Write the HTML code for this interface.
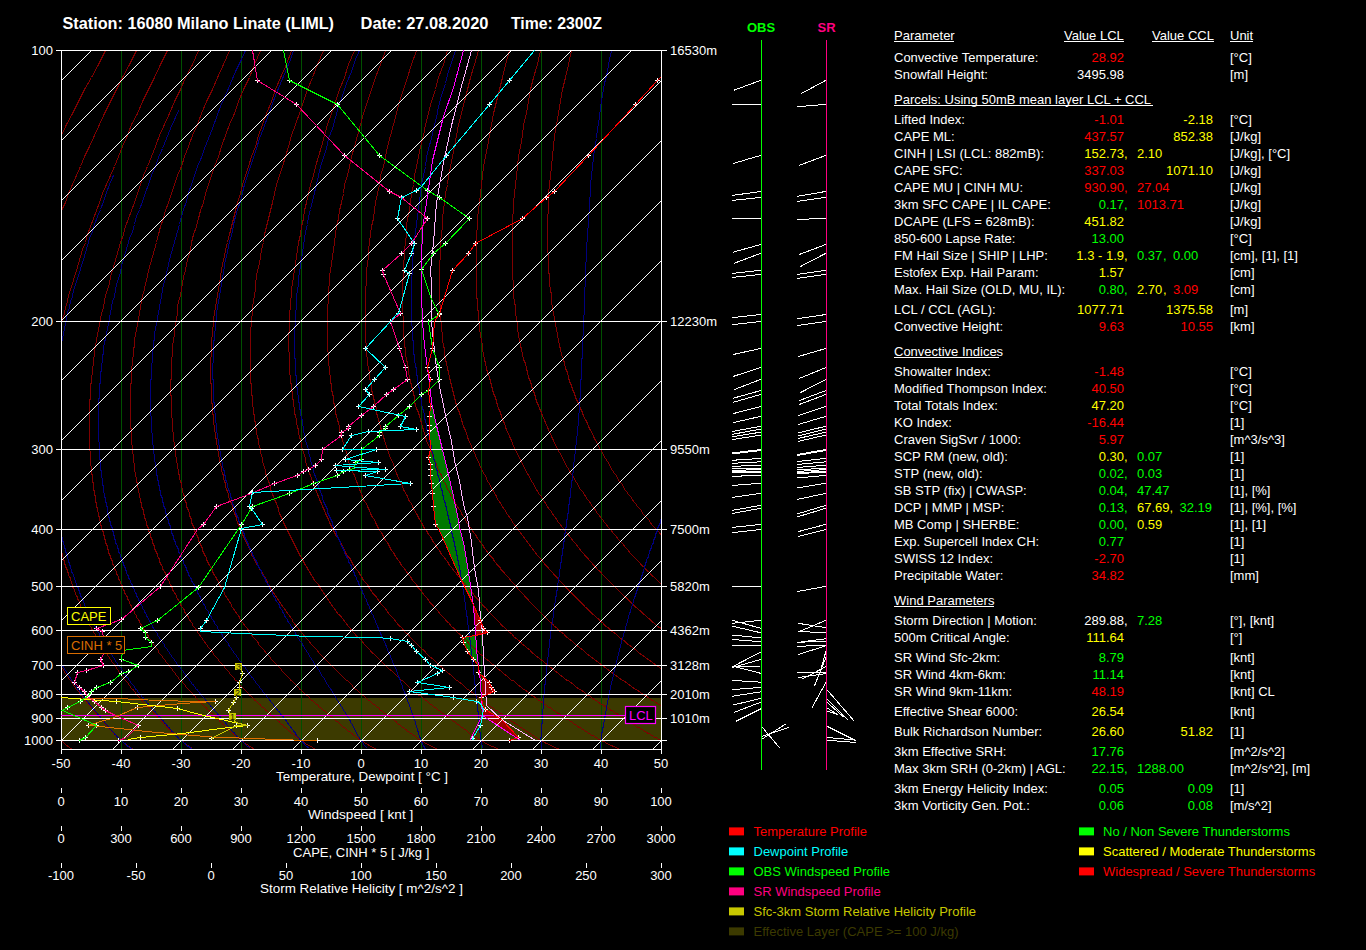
<!DOCTYPE html>
<html><head><meta charset="utf-8"><style>
html,body{margin:0;padding:0;background:#000;}
body{width:1366px;height:950px;overflow:hidden;}
svg{display:block;}
text{font-family:"Liberation Sans",sans-serif;}
</style></head><body>
<svg width="1366" height="950" viewBox="0 0 1366 950">
<rect x="0" y="0" width="1366" height="950" fill="#000"/>
<defs><clipPath id="pc"><rect x="61" y="50" width="600" height="699"/></clipPath></defs>
<g clip-path="url(#pc)" shape-rendering="crispEdges">
<rect x="61" y="698" width="600" height="42" fill="#3c3a00"/>
<polygon points="430.5,406.3 429.9,416.8 429,425.3 429.5,430.5 430.3,449.2 428.4,457.9 430.5,464.2 430.5,475.2 431.6,483.2 432.6,493.7 433.7,506.3 435.8,524.5 439.6,530.2 461.7,580.7 470.6,597 470.5,585.8 467.3,565.6 463.6,542.8 459,526 457,515 453,496 448,474.5 442.3,449.2 436.6,425.3 431.8,402" fill="#007800"/>
<polygon points="475.4,635.4 462.1,637.9 463.4,642.9 467.1,651.8 473.5,659.3 478.5,665.7 476.6,649.2 476,636" fill="#007800"/>
<polygon points="470.6,597 471.8,600.9 480.4,620.2 483.6,628.4 487.3,632.2 475.4,635.4 476,636 475.6,630 473,606" fill="#9a0000"/>
<polygon points="478.5,665.7 478.5,672 489.2,682.1 491.1,687.1 494.8,691.2 486.9,694.5 481.6,697.6 481.3,697 480.4,682.1" fill="#9a0000"/>
<polygon points="481.7,701 482.1,704.6 485.1,709.9 501.8,719.5 518.5,737.1 520.3,740.6 482.1,715.1" fill="#9a0000"/>
<line x1="121.5" y1="50" x2="121.5" y2="749" stroke="#005000" stroke-width="1" />
<line x1="181.5" y1="50" x2="181.5" y2="749" stroke="#005000" stroke-width="1" />
<line x1="241.5" y1="50" x2="241.5" y2="749" stroke="#005000" stroke-width="1" />
<line x1="301.5" y1="50" x2="301.5" y2="749" stroke="#005000" stroke-width="1" />
<line x1="361.5" y1="50" x2="361.5" y2="749" stroke="#005000" stroke-width="1" />
<line x1="421.5" y1="50" x2="421.5" y2="749" stroke="#005000" stroke-width="1" />
<line x1="481.5" y1="50" x2="481.5" y2="749" stroke="#005000" stroke-width="1" />
<line x1="541.5" y1="50" x2="541.5" y2="749" stroke="#005000" stroke-width="1" />
<line x1="601.5" y1="50" x2="601.5" y2="749" stroke="#005000" stroke-width="1" />
<polyline points="71.5,748.5 70.5,748.5 69.5,747.5 68.5,746.5 67.5,746.5 67.5,745.5 66.5,745.5 65.5,744.5 64.5,743.5 63.5,742.5 62.5,741.5 61.5,740.5 60.5,740.5 60.5,739.5 59.5,739.5 58.5,738.5 58.5,737.5 57.5,737.5 57.5,736.5 56.5,735.5 55.5,734.5 54.5,733.5 53.5,732.5 53.5,731.5 52.5,731.5 51.5,730.5 51.5,729.5 50.5,729.5 50.5,728.5 49.5,727.5 48.5,726.5 48.5,725.5 47.5,724.5 46.5,724.5 46.5,723.5 45.5,722.5 45.5,721.5 44.5,721.5 44.5,720.5 43.5,719.5 42.5,719.5 42.5,718.5 41.5,717.5 41.5,716.5 40.5,716.5 39.5,715.5 39.5,714.5 38.5,713.5 37.5,712.5 37.5,711.5 36.5,710.5 35.5,710.5 35.5,709.5 34.5,708.5 34.5,707.5 33.5,707.5 32.5,706.5 32.5,705.5 31.5,704.5 30.5,703.5 29.5,702.5 29.5,701.5 28.5,700.5 27.5,699.5 26.5,698.5 26.5,697.5 25.5,696.5 25.5,695.5 24.5,695.5 24.5,694.5 23.5,693.5 22.5,692.5 22.5,691.5 21.5,690.5 21.5,689.5 20.5,689.5 19.5,688.5 19.5,687.5 18.5,686.5 18.5,685.5 17.5,684.5 17.5,683.5 16.5,682.5 15.5,681.5 15.5,680.5 14.5,680.5 14.5,679.5 13.5,678.5 13.5,677.5 12.5,676.5 11.5,675.5 11.5,674.5 10.5,673.5 10.5,672.5 9.5,671.5 9.5,670.5 8.5,669.5 8.5,668.5 7.5,667.5 6.5,666.5 6.5,665.5 5.5,664.5 5.5,663.5 4.5,662.5 4.5,661.5 3.5,660.5 3.5,659.5 2.5,658.5 1.5,657.5 1.5,656.5 0.5,655.5 0.5,654.5 -0.5,653.5 -0.5,652.5 -1.5,650.5 -1.5,649.5 -2.5,648.5 -3.5,647.5 -3.5,646.5 -4.5,645.5 -4.5,644.5 -5.5,643.5 -5.5,641.5 -6.5,640.5 -6.5,639.5 -7.5,638.5 -7.5,637.5 -8.5,636.5 -9.5,634.5 -9.5,633.5 -10.5,632.5 -10.5,631.5 -11.5,630.5 -11.5,628.5 -12.5,627.5 -12.5,626.5 -13.5,625.5 -13.5,623.5 -14.5,622.5 -14.5,621.5 -15.5,619.5 -15.5,618.5 -16.5,617.5 -16.5,615.5 -17.5,614.5 -17.5,613.5 -17.5,611.5 -18.5,610.5 -18.5,608.5 -19.5,607.5 -19.5,606.5 -20.5,604.5 -20.5,603.5 -21.5,601.5 -21.5,600.5 -22.5,598.5 -22.5,597.5 -22.5,595.5 -23.5,594.5 -23.5,592.5 -24.5,591.5 -24.5,589.5 -25.5,588.5 -25.5,586.5 -25.5,584.5 -26.5,583.5 -26.5,581.5 -27.5,580.5 -27.5,578.5 -27.5,576.5 -28.5,575.5 -28.5,573.5 -29.5,571.5 -29.5,570.5 -29.5,568.5 -30.5,566.5 -30.5,565.5 -31.5,563.5 -31.5,561.5 -31.5,559.5 -32.5,557.5 -32.5,556.5 -32.5,554.5 -33.5,552.5 -33.5,550.5 -33.5,548.5 -34.5,546.5 -34.5,544.5 -34.5,542.5 -34.5,540.5 -35.5,538.5 -35.5,536.5 -35.5,534.5 -36.5,532.5 -36.5,530.5 -36.5,528.5 -36.5,526.5 -36.5,524.5 -37.5,522.5 -37.5,519.5 -37.5,517.5 -37.5,515.5 -37.5,513.5 -38.5,510.5 -38.5,508.5 -38.5,506.5 -38.5,503.5 -38.5,501.5 -38.5,499.5 -38.5,496.5 -38.5,494.5 -38.5,491.5 -38.5,489.5 -38.5,486.5 -38.5,483.5 -38.5,481.5 -38.5,478.5 -38.5,475.5 -38.5,473.5 -38.5,470.5 -38.5,467.5 -38.5,464.5 -38.5,461.5 -38.5,458.5 -38.5,455.5 -37.5,452.5 -37.5,449.5 -37.5,446.5 -37.5,443.5 -36.5,440.5 -36.5,436.5 -36.5,433.5 -35.5,430.5 -35.5,426.5 -35.5,423.5 -34.5,419.5 -34.5,416.5 -33.5,412.5 -33.5,408.5 -32.5,405.5 -32.5,401.5 -31.5,397.5 -30.5,393.5 -30.5,389.5 -29.5,385.5 -28.5,381.5 -27.5,377.5 -26.5,372.5 -25.5,368.5 -24.5,363.5 -23.5,359.5 -22.5,354.5 -21.5,349.5 -20.5,345.5 -18.5,340.5 -17.5,334.5 -16.5,329.5 -14.5,324.5 -12.5,318.5 -11.5,313.5 -9.5,307.5 -7.5,301.5 -5.5,295.5 -3.5,289.5 -1.5,283.5 1.5,276.5 3.5,270.5 5.5,263.5 8.5,256.5 11.5,249.5 14.5,242.5 17.5,234.5 20.5,226.5 23.5,218.5 26.5,210.5 30.5,202.5 34.5,193.5 38.5,184.5 42.5,175.5 46.5,166.5 51.5,156.5 56.5,146.5 61.5,135.5 66.5,124.5 72.5,113.5 78.5,101.5 84.5,89.5 91.5,77.5 98.5,64.5 105.5,50.5" fill="none" stroke="#800000" stroke-width="1" />
<polyline points="132.5,748.5 131.5,748.5 130.5,747.5 129.5,747.5 129.5,746.5 128.5,746.5 127.5,745.5 126.5,744.5 125.5,744.5 124.5,743.5 123.5,742.5 122.5,741.5 121.5,740.5 120.5,740.5 120.5,739.5 119.5,739.5 118.5,738.5 118.5,737.5 117.5,737.5 116.5,736.5 116.5,735.5 115.5,735.5 114.5,734.5 114.5,733.5 113.5,733.5 113.5,732.5 112.5,731.5 111.5,731.5 111.5,730.5 110.5,729.5 109.5,729.5 109.5,728.5 108.5,727.5 107.5,726.5 106.5,725.5 106.5,724.5 105.5,724.5 104.5,723.5 104.5,722.5 103.5,721.5 102.5,720.5 101.5,719.5 100.5,718.5 99.5,717.5 99.5,716.5 98.5,716.5 97.5,715.5 97.5,714.5 96.5,713.5 95.5,713.5 95.5,712.5 94.5,711.5 94.5,710.5 93.5,710.5 92.5,709.5 92.5,708.5 91.5,707.5 90.5,707.5 90.5,706.5 89.5,705.5 88.5,704.5 87.5,703.5 86.5,702.5 86.5,701.5 85.5,700.5 84.5,700.5 84.5,699.5 83.5,698.5 82.5,697.5 82.5,696.5 81.5,695.5 80.5,695.5 80.5,694.5 79.5,693.5 79.5,692.5 78.5,691.5 77.5,690.5 77.5,689.5 76.5,689.5 75.5,688.5 75.5,687.5 74.5,686.5 73.5,685.5 73.5,684.5 72.5,683.5 71.5,682.5 71.5,681.5 70.5,680.5 69.5,679.5 68.5,678.5 68.5,677.5 67.5,676.5 66.5,675.5 66.5,674.5 65.5,673.5 64.5,672.5 64.5,671.5 63.5,670.5 63.5,669.5 62.5,668.5 61.5,667.5 61.5,666.5 60.5,665.5 59.5,664.5 59.5,663.5 58.5,662.5 58.5,661.5 57.5,660.5 56.5,659.5 56.5,658.5 55.5,657.5 54.5,656.5 54.5,655.5 53.5,654.5 53.5,653.5 52.5,652.5 51.5,650.5 51.5,649.5 50.5,648.5 49.5,647.5 49.5,646.5 48.5,645.5 48.5,644.5 47.5,643.5 46.5,641.5 46.5,640.5 45.5,639.5 44.5,638.5 44.5,637.5 43.5,636.5 43.5,634.5 42.5,633.5 41.5,632.5 41.5,631.5 40.5,630.5 40.5,628.5 39.5,627.5 38.5,626.5 38.5,625.5 37.5,623.5 37.5,622.5 36.5,621.5 36.5,619.5 35.5,618.5 34.5,617.5 34.5,615.5 33.5,614.5 33.5,613.5 32.5,611.5 32.5,610.5 31.5,608.5 31.5,607.5 30.5,606.5 29.5,604.5 29.5,603.5 28.5,601.5 28.5,600.5 27.5,598.5 27.5,597.5 26.5,595.5 26.5,594.5 25.5,592.5 25.5,591.5 24.5,589.5 24.5,588.5 23.5,586.5 23.5,584.5 22.5,583.5 22.5,581.5 21.5,580.5 21.5,578.5 20.5,576.5 20.5,575.5 19.5,573.5 19.5,571.5 18.5,570.5 18.5,568.5 17.5,566.5 17.5,565.5 16.5,563.5 16.5,561.5 16.5,559.5 15.5,557.5 15.5,556.5 14.5,554.5 14.5,552.5 13.5,550.5 13.5,548.5 12.5,546.5 12.5,544.5 12.5,542.5 11.5,540.5 11.5,538.5 11.5,536.5 10.5,534.5 10.5,532.5 9.5,530.5 9.5,528.5 9.5,526.5 9.5,524.5 8.5,522.5 8.5,519.5 8.5,517.5 7.5,515.5 7.5,513.5 7.5,510.5 7.5,508.5 6.5,506.5 6.5,503.5 6.5,501.5 6.5,499.5 5.5,496.5 5.5,494.5 5.5,491.5 5.5,489.5 5.5,486.5 5.5,483.5 4.5,481.5 4.5,478.5 4.5,475.5 4.5,473.5 4.5,470.5 4.5,467.5 4.5,464.5 4.5,461.5 4.5,458.5 4.5,455.5 4.5,452.5 4.5,449.5 4.5,446.5 5.5,443.5 5.5,440.5 5.5,436.5 5.5,433.5 5.5,430.5 6.5,426.5 6.5,423.5 6.5,419.5 7.5,416.5 7.5,412.5 7.5,408.5 8.5,405.5 8.5,401.5 9.5,397.5 9.5,393.5 10.5,389.5 10.5,385.5 11.5,381.5 12.5,377.5 12.5,372.5 13.5,368.5 14.5,363.5 15.5,359.5 16.5,354.5 17.5,349.5 18.5,345.5 19.5,340.5 20.5,334.5 22.5,329.5 23.5,324.5 24.5,318.5 26.5,313.5 28.5,307.5 29.5,301.5 31.5,295.5 33.5,289.5 35.5,283.5 37.5,276.5 39.5,270.5 42.5,263.5 44.5,256.5 47.5,249.5 49.5,242.5 52.5,234.5 55.5,226.5 58.5,218.5 61.5,210.5 65.5,202.5 68.5,193.5 72.5,184.5 76.5,175.5 80.5,166.5 84.5,156.5 89.5,146.5 94.5,135.5 99.5,124.5 104.5,113.5 110.5,101.5 116.5,89.5 122.5,77.5 129.5,64.5 136.5,50.5" fill="none" stroke="#800000" stroke-width="1" />
<polyline points="192.5,748.5 191.5,747.5 190.5,747.5 189.5,746.5 188.5,745.5 187.5,745.5 186.5,744.5 185.5,743.5 184.5,743.5 183.5,742.5 183.5,741.5 182.5,741.5 181.5,740.5 180.5,740.5 180.5,739.5 179.5,739.5 178.5,738.5 177.5,737.5 176.5,736.5 175.5,735.5 174.5,734.5 173.5,733.5 172.5,732.5 171.5,731.5 170.5,731.5 170.5,730.5 169.5,729.5 168.5,729.5 168.5,728.5 167.5,727.5 166.5,727.5 166.5,726.5 165.5,725.5 164.5,724.5 163.5,723.5 162.5,722.5 162.5,721.5 161.5,721.5 160.5,720.5 160.5,719.5 159.5,719.5 158.5,718.5 157.5,717.5 157.5,716.5 156.5,716.5 155.5,715.5 155.5,714.5 154.5,713.5 153.5,713.5 153.5,712.5 152.5,711.5 151.5,710.5 150.5,710.5 150.5,709.5 149.5,708.5 148.5,707.5 147.5,706.5 146.5,705.5 145.5,704.5 144.5,703.5 143.5,702.5 142.5,701.5 142.5,700.5 141.5,700.5 140.5,699.5 140.5,698.5 139.5,697.5 138.5,696.5 137.5,695.5 136.5,694.5 135.5,693.5 135.5,692.5 134.5,691.5 133.5,690.5 133.5,689.5 132.5,689.5 131.5,688.5 130.5,687.5 130.5,686.5 129.5,685.5 128.5,684.5 128.5,683.5 127.5,682.5 126.5,681.5 125.5,680.5 124.5,679.5 123.5,678.5 123.5,677.5 122.5,676.5 121.5,675.5 121.5,674.5 120.5,673.5 119.5,672.5 118.5,671.5 118.5,670.5 117.5,669.5 116.5,668.5 116.5,667.5 115.5,666.5 114.5,665.5 114.5,664.5 113.5,663.5 112.5,662.5 111.5,661.5 111.5,660.5 110.5,659.5 109.5,658.5 109.5,657.5 108.5,656.5 107.5,655.5 107.5,654.5 106.5,653.5 105.5,652.5 104.5,650.5 104.5,649.5 103.5,648.5 102.5,647.5 102.5,646.5 101.5,645.5 100.5,644.5 100.5,643.5 99.5,641.5 98.5,640.5 97.5,639.5 97.5,638.5 96.5,637.5 95.5,636.5 95.5,634.5 94.5,633.5 93.5,632.5 93.5,631.5 92.5,630.5 91.5,628.5 91.5,627.5 90.5,626.5 89.5,625.5 89.5,623.5 88.5,622.5 87.5,621.5 87.5,619.5 86.5,618.5 85.5,617.5 85.5,615.5 84.5,614.5 84.5,613.5 83.5,611.5 82.5,610.5 82.5,608.5 81.5,607.5 80.5,606.5 80.5,604.5 79.5,603.5 79.5,601.5 78.5,600.5 77.5,598.5 77.5,597.5 76.5,595.5 75.5,594.5 75.5,592.5 74.5,591.5 74.5,589.5 73.5,588.5 72.5,586.5 72.5,584.5 71.5,583.5 71.5,581.5 70.5,580.5 70.5,578.5 69.5,576.5 68.5,575.5 68.5,573.5 67.5,571.5 67.5,570.5 66.5,568.5 65.5,566.5 65.5,565.5 64.5,563.5 64.5,561.5 63.5,559.5 63.5,557.5 62.5,556.5 62.5,554.5 61.5,552.5 61.5,550.5 60.5,548.5 60.5,546.5 59.5,544.5 59.5,542.5 58.5,540.5 58.5,538.5 57.5,536.5 57.5,534.5 56.5,532.5 56.5,530.5 55.5,528.5 55.5,526.5 54.5,524.5 54.5,522.5 54.5,519.5 53.5,517.5 53.5,515.5 52.5,513.5 52.5,510.5 52.5,508.5 51.5,506.5 51.5,503.5 51.5,501.5 50.5,499.5 50.5,496.5 50.5,494.5 49.5,491.5 49.5,489.5 49.5,486.5 49.5,483.5 48.5,481.5 48.5,478.5 48.5,475.5 48.5,473.5 48.5,470.5 47.5,467.5 47.5,464.5 47.5,461.5 47.5,458.5 47.5,455.5 47.5,452.5 47.5,449.5 47.5,446.5 47.5,443.5 47.5,440.5 47.5,436.5 47.5,433.5 47.5,430.5 47.5,426.5 47.5,423.5 48.5,419.5 48.5,416.5 48.5,412.5 48.5,408.5 48.5,405.5 49.5,401.5 49.5,397.5 49.5,393.5 50.5,389.5 50.5,385.5 51.5,381.5 51.5,377.5 52.5,372.5 53.5,368.5 53.5,363.5 54.5,359.5 55.5,354.5 56.5,349.5 57.5,345.5 58.5,340.5 59.5,334.5 60.5,329.5 61.5,324.5 62.5,318.5 64.5,313.5 65.5,307.5 67.5,301.5 68.5,295.5 70.5,289.5 72.5,283.5 74.5,276.5 76.5,270.5 78.5,263.5 80.5,256.5 82.5,249.5 85.5,242.5 87.5,234.5 90.5,226.5 93.5,218.5 96.5,210.5 99.5,202.5 102.5,193.5 106.5,184.5 110.5,175.5 114.5,166.5 118.5,156.5 122.5,146.5 127.5,135.5 131.5,124.5 137.5,113.5 142.5,101.5 148.5,89.5 154.5,77.5 160.5,64.5 167.5,50.5" fill="none" stroke="#800000" stroke-width="1" />
<polyline points="253.5,748.5 252.5,748.5 252.5,747.5 251.5,747.5 250.5,746.5 249.5,746.5 248.5,745.5 247.5,744.5 246.5,744.5 245.5,743.5 244.5,743.5 243.5,742.5 243.5,741.5 242.5,741.5 241.5,740.5 240.5,740.5 240.5,739.5 239.5,739.5 238.5,738.5 237.5,737.5 236.5,737.5 236.5,736.5 235.5,735.5 234.5,735.5 233.5,734.5 233.5,733.5 232.5,733.5 231.5,732.5 230.5,731.5 229.5,730.5 228.5,729.5 227.5,729.5 227.5,728.5 226.5,727.5 225.5,727.5 225.5,726.5 224.5,725.5 223.5,724.5 222.5,724.5 222.5,723.5 221.5,722.5 220.5,721.5 219.5,721.5 219.5,720.5 218.5,719.5 217.5,719.5 216.5,718.5 216.5,717.5 215.5,716.5 214.5,716.5 213.5,715.5 213.5,714.5 212.5,713.5 211.5,713.5 210.5,712.5 209.5,711.5 209.5,710.5 208.5,710.5 207.5,709.5 206.5,708.5 206.5,707.5 205.5,707.5 204.5,706.5 203.5,705.5 202.5,704.5 201.5,703.5 200.5,702.5 199.5,701.5 199.5,700.5 198.5,700.5 197.5,699.5 196.5,698.5 195.5,697.5 195.5,696.5 194.5,695.5 193.5,695.5 192.5,694.5 192.5,693.5 191.5,692.5 190.5,691.5 189.5,690.5 188.5,689.5 187.5,688.5 186.5,687.5 185.5,686.5 185.5,685.5 184.5,684.5 183.5,683.5 182.5,682.5 182.5,681.5 181.5,680.5 180.5,680.5 179.5,679.5 178.5,678.5 178.5,677.5 177.5,676.5 176.5,675.5 175.5,674.5 175.5,673.5 174.5,672.5 173.5,671.5 172.5,670.5 172.5,669.5 171.5,668.5 170.5,667.5 169.5,666.5 168.5,665.5 168.5,664.5 167.5,663.5 166.5,662.5 165.5,661.5 165.5,660.5 164.5,659.5 163.5,658.5 162.5,657.5 162.5,656.5 161.5,655.5 160.5,654.5 159.5,653.5 158.5,652.5 158.5,650.5 157.5,649.5 156.5,648.5 155.5,647.5 155.5,646.5 154.5,645.5 153.5,644.5 152.5,643.5 151.5,641.5 151.5,640.5 150.5,639.5 149.5,638.5 148.5,637.5 148.5,636.5 147.5,634.5 146.5,633.5 145.5,632.5 145.5,631.5 144.5,630.5 143.5,628.5 142.5,627.5 142.5,626.5 141.5,625.5 140.5,623.5 139.5,622.5 139.5,621.5 138.5,619.5 137.5,618.5 136.5,617.5 136.5,615.5 135.5,614.5 134.5,613.5 134.5,611.5 133.5,610.5 132.5,608.5 131.5,607.5 131.5,606.5 130.5,604.5 129.5,603.5 129.5,601.5 128.5,600.5 127.5,598.5 127.5,597.5 126.5,595.5 125.5,594.5 124.5,592.5 124.5,591.5 123.5,589.5 122.5,588.5 122.5,586.5 121.5,584.5 120.5,583.5 120.5,581.5 119.5,580.5 118.5,578.5 118.5,576.5 117.5,575.5 116.5,573.5 116.5,571.5 115.5,570.5 114.5,568.5 114.5,566.5 113.5,565.5 112.5,563.5 112.5,561.5 111.5,559.5 110.5,557.5 110.5,556.5 109.5,554.5 108.5,552.5 108.5,550.5 107.5,548.5 107.5,546.5 106.5,544.5 105.5,542.5 105.5,540.5 104.5,538.5 104.5,536.5 103.5,534.5 103.5,532.5 102.5,530.5 101.5,528.5 101.5,526.5 100.5,524.5 100.5,522.5 99.5,519.5 99.5,517.5 98.5,515.5 98.5,513.5 97.5,510.5 97.5,508.5 96.5,506.5 96.5,503.5 95.5,501.5 95.5,499.5 95.5,496.5 94.5,494.5 94.5,491.5 93.5,489.5 93.5,486.5 93.5,483.5 92.5,481.5 92.5,478.5 92.5,475.5 91.5,473.5 91.5,470.5 91.5,467.5 90.5,464.5 90.5,461.5 90.5,458.5 90.5,455.5 90.5,452.5 89.5,449.5 89.5,446.5 89.5,443.5 89.5,440.5 89.5,436.5 89.5,433.5 89.5,430.5 89.5,426.5 89.5,423.5 89.5,419.5 89.5,416.5 89.5,412.5 89.5,408.5 89.5,405.5 89.5,401.5 90.5,397.5 90.5,393.5 90.5,389.5 90.5,385.5 91.5,381.5 91.5,377.5 92.5,372.5 92.5,368.5 93.5,363.5 93.5,359.5 94.5,354.5 94.5,349.5 95.5,345.5 96.5,340.5 97.5,334.5 98.5,329.5 99.5,324.5 100.5,318.5 101.5,313.5 103.5,307.5 104.5,301.5 105.5,295.5 107.5,289.5 109.5,283.5 110.5,276.5 112.5,270.5 114.5,263.5 116.5,256.5 118.5,249.5 120.5,242.5 123.5,234.5 125.5,226.5 128.5,218.5 131.5,210.5 134.5,202.5 137.5,193.5 140.5,184.5 143.5,175.5 147.5,166.5 151.5,156.5 155.5,146.5 159.5,135.5 164.5,124.5 169.5,113.5 174.5,101.5 180.5,89.5 185.5,77.5 192.5,64.5 198.5,50.5" fill="none" stroke="#800000" stroke-width="1" />
<polyline points="314.5,748.5 313.5,748.5 312.5,747.5 311.5,746.5 310.5,746.5 309.5,745.5 308.5,745.5 307.5,744.5 306.5,744.5 305.5,743.5 304.5,742.5 303.5,741.5 302.5,741.5 301.5,740.5 300.5,740.5 299.5,739.5 298.5,738.5 297.5,737.5 296.5,737.5 295.5,736.5 295.5,735.5 294.5,735.5 293.5,734.5 292.5,733.5 291.5,733.5 290.5,732.5 290.5,731.5 289.5,731.5 288.5,730.5 287.5,729.5 286.5,728.5 285.5,727.5 284.5,727.5 283.5,726.5 283.5,725.5 282.5,724.5 281.5,724.5 280.5,723.5 279.5,722.5 279.5,721.5 278.5,721.5 277.5,720.5 276.5,719.5 275.5,719.5 275.5,718.5 274.5,717.5 273.5,716.5 272.5,716.5 271.5,715.5 270.5,714.5 270.5,713.5 269.5,713.5 268.5,712.5 267.5,711.5 266.5,710.5 265.5,710.5 265.5,709.5 264.5,708.5 263.5,707.5 262.5,707.5 261.5,706.5 260.5,705.5 260.5,704.5 259.5,704.5 258.5,703.5 257.5,702.5 256.5,701.5 255.5,700.5 254.5,700.5 254.5,699.5 253.5,698.5 252.5,697.5 251.5,696.5 250.5,695.5 249.5,695.5 249.5,694.5 248.5,693.5 247.5,692.5 246.5,691.5 245.5,690.5 244.5,689.5 243.5,688.5 242.5,687.5 241.5,686.5 240.5,685.5 239.5,684.5 239.5,683.5 238.5,682.5 237.5,681.5 236.5,680.5 235.5,680.5 234.5,679.5 234.5,678.5 233.5,677.5 232.5,676.5 231.5,675.5 230.5,674.5 229.5,673.5 229.5,672.5 228.5,671.5 227.5,670.5 226.5,669.5 225.5,668.5 224.5,667.5 224.5,666.5 223.5,665.5 222.5,664.5 221.5,663.5 220.5,662.5 219.5,661.5 218.5,660.5 218.5,659.5 217.5,658.5 216.5,657.5 215.5,656.5 214.5,655.5 213.5,654.5 213.5,653.5 212.5,652.5 211.5,650.5 210.5,649.5 209.5,648.5 208.5,647.5 207.5,646.5 207.5,645.5 206.5,644.5 205.5,643.5 204.5,641.5 203.5,640.5 202.5,639.5 202.5,638.5 201.5,637.5 200.5,636.5 199.5,634.5 198.5,633.5 197.5,632.5 197.5,631.5 196.5,630.5 195.5,628.5 194.5,627.5 193.5,626.5 192.5,625.5 192.5,623.5 191.5,622.5 190.5,621.5 189.5,619.5 188.5,618.5 188.5,617.5 187.5,615.5 186.5,614.5 185.5,613.5 184.5,611.5 184.5,610.5 183.5,608.5 182.5,607.5 181.5,606.5 180.5,604.5 180.5,603.5 179.5,601.5 178.5,600.5 177.5,598.5 176.5,597.5 176.5,595.5 175.5,594.5 174.5,592.5 173.5,591.5 172.5,589.5 172.5,588.5 171.5,586.5 170.5,584.5 169.5,583.5 169.5,581.5 168.5,580.5 167.5,578.5 166.5,576.5 166.5,575.5 165.5,573.5 164.5,571.5 163.5,570.5 162.5,568.5 162.5,566.5 161.5,565.5 160.5,563.5 159.5,561.5 159.5,559.5 158.5,557.5 157.5,556.5 157.5,554.5 156.5,552.5 155.5,550.5 154.5,548.5 154.5,546.5 153.5,544.5 152.5,542.5 152.5,540.5 151.5,538.5 150.5,536.5 150.5,534.5 149.5,532.5 148.5,530.5 148.5,528.5 147.5,526.5 146.5,524.5 146.5,522.5 145.5,519.5 144.5,517.5 144.5,515.5 143.5,513.5 143.5,510.5 142.5,508.5 141.5,506.5 141.5,503.5 140.5,501.5 140.5,499.5 139.5,496.5 139.5,494.5 138.5,491.5 138.5,489.5 137.5,486.5 137.5,483.5 136.5,481.5 136.5,478.5 135.5,475.5 135.5,473.5 134.5,470.5 134.5,467.5 134.5,464.5 133.5,461.5 133.5,458.5 133.5,455.5 132.5,452.5 132.5,449.5 132.5,446.5 131.5,443.5 131.5,440.5 131.5,436.5 131.5,433.5 131.5,430.5 130.5,426.5 130.5,423.5 130.5,419.5 130.5,416.5 130.5,412.5 130.5,408.5 130.5,405.5 130.5,401.5 130.5,397.5 130.5,393.5 130.5,389.5 130.5,385.5 131.5,381.5 131.5,377.5 131.5,372.5 131.5,368.5 132.5,363.5 132.5,359.5 133.5,354.5 133.5,349.5 134.5,345.5 134.5,340.5 135.5,334.5 136.5,329.5 137.5,324.5 138.5,318.5 139.5,313.5 140.5,307.5 141.5,301.5 142.5,295.5 144.5,289.5 145.5,283.5 147.5,276.5 148.5,270.5 150.5,263.5 152.5,256.5 154.5,249.5 156.5,242.5 158.5,234.5 160.5,226.5 163.5,218.5 165.5,210.5 168.5,202.5 171.5,193.5 174.5,184.5 177.5,175.5 181.5,166.5 184.5,156.5 188.5,146.5 192.5,135.5 197.5,124.5 201.5,113.5 206.5,101.5 212.5,89.5 217.5,77.5 223.5,64.5 229.5,50.5" fill="none" stroke="#800000" stroke-width="1" />
<polyline points="375.5,748.5 374.5,748.5 373.5,747.5 372.5,747.5 371.5,746.5 370.5,746.5 369.5,745.5 368.5,745.5 368.5,744.5 367.5,744.5 366.5,743.5 365.5,743.5 364.5,742.5 363.5,741.5 362.5,741.5 361.5,740.5 360.5,740.5 359.5,739.5 358.5,739.5 358.5,738.5 357.5,737.5 356.5,737.5 355.5,736.5 354.5,735.5 353.5,735.5 352.5,734.5 352.5,733.5 351.5,733.5 350.5,732.5 349.5,731.5 348.5,731.5 347.5,730.5 346.5,729.5 345.5,728.5 344.5,727.5 343.5,727.5 342.5,726.5 341.5,725.5 340.5,724.5 339.5,723.5 338.5,722.5 337.5,721.5 336.5,721.5 335.5,720.5 334.5,719.5 333.5,718.5 332.5,717.5 331.5,716.5 330.5,716.5 329.5,715.5 328.5,714.5 327.5,713.5 326.5,712.5 325.5,711.5 324.5,710.5 323.5,710.5 322.5,709.5 321.5,708.5 320.5,707.5 319.5,707.5 318.5,706.5 318.5,705.5 317.5,704.5 316.5,704.5 315.5,703.5 314.5,702.5 313.5,701.5 312.5,700.5 311.5,700.5 310.5,699.5 309.5,698.5 309.5,697.5 308.5,696.5 307.5,695.5 306.5,695.5 305.5,694.5 304.5,693.5 303.5,692.5 302.5,691.5 301.5,690.5 300.5,689.5 299.5,689.5 299.5,688.5 298.5,687.5 297.5,686.5 296.5,685.5 295.5,684.5 294.5,683.5 293.5,682.5 292.5,681.5 291.5,680.5 290.5,680.5 290.5,679.5 289.5,678.5 288.5,677.5 287.5,676.5 286.5,675.5 285.5,674.5 284.5,673.5 283.5,672.5 282.5,671.5 281.5,670.5 281.5,669.5 280.5,668.5 279.5,667.5 278.5,666.5 277.5,665.5 276.5,664.5 275.5,663.5 274.5,662.5 273.5,661.5 272.5,660.5 271.5,659.5 270.5,658.5 270.5,657.5 269.5,656.5 268.5,655.5 267.5,654.5 266.5,653.5 265.5,652.5 264.5,650.5 263.5,649.5 262.5,648.5 261.5,647.5 260.5,646.5 259.5,645.5 258.5,644.5 258.5,643.5 257.5,641.5 256.5,640.5 255.5,639.5 254.5,638.5 253.5,637.5 252.5,636.5 251.5,634.5 250.5,633.5 249.5,632.5 248.5,631.5 248.5,630.5 247.5,628.5 246.5,627.5 245.5,626.5 244.5,625.5 243.5,623.5 242.5,622.5 241.5,621.5 240.5,619.5 239.5,618.5 239.5,617.5 238.5,615.5 237.5,614.5 236.5,613.5 235.5,611.5 234.5,610.5 233.5,608.5 232.5,607.5 231.5,606.5 231.5,604.5 230.5,603.5 229.5,601.5 228.5,600.5 227.5,598.5 226.5,597.5 225.5,595.5 224.5,594.5 224.5,592.5 223.5,591.5 222.5,589.5 221.5,588.5 220.5,586.5 219.5,584.5 218.5,583.5 218.5,581.5 217.5,580.5 216.5,578.5 215.5,576.5 214.5,575.5 213.5,573.5 212.5,571.5 212.5,570.5 211.5,568.5 210.5,566.5 209.5,565.5 208.5,563.5 207.5,561.5 206.5,559.5 206.5,557.5 205.5,556.5 204.5,554.5 203.5,552.5 202.5,550.5 202.5,548.5 201.5,546.5 200.5,544.5 199.5,542.5 198.5,540.5 198.5,538.5 197.5,536.5 196.5,534.5 195.5,532.5 194.5,530.5 194.5,528.5 193.5,526.5 192.5,524.5 191.5,522.5 191.5,519.5 190.5,517.5 189.5,515.5 189.5,513.5 188.5,510.5 187.5,508.5 186.5,506.5 186.5,503.5 185.5,501.5 184.5,499.5 184.5,496.5 183.5,494.5 182.5,491.5 182.5,489.5 181.5,486.5 181.5,483.5 180.5,481.5 179.5,478.5 179.5,475.5 178.5,473.5 178.5,470.5 177.5,467.5 177.5,464.5 176.5,461.5 176.5,458.5 175.5,455.5 175.5,452.5 175.5,449.5 174.5,446.5 174.5,443.5 173.5,440.5 173.5,436.5 173.5,433.5 172.5,430.5 172.5,426.5 172.5,423.5 172.5,419.5 171.5,416.5 171.5,412.5 171.5,408.5 171.5,405.5 171.5,401.5 171.5,397.5 170.5,393.5 170.5,389.5 170.5,385.5 170.5,381.5 171.5,377.5 171.5,372.5 171.5,368.5 171.5,363.5 171.5,359.5 172.5,354.5 172.5,349.5 172.5,345.5 173.5,340.5 174.5,334.5 174.5,329.5 175.5,324.5 176.5,318.5 177.5,313.5 177.5,307.5 178.5,301.5 180.5,295.5 181.5,289.5 182.5,283.5 183.5,276.5 185.5,270.5 186.5,263.5 188.5,256.5 190.5,249.5 191.5,242.5 193.5,234.5 196.5,226.5 198.5,218.5 200.5,210.5 203.5,202.5 205.5,193.5 208.5,184.5 211.5,175.5 214.5,166.5 218.5,156.5 221.5,146.5 225.5,135.5 229.5,124.5 234.5,113.5 238.5,101.5 243.5,89.5 249.5,77.5 254.5,64.5 260.5,50.5" fill="none" stroke="#800000" stroke-width="1" />
<polyline points="436.5,748.5 435.5,748.5 434.5,747.5 433.5,747.5 432.5,746.5 431.5,746.5 430.5,745.5 429.5,745.5 428.5,744.5 427.5,744.5 426.5,743.5 425.5,743.5 424.5,742.5 423.5,741.5 422.5,741.5 421.5,740.5 420.5,740.5 419.5,739.5 418.5,739.5 417.5,738.5 416.5,737.5 415.5,736.5 414.5,735.5 413.5,735.5 412.5,734.5 411.5,733.5 410.5,733.5 409.5,732.5 408.5,731.5 407.5,731.5 406.5,730.5 406.5,729.5 405.5,729.5 404.5,728.5 403.5,727.5 402.5,727.5 401.5,726.5 400.5,725.5 399.5,724.5 398.5,724.5 397.5,723.5 396.5,722.5 396.5,721.5 395.5,721.5 394.5,720.5 393.5,719.5 392.5,719.5 391.5,718.5 390.5,717.5 389.5,716.5 388.5,716.5 387.5,715.5 386.5,714.5 385.5,713.5 384.5,713.5 383.5,712.5 382.5,711.5 381.5,710.5 380.5,710.5 379.5,709.5 379.5,708.5 378.5,707.5 377.5,707.5 376.5,706.5 375.5,705.5 374.5,704.5 373.5,704.5 372.5,703.5 371.5,702.5 370.5,701.5 369.5,700.5 368.5,700.5 367.5,699.5 366.5,698.5 365.5,697.5 364.5,696.5 363.5,695.5 362.5,695.5 361.5,694.5 360.5,693.5 359.5,692.5 358.5,691.5 357.5,690.5 356.5,689.5 355.5,689.5 354.5,688.5 353.5,687.5 352.5,686.5 352.5,685.5 351.5,684.5 350.5,683.5 349.5,682.5 348.5,681.5 347.5,680.5 346.5,680.5 345.5,679.5 344.5,678.5 343.5,677.5 342.5,676.5 341.5,675.5 340.5,674.5 339.5,673.5 338.5,672.5 337.5,671.5 336.5,670.5 335.5,669.5 334.5,668.5 333.5,667.5 332.5,666.5 331.5,665.5 330.5,664.5 329.5,663.5 328.5,662.5 327.5,661.5 326.5,660.5 325.5,659.5 324.5,658.5 323.5,657.5 322.5,656.5 321.5,655.5 320.5,654.5 319.5,653.5 318.5,652.5 317.5,650.5 316.5,649.5 315.5,648.5 314.5,647.5 313.5,646.5 312.5,645.5 311.5,644.5 310.5,643.5 309.5,641.5 308.5,640.5 307.5,639.5 306.5,638.5 305.5,637.5 304.5,636.5 303.5,634.5 302.5,633.5 301.5,632.5 300.5,631.5 299.5,630.5 298.5,628.5 297.5,627.5 296.5,626.5 295.5,625.5 294.5,623.5 293.5,622.5 292.5,621.5 292.5,619.5 291.5,618.5 290.5,617.5 289.5,615.5 288.5,614.5 287.5,613.5 286.5,611.5 285.5,610.5 284.5,608.5 283.5,607.5 282.5,606.5 281.5,604.5 280.5,603.5 279.5,601.5 278.5,600.5 277.5,598.5 276.5,597.5 275.5,595.5 274.5,594.5 273.5,592.5 272.5,591.5 271.5,589.5 270.5,588.5 269.5,586.5 268.5,584.5 267.5,583.5 267.5,581.5 266.5,580.5 265.5,578.5 264.5,576.5 263.5,575.5 262.5,573.5 261.5,571.5 260.5,570.5 259.5,568.5 258.5,566.5 257.5,565.5 256.5,563.5 255.5,561.5 254.5,559.5 253.5,557.5 252.5,556.5 251.5,554.5 251.5,552.5 250.5,550.5 249.5,548.5 248.5,546.5 247.5,544.5 246.5,542.5 245.5,540.5 244.5,538.5 243.5,536.5 242.5,534.5 242.5,532.5 241.5,530.5 240.5,528.5 239.5,526.5 238.5,524.5 237.5,522.5 236.5,519.5 236.5,517.5 235.5,515.5 234.5,513.5 233.5,510.5 232.5,508.5 232.5,506.5 231.5,503.5 230.5,501.5 229.5,499.5 228.5,496.5 228.5,494.5 227.5,491.5 226.5,489.5 225.5,486.5 225.5,483.5 224.5,481.5 223.5,478.5 223.5,475.5 222.5,473.5 221.5,470.5 221.5,467.5 220.5,464.5 219.5,461.5 219.5,458.5 218.5,455.5 218.5,452.5 217.5,449.5 217.5,446.5 216.5,443.5 216.5,440.5 215.5,436.5 215.5,433.5 214.5,430.5 214.5,426.5 213.5,423.5 213.5,419.5 213.5,416.5 212.5,412.5 212.5,408.5 212.5,405.5 211.5,401.5 211.5,397.5 211.5,393.5 211.5,389.5 211.5,385.5 210.5,381.5 210.5,377.5 210.5,372.5 210.5,368.5 210.5,363.5 210.5,359.5 211.5,354.5 211.5,349.5 211.5,345.5 211.5,340.5 212.5,334.5 212.5,329.5 213.5,324.5 213.5,318.5 214.5,313.5 215.5,307.5 216.5,301.5 217.5,295.5 218.5,289.5 219.5,283.5 220.5,276.5 221.5,270.5 222.5,263.5 224.5,256.5 225.5,249.5 227.5,242.5 229.5,234.5 231.5,226.5 233.5,218.5 235.5,210.5 237.5,202.5 240.5,193.5 242.5,184.5 245.5,175.5 248.5,166.5 251.5,156.5 255.5,146.5 258.5,135.5 262.5,124.5 266.5,113.5 271.5,101.5 275.5,89.5 280.5,77.5 286.5,64.5 291.5,50.5" fill="none" stroke="#800000" stroke-width="1" />
<polyline points="497.5,748.5 496.5,748.5 495.5,747.5 494.5,747.5 493.5,746.5 491.5,746.5 490.5,745.5 489.5,745.5 488.5,744.5 487.5,744.5 486.5,743.5 485.5,743.5 484.5,742.5 483.5,741.5 482.5,741.5 481.5,740.5 480.5,740.5 479.5,739.5 478.5,739.5 477.5,738.5 476.5,737.5 475.5,737.5 474.5,736.5 473.5,735.5 472.5,735.5 471.5,734.5 470.5,733.5 469.5,733.5 468.5,732.5 467.5,731.5 466.5,730.5 465.5,729.5 464.5,729.5 463.5,728.5 462.5,727.5 461.5,727.5 460.5,726.5 459.5,725.5 458.5,724.5 457.5,724.5 456.5,723.5 455.5,722.5 454.5,721.5 453.5,721.5 452.5,720.5 451.5,719.5 450.5,719.5 449.5,718.5 448.5,717.5 447.5,716.5 446.5,716.5 445.5,715.5 444.5,714.5 443.5,713.5 442.5,713.5 441.5,712.5 440.5,711.5 439.5,710.5 438.5,710.5 437.5,709.5 436.5,708.5 435.5,707.5 434.5,707.5 433.5,706.5 432.5,705.5 431.5,704.5 430.5,704.5 429.5,703.5 428.5,702.5 427.5,701.5 426.5,700.5 425.5,700.5 424.5,699.5 423.5,698.5 422.5,697.5 421.5,696.5 420.5,695.5 418.5,695.5 417.5,694.5 416.5,693.5 415.5,692.5 414.5,691.5 413.5,690.5 412.5,689.5 411.5,689.5 410.5,688.5 409.5,687.5 408.5,686.5 407.5,685.5 406.5,684.5 405.5,683.5 404.5,682.5 403.5,681.5 402.5,680.5 401.5,680.5 400.5,679.5 399.5,678.5 398.5,677.5 397.5,676.5 396.5,675.5 395.5,674.5 394.5,673.5 393.5,672.5 392.5,671.5 391.5,670.5 389.5,669.5 388.5,668.5 387.5,667.5 386.5,666.5 385.5,665.5 384.5,664.5 383.5,663.5 382.5,662.5 381.5,661.5 380.5,660.5 379.5,659.5 378.5,658.5 377.5,657.5 376.5,656.5 375.5,655.5 374.5,654.5 373.5,653.5 371.5,652.5 370.5,650.5 369.5,649.5 368.5,648.5 367.5,647.5 366.5,646.5 365.5,645.5 364.5,644.5 363.5,643.5 362.5,641.5 361.5,640.5 360.5,639.5 359.5,638.5 358.5,637.5 356.5,636.5 355.5,634.5 354.5,633.5 353.5,632.5 352.5,631.5 351.5,630.5 350.5,628.5 349.5,627.5 348.5,626.5 347.5,625.5 346.5,623.5 345.5,622.5 344.5,621.5 343.5,619.5 342.5,618.5 341.5,617.5 340.5,615.5 338.5,614.5 337.5,613.5 336.5,611.5 335.5,610.5 334.5,608.5 333.5,607.5 332.5,606.5 331.5,604.5 330.5,603.5 329.5,601.5 328.5,600.5 327.5,598.5 326.5,597.5 325.5,595.5 324.5,594.5 323.5,592.5 322.5,591.5 321.5,589.5 320.5,588.5 319.5,586.5 318.5,584.5 317.5,583.5 315.5,581.5 314.5,580.5 313.5,578.5 312.5,576.5 311.5,575.5 310.5,573.5 309.5,571.5 308.5,570.5 307.5,568.5 306.5,566.5 305.5,565.5 304.5,563.5 303.5,561.5 302.5,559.5 301.5,557.5 300.5,556.5 299.5,554.5 298.5,552.5 297.5,550.5 296.5,548.5 295.5,546.5 294.5,544.5 293.5,542.5 292.5,540.5 291.5,538.5 290.5,536.5 289.5,534.5 288.5,532.5 287.5,530.5 286.5,528.5 285.5,526.5 284.5,524.5 283.5,522.5 282.5,519.5 281.5,517.5 280.5,515.5 279.5,513.5 278.5,510.5 278.5,508.5 277.5,506.5 276.5,503.5 275.5,501.5 274.5,499.5 273.5,496.5 272.5,494.5 271.5,491.5 270.5,489.5 270.5,486.5 269.5,483.5 268.5,481.5 267.5,478.5 266.5,475.5 265.5,473.5 265.5,470.5 264.5,467.5 263.5,464.5 262.5,461.5 262.5,458.5 261.5,455.5 260.5,452.5 260.5,449.5 259.5,446.5 258.5,443.5 258.5,440.5 257.5,436.5 256.5,433.5 256.5,430.5 255.5,426.5 255.5,423.5 254.5,419.5 254.5,416.5 253.5,412.5 253.5,408.5 252.5,405.5 252.5,401.5 252.5,397.5 251.5,393.5 251.5,389.5 251.5,385.5 250.5,381.5 250.5,377.5 250.5,372.5 250.5,368.5 250.5,363.5 250.5,359.5 250.5,354.5 250.5,349.5 250.5,345.5 250.5,340.5 250.5,334.5 250.5,329.5 251.5,324.5 251.5,318.5 252.5,313.5 252.5,307.5 253.5,301.5 254.5,295.5 255.5,289.5 255.5,283.5 256.5,276.5 257.5,270.5 259.5,263.5 260.5,256.5 261.5,249.5 263.5,242.5 264.5,234.5 266.5,226.5 268.5,218.5 270.5,210.5 272.5,202.5 274.5,193.5 276.5,184.5 279.5,175.5 282.5,166.5 285.5,156.5 288.5,146.5 291.5,135.5 295.5,124.5 299.5,113.5 303.5,101.5 307.5,89.5 312.5,77.5 317.5,64.5 323.5,50.5" fill="none" stroke="#800000" stroke-width="1" />
<polyline points="558.5,748.5 556.5,748.5 555.5,747.5 554.5,747.5 553.5,746.5 552.5,746.5 551.5,745.5 550.5,745.5 549.5,744.5 548.5,744.5 547.5,743.5 546.5,743.5 544.5,742.5 543.5,741.5 542.5,741.5 541.5,740.5 540.5,740.5 539.5,739.5 538.5,739.5 537.5,738.5 536.5,737.5 535.5,737.5 534.5,736.5 533.5,735.5 532.5,735.5 531.5,734.5 530.5,733.5 529.5,733.5 528.5,732.5 527.5,731.5 526.5,731.5 525.5,730.5 524.5,729.5 523.5,729.5 522.5,728.5 521.5,727.5 520.5,727.5 519.5,726.5 518.5,725.5 517.5,724.5 516.5,724.5 515.5,723.5 513.5,722.5 512.5,721.5 511.5,721.5 510.5,720.5 509.5,719.5 508.5,719.5 507.5,718.5 506.5,717.5 505.5,716.5 504.5,716.5 503.5,715.5 502.5,714.5 501.5,713.5 500.5,713.5 499.5,712.5 498.5,711.5 497.5,710.5 495.5,710.5 494.5,709.5 493.5,708.5 492.5,707.5 491.5,707.5 490.5,706.5 489.5,705.5 488.5,704.5 487.5,704.5 486.5,703.5 485.5,702.5 484.5,701.5 482.5,700.5 481.5,700.5 480.5,699.5 479.5,698.5 478.5,697.5 477.5,696.5 476.5,695.5 475.5,695.5 474.5,694.5 473.5,693.5 472.5,692.5 470.5,691.5 469.5,690.5 468.5,689.5 467.5,689.5 466.5,688.5 465.5,687.5 464.5,686.5 463.5,685.5 462.5,684.5 461.5,683.5 459.5,682.5 458.5,681.5 457.5,680.5 456.5,680.5 455.5,679.5 454.5,678.5 453.5,677.5 452.5,676.5 451.5,675.5 450.5,674.5 448.5,673.5 447.5,672.5 446.5,671.5 445.5,670.5 444.5,669.5 443.5,668.5 442.5,667.5 441.5,666.5 439.5,665.5 438.5,664.5 437.5,663.5 436.5,662.5 435.5,661.5 434.5,660.5 433.5,659.5 432.5,658.5 430.5,657.5 429.5,656.5 428.5,655.5 427.5,654.5 426.5,653.5 425.5,652.5 424.5,650.5 422.5,649.5 421.5,648.5 420.5,647.5 419.5,646.5 418.5,645.5 417.5,644.5 416.5,643.5 414.5,641.5 413.5,640.5 412.5,639.5 411.5,638.5 410.5,637.5 409.5,636.5 408.5,634.5 406.5,633.5 405.5,632.5 404.5,631.5 403.5,630.5 402.5,628.5 401.5,627.5 400.5,626.5 398.5,625.5 397.5,623.5 396.5,622.5 395.5,621.5 394.5,619.5 393.5,618.5 392.5,617.5 390.5,615.5 389.5,614.5 388.5,613.5 387.5,611.5 386.5,610.5 385.5,608.5 384.5,607.5 383.5,606.5 381.5,604.5 380.5,603.5 379.5,601.5 378.5,600.5 377.5,598.5 376.5,597.5 375.5,595.5 373.5,594.5 372.5,592.5 371.5,591.5 370.5,589.5 369.5,588.5 368.5,586.5 367.5,584.5 366.5,583.5 364.5,581.5 363.5,580.5 362.5,578.5 361.5,576.5 360.5,575.5 359.5,573.5 358.5,571.5 357.5,570.5 355.5,568.5 354.5,566.5 353.5,565.5 352.5,563.5 351.5,561.5 350.5,559.5 349.5,557.5 347.5,556.5 346.5,554.5 345.5,552.5 344.5,550.5 343.5,548.5 342.5,546.5 341.5,544.5 340.5,542.5 339.5,540.5 338.5,538.5 336.5,536.5 335.5,534.5 334.5,532.5 333.5,530.5 332.5,528.5 331.5,526.5 330.5,524.5 329.5,522.5 328.5,519.5 327.5,517.5 326.5,515.5 325.5,513.5 324.5,510.5 323.5,508.5 322.5,506.5 321.5,503.5 320.5,501.5 319.5,499.5 318.5,496.5 317.5,494.5 316.5,491.5 315.5,489.5 314.5,486.5 313.5,483.5 312.5,481.5 311.5,478.5 310.5,475.5 309.5,473.5 308.5,470.5 307.5,467.5 306.5,464.5 305.5,461.5 305.5,458.5 304.5,455.5 303.5,452.5 302.5,449.5 301.5,446.5 301.5,443.5 300.5,440.5 299.5,436.5 298.5,433.5 298.5,430.5 297.5,426.5 296.5,423.5 296.5,419.5 295.5,416.5 294.5,412.5 294.5,408.5 293.5,405.5 293.5,401.5 292.5,397.5 292.5,393.5 291.5,389.5 291.5,385.5 290.5,381.5 290.5,377.5 289.5,372.5 289.5,368.5 289.5,363.5 289.5,359.5 289.5,354.5 288.5,349.5 288.5,345.5 288.5,340.5 288.5,334.5 289.5,329.5 289.5,324.5 289.5,318.5 289.5,313.5 290.5,307.5 290.5,301.5 291.5,295.5 291.5,289.5 292.5,283.5 293.5,276.5 294.5,270.5 295.5,263.5 296.5,256.5 297.5,249.5 298.5,242.5 300.5,234.5 301.5,226.5 303.5,218.5 304.5,210.5 306.5,202.5 308.5,193.5 310.5,184.5 313.5,175.5 315.5,166.5 318.5,156.5 321.5,146.5 324.5,135.5 327.5,124.5 331.5,113.5 335.5,101.5 339.5,89.5 344.5,77.5 348.5,64.5 354.5,50.5" fill="none" stroke="#800000" stroke-width="1" />
<polyline points="618.5,748.5 617.5,748.5 616.5,747.5 615.5,747.5 614.5,746.5 613.5,746.5 611.5,745.5 610.5,745.5 609.5,744.5 608.5,744.5 607.5,743.5 606.5,743.5 605.5,742.5 604.5,741.5 602.5,741.5 601.5,740.5 600.5,740.5 599.5,739.5 598.5,739.5 597.5,738.5 596.5,737.5 595.5,737.5 594.5,736.5 593.5,735.5 591.5,735.5 590.5,734.5 589.5,733.5 588.5,733.5 587.5,732.5 586.5,731.5 585.5,731.5 584.5,730.5 583.5,729.5 582.5,729.5 581.5,728.5 580.5,727.5 579.5,727.5 577.5,726.5 576.5,725.5 575.5,724.5 574.5,724.5 573.5,723.5 572.5,722.5 571.5,721.5 570.5,721.5 569.5,720.5 568.5,719.5 567.5,719.5 565.5,718.5 564.5,717.5 563.5,716.5 562.5,716.5 561.5,715.5 560.5,714.5 559.5,713.5 558.5,713.5 556.5,712.5 555.5,711.5 554.5,710.5 553.5,710.5 552.5,709.5 551.5,708.5 550.5,707.5 548.5,707.5 547.5,706.5 546.5,705.5 545.5,704.5 544.5,704.5 543.5,703.5 542.5,702.5 540.5,701.5 539.5,700.5 538.5,700.5 537.5,699.5 536.5,698.5 535.5,697.5 533.5,696.5 532.5,695.5 531.5,695.5 530.5,694.5 529.5,693.5 528.5,692.5 527.5,691.5 525.5,690.5 524.5,689.5 523.5,689.5 522.5,688.5 521.5,687.5 520.5,686.5 518.5,685.5 517.5,684.5 516.5,683.5 515.5,682.5 514.5,681.5 513.5,680.5 511.5,680.5 510.5,679.5 509.5,678.5 508.5,677.5 507.5,676.5 506.5,675.5 504.5,674.5 503.5,673.5 502.5,672.5 501.5,671.5 500.5,670.5 498.5,669.5 497.5,668.5 496.5,667.5 495.5,666.5 494.5,665.5 492.5,664.5 491.5,663.5 490.5,662.5 489.5,661.5 488.5,660.5 486.5,659.5 485.5,658.5 484.5,657.5 483.5,656.5 482.5,655.5 480.5,654.5 479.5,653.5 478.5,652.5 477.5,650.5 476.5,649.5 474.5,648.5 473.5,647.5 472.5,646.5 471.5,645.5 469.5,644.5 468.5,643.5 467.5,641.5 466.5,640.5 465.5,639.5 463.5,638.5 462.5,637.5 461.5,636.5 460.5,634.5 458.5,633.5 457.5,632.5 456.5,631.5 455.5,630.5 454.5,628.5 452.5,627.5 451.5,626.5 450.5,625.5 449.5,623.5 448.5,622.5 446.5,621.5 445.5,619.5 444.5,618.5 443.5,617.5 441.5,615.5 440.5,614.5 439.5,613.5 438.5,611.5 437.5,610.5 435.5,608.5 434.5,607.5 433.5,606.5 432.5,604.5 430.5,603.5 429.5,601.5 428.5,600.5 427.5,598.5 426.5,597.5 424.5,595.5 423.5,594.5 422.5,592.5 421.5,591.5 420.5,589.5 418.5,588.5 417.5,586.5 416.5,584.5 415.5,583.5 413.5,581.5 412.5,580.5 411.5,578.5 410.5,576.5 409.5,575.5 407.5,573.5 406.5,571.5 405.5,570.5 404.5,568.5 402.5,566.5 401.5,565.5 400.5,563.5 399.5,561.5 397.5,559.5 396.5,557.5 395.5,556.5 394.5,554.5 393.5,552.5 391.5,550.5 390.5,548.5 389.5,546.5 388.5,544.5 387.5,542.5 385.5,540.5 384.5,538.5 383.5,536.5 382.5,534.5 381.5,532.5 379.5,530.5 378.5,528.5 377.5,526.5 376.5,524.5 375.5,522.5 374.5,519.5 372.5,517.5 371.5,515.5 370.5,513.5 369.5,510.5 368.5,508.5 367.5,506.5 366.5,503.5 364.5,501.5 363.5,499.5 362.5,496.5 361.5,494.5 360.5,491.5 359.5,489.5 358.5,486.5 357.5,483.5 356.5,481.5 355.5,478.5 354.5,475.5 353.5,473.5 351.5,470.5 350.5,467.5 349.5,464.5 348.5,461.5 348.5,458.5 347.5,455.5 346.5,452.5 345.5,449.5 344.5,446.5 343.5,443.5 342.5,440.5 341.5,436.5 340.5,433.5 339.5,430.5 339.5,426.5 338.5,423.5 337.5,419.5 336.5,416.5 335.5,412.5 335.5,408.5 334.5,405.5 333.5,401.5 333.5,397.5 332.5,393.5 331.5,389.5 331.5,385.5 330.5,381.5 330.5,377.5 329.5,372.5 329.5,368.5 328.5,363.5 328.5,359.5 328.5,354.5 327.5,349.5 327.5,345.5 327.5,340.5 327.5,334.5 327.5,329.5 327.5,324.5 327.5,318.5 327.5,313.5 327.5,307.5 328.5,301.5 328.5,295.5 328.5,289.5 329.5,283.5 329.5,276.5 330.5,270.5 331.5,263.5 332.5,256.5 333.5,249.5 334.5,242.5 335.5,234.5 336.5,226.5 338.5,218.5 339.5,210.5 341.5,202.5 343.5,193.5 344.5,184.5 347.5,175.5 349.5,166.5 351.5,156.5 354.5,146.5 357.5,135.5 360.5,124.5 363.5,113.5 367.5,101.5 371.5,89.5 375.5,77.5 380.5,64.5 385.5,50.5" fill="none" stroke="#800000" stroke-width="1" />
<polyline points="679.5,748.5 678.5,748.5 677.5,747.5 676.5,747.5 674.5,746.5 673.5,746.5 672.5,745.5 671.5,745.5 670.5,744.5 668.5,744.5 667.5,743.5 666.5,743.5 665.5,742.5 664.5,741.5 663.5,741.5 661.5,740.5 660.5,740.5 659.5,739.5 658.5,739.5 657.5,738.5 656.5,737.5 654.5,737.5 653.5,736.5 652.5,735.5 651.5,735.5 650.5,734.5 649.5,733.5 648.5,733.5 646.5,732.5 645.5,731.5 644.5,731.5 643.5,730.5 642.5,729.5 641.5,729.5 640.5,728.5 639.5,727.5 637.5,727.5 636.5,726.5 635.5,725.5 634.5,724.5 633.5,724.5 632.5,723.5 631.5,722.5 629.5,721.5 628.5,721.5 627.5,720.5 626.5,719.5 625.5,719.5 624.5,718.5 622.5,717.5 621.5,716.5 620.5,716.5 619.5,715.5 618.5,714.5 616.5,713.5 615.5,713.5 614.5,712.5 613.5,711.5 612.5,710.5 611.5,710.5 609.5,709.5 608.5,708.5 607.5,707.5 606.5,707.5 605.5,706.5 603.5,705.5 602.5,704.5 601.5,704.5 600.5,703.5 598.5,702.5 597.5,701.5 596.5,700.5 595.5,700.5 594.5,699.5 592.5,698.5 591.5,697.5 590.5,696.5 589.5,695.5 587.5,695.5 586.5,694.5 585.5,693.5 584.5,692.5 583.5,691.5 581.5,690.5 580.5,689.5 579.5,689.5 578.5,688.5 576.5,687.5 575.5,686.5 574.5,685.5 573.5,684.5 572.5,683.5 570.5,682.5 569.5,681.5 568.5,680.5 567.5,680.5 565.5,679.5 564.5,678.5 563.5,677.5 562.5,676.5 560.5,675.5 559.5,674.5 558.5,673.5 557.5,672.5 555.5,671.5 554.5,670.5 553.5,669.5 552.5,668.5 550.5,667.5 549.5,666.5 548.5,665.5 547.5,664.5 545.5,663.5 544.5,662.5 543.5,661.5 542.5,660.5 540.5,659.5 539.5,658.5 538.5,657.5 536.5,656.5 535.5,655.5 534.5,654.5 533.5,653.5 531.5,652.5 530.5,650.5 529.5,649.5 527.5,648.5 526.5,647.5 525.5,646.5 524.5,645.5 522.5,644.5 521.5,643.5 520.5,641.5 518.5,640.5 517.5,639.5 516.5,638.5 514.5,637.5 513.5,636.5 512.5,634.5 511.5,633.5 509.5,632.5 508.5,631.5 507.5,630.5 505.5,628.5 504.5,627.5 503.5,626.5 501.5,625.5 500.5,623.5 499.5,622.5 498.5,621.5 496.5,619.5 495.5,618.5 494.5,617.5 492.5,615.5 491.5,614.5 490.5,613.5 488.5,611.5 487.5,610.5 486.5,608.5 485.5,607.5 483.5,606.5 482.5,604.5 481.5,603.5 479.5,601.5 478.5,600.5 477.5,598.5 475.5,597.5 474.5,595.5 473.5,594.5 472.5,592.5 470.5,591.5 469.5,589.5 468.5,588.5 466.5,586.5 465.5,584.5 464.5,583.5 462.5,581.5 461.5,580.5 460.5,578.5 458.5,576.5 457.5,575.5 456.5,573.5 454.5,571.5 453.5,570.5 452.5,568.5 450.5,566.5 449.5,565.5 448.5,563.5 447.5,561.5 445.5,559.5 444.5,557.5 443.5,556.5 441.5,554.5 440.5,552.5 439.5,550.5 437.5,548.5 436.5,546.5 435.5,544.5 433.5,542.5 432.5,540.5 431.5,538.5 430.5,536.5 428.5,534.5 427.5,532.5 426.5,530.5 424.5,528.5 423.5,526.5 422.5,524.5 421.5,522.5 419.5,519.5 418.5,517.5 417.5,515.5 416.5,513.5 414.5,510.5 413.5,508.5 412.5,506.5 411.5,503.5 409.5,501.5 408.5,499.5 407.5,496.5 406.5,494.5 404.5,491.5 403.5,489.5 402.5,486.5 401.5,483.5 400.5,481.5 398.5,478.5 397.5,475.5 396.5,473.5 395.5,470.5 394.5,467.5 393.5,464.5 392.5,461.5 390.5,458.5 389.5,455.5 388.5,452.5 387.5,449.5 386.5,446.5 385.5,443.5 384.5,440.5 383.5,436.5 382.5,433.5 381.5,430.5 380.5,426.5 379.5,423.5 378.5,419.5 377.5,416.5 376.5,412.5 376.5,408.5 375.5,405.5 374.5,401.5 373.5,397.5 372.5,393.5 371.5,389.5 371.5,385.5 370.5,381.5 369.5,377.5 369.5,372.5 368.5,368.5 367.5,363.5 367.5,359.5 366.5,354.5 366.5,349.5 366.5,345.5 365.5,340.5 365.5,334.5 365.5,329.5 365.5,324.5 365.5,318.5 365.5,313.5 365.5,307.5 365.5,301.5 365.5,295.5 365.5,289.5 366.5,283.5 366.5,276.5 366.5,270.5 367.5,263.5 368.5,256.5 368.5,249.5 369.5,242.5 370.5,234.5 371.5,226.5 373.5,218.5 374.5,210.5 375.5,202.5 377.5,193.5 379.5,184.5 380.5,175.5 383.5,166.5 385.5,156.5 387.5,146.5 390.5,135.5 393.5,124.5 396.5,113.5 399.5,101.5 403.5,89.5 407.5,77.5 411.5,64.5 416.5,50.5" fill="none" stroke="#800000" stroke-width="1" />
<polyline points="740.5,748.5 739.5,748.5 738.5,747.5 736.5,747.5 735.5,746.5 734.5,746.5 733.5,745.5 731.5,745.5 730.5,744.5 729.5,744.5 728.5,743.5 726.5,743.5 725.5,742.5 724.5,741.5 723.5,741.5 721.5,740.5 720.5,740.5 719.5,739.5 718.5,739.5 717.5,738.5 715.5,737.5 714.5,737.5 713.5,736.5 712.5,735.5 711.5,735.5 709.5,734.5 708.5,733.5 707.5,733.5 706.5,732.5 705.5,731.5 703.5,731.5 702.5,730.5 701.5,729.5 700.5,729.5 699.5,728.5 697.5,727.5 696.5,727.5 695.5,726.5 694.5,725.5 693.5,724.5 691.5,724.5 690.5,723.5 689.5,722.5 688.5,721.5 687.5,721.5 685.5,720.5 684.5,719.5 683.5,719.5 682.5,718.5 681.5,717.5 679.5,716.5 678.5,716.5 677.5,715.5 676.5,714.5 674.5,713.5 673.5,713.5 672.5,712.5 671.5,711.5 669.5,710.5 668.5,710.5 667.5,709.5 666.5,708.5 664.5,707.5 663.5,707.5 662.5,706.5 660.5,705.5 659.5,704.5 658.5,704.5 657.5,703.5 655.5,702.5 654.5,701.5 653.5,700.5 652.5,700.5 650.5,699.5 649.5,698.5 648.5,697.5 646.5,696.5 645.5,695.5 644.5,695.5 643.5,694.5 641.5,693.5 640.5,692.5 639.5,691.5 637.5,690.5 636.5,689.5 635.5,689.5 634.5,688.5 632.5,687.5 631.5,686.5 630.5,685.5 628.5,684.5 627.5,683.5 626.5,682.5 624.5,681.5 623.5,680.5 622.5,680.5 621.5,679.5 619.5,678.5 618.5,677.5 617.5,676.5 615.5,675.5 614.5,674.5 613.5,673.5 611.5,672.5 610.5,671.5 609.5,670.5 607.5,669.5 606.5,668.5 605.5,667.5 603.5,666.5 602.5,665.5 601.5,664.5 599.5,663.5 598.5,662.5 597.5,661.5 595.5,660.5 594.5,659.5 593.5,658.5 591.5,657.5 590.5,656.5 589.5,655.5 587.5,654.5 586.5,653.5 585.5,652.5 583.5,650.5 582.5,649.5 580.5,648.5 579.5,647.5 578.5,646.5 576.5,645.5 575.5,644.5 574.5,643.5 572.5,641.5 571.5,640.5 569.5,639.5 568.5,638.5 567.5,637.5 565.5,636.5 564.5,634.5 563.5,633.5 561.5,632.5 560.5,631.5 558.5,630.5 557.5,628.5 556.5,627.5 554.5,626.5 553.5,625.5 552.5,623.5 550.5,622.5 549.5,621.5 547.5,619.5 546.5,618.5 545.5,617.5 543.5,615.5 542.5,614.5 541.5,613.5 539.5,611.5 538.5,610.5 536.5,608.5 535.5,607.5 534.5,606.5 532.5,604.5 531.5,603.5 529.5,601.5 528.5,600.5 527.5,598.5 525.5,597.5 524.5,595.5 523.5,594.5 521.5,592.5 520.5,591.5 518.5,589.5 517.5,588.5 516.5,586.5 514.5,584.5 513.5,583.5 511.5,581.5 510.5,580.5 509.5,578.5 507.5,576.5 506.5,575.5 504.5,573.5 503.5,571.5 501.5,570.5 500.5,568.5 499.5,566.5 497.5,565.5 496.5,563.5 494.5,561.5 493.5,559.5 492.5,557.5 490.5,556.5 489.5,554.5 487.5,552.5 486.5,550.5 484.5,548.5 483.5,546.5 482.5,544.5 480.5,542.5 479.5,540.5 477.5,538.5 476.5,536.5 475.5,534.5 473.5,532.5 472.5,530.5 471.5,528.5 469.5,526.5 468.5,524.5 466.5,522.5 465.5,519.5 464.5,517.5 462.5,515.5 461.5,513.5 460.5,510.5 458.5,508.5 457.5,506.5 455.5,503.5 454.5,501.5 453.5,499.5 451.5,496.5 450.5,494.5 449.5,491.5 447.5,489.5 446.5,486.5 445.5,483.5 443.5,481.5 442.5,478.5 441.5,475.5 440.5,473.5 438.5,470.5 437.5,467.5 436.5,464.5 435.5,461.5 433.5,458.5 432.5,455.5 431.5,452.5 430.5,449.5 429.5,446.5 427.5,443.5 426.5,440.5 425.5,436.5 424.5,433.5 423.5,430.5 422.5,426.5 421.5,423.5 420.5,419.5 419.5,416.5 418.5,412.5 416.5,408.5 415.5,405.5 414.5,401.5 414.5,397.5 413.5,393.5 412.5,389.5 411.5,385.5 410.5,381.5 409.5,377.5 408.5,372.5 408.5,368.5 407.5,363.5 406.5,359.5 405.5,354.5 405.5,349.5 404.5,345.5 404.5,340.5 403.5,334.5 403.5,329.5 403.5,324.5 403.5,318.5 402.5,313.5 402.5,307.5 402.5,301.5 402.5,295.5 402.5,289.5 402.5,283.5 403.5,276.5 403.5,270.5 403.5,263.5 404.5,256.5 404.5,249.5 405.5,242.5 406.5,234.5 406.5,226.5 407.5,218.5 409.5,210.5 410.5,202.5 411.5,193.5 413.5,184.5 414.5,175.5 416.5,166.5 418.5,156.5 420.5,146.5 423.5,135.5 425.5,124.5 428.5,113.5 431.5,101.5 435.5,89.5 438.5,77.5 443.5,64.5 447.5,50.5" fill="none" stroke="#800000" stroke-width="1" />
<polyline points="801.5,748.5 800.5,748.5 798.5,747.5 797.5,747.5 796.5,746.5 794.5,746.5 793.5,745.5 792.5,745.5 790.5,744.5 789.5,744.5 788.5,743.5 787.5,743.5 785.5,742.5 784.5,741.5 783.5,741.5 781.5,740.5 780.5,740.5 779.5,739.5 778.5,739.5 776.5,738.5 775.5,737.5 774.5,737.5 773.5,736.5 771.5,735.5 770.5,735.5 769.5,734.5 768.5,733.5 766.5,733.5 765.5,732.5 764.5,731.5 763.5,731.5 761.5,730.5 760.5,729.5 759.5,729.5 758.5,728.5 756.5,727.5 755.5,727.5 754.5,726.5 753.5,725.5 751.5,724.5 750.5,724.5 749.5,723.5 748.5,722.5 746.5,721.5 745.5,721.5 744.5,720.5 743.5,719.5 741.5,719.5 740.5,718.5 739.5,717.5 737.5,716.5 736.5,716.5 735.5,715.5 733.5,714.5 732.5,713.5 731.5,713.5 730.5,712.5 728.5,711.5 727.5,710.5 726.5,710.5 724.5,709.5 723.5,708.5 722.5,707.5 720.5,707.5 719.5,706.5 718.5,705.5 716.5,704.5 715.5,704.5 714.5,703.5 712.5,702.5 711.5,701.5 710.5,700.5 708.5,700.5 707.5,699.5 706.5,698.5 704.5,697.5 703.5,696.5 702.5,695.5 700.5,695.5 699.5,694.5 697.5,693.5 696.5,692.5 695.5,691.5 693.5,690.5 692.5,689.5 691.5,689.5 689.5,688.5 688.5,687.5 687.5,686.5 685.5,685.5 684.5,684.5 683.5,683.5 681.5,682.5 680.5,681.5 678.5,680.5 677.5,680.5 676.5,679.5 674.5,678.5 673.5,677.5 672.5,676.5 670.5,675.5 669.5,674.5 667.5,673.5 666.5,672.5 665.5,671.5 663.5,670.5 662.5,669.5 660.5,668.5 659.5,667.5 658.5,666.5 656.5,665.5 655.5,664.5 653.5,663.5 652.5,662.5 651.5,661.5 649.5,660.5 648.5,659.5 646.5,658.5 645.5,657.5 644.5,656.5 642.5,655.5 641.5,654.5 639.5,653.5 638.5,652.5 636.5,650.5 635.5,649.5 633.5,648.5 632.5,647.5 631.5,646.5 629.5,645.5 628.5,644.5 626.5,643.5 625.5,641.5 623.5,640.5 622.5,639.5 620.5,638.5 619.5,637.5 618.5,636.5 616.5,634.5 615.5,633.5 613.5,632.5 612.5,631.5 610.5,630.5 609.5,628.5 607.5,627.5 606.5,626.5 604.5,625.5 603.5,623.5 602.5,622.5 600.5,621.5 599.5,619.5 597.5,618.5 596.5,617.5 594.5,615.5 593.5,614.5 591.5,613.5 590.5,611.5 588.5,610.5 587.5,608.5 585.5,607.5 584.5,606.5 583.5,604.5 581.5,603.5 580.5,601.5 578.5,600.5 577.5,598.5 575.5,597.5 574.5,595.5 572.5,594.5 571.5,592.5 569.5,591.5 568.5,589.5 566.5,588.5 565.5,586.5 563.5,584.5 562.5,583.5 560.5,581.5 559.5,580.5 557.5,578.5 556.5,576.5 554.5,575.5 553.5,573.5 551.5,571.5 550.5,570.5 548.5,568.5 547.5,566.5 545.5,565.5 544.5,563.5 542.5,561.5 541.5,559.5 539.5,557.5 538.5,556.5 536.5,554.5 535.5,552.5 533.5,550.5 532.5,548.5 530.5,546.5 529.5,544.5 527.5,542.5 526.5,540.5 524.5,538.5 523.5,536.5 521.5,534.5 520.5,532.5 518.5,530.5 517.5,528.5 515.5,526.5 514.5,524.5 512.5,522.5 511.5,519.5 509.5,517.5 508.5,515.5 506.5,513.5 505.5,510.5 503.5,508.5 502.5,506.5 500.5,503.5 499.5,501.5 497.5,499.5 496.5,496.5 495.5,494.5 493.5,491.5 492.5,489.5 490.5,486.5 489.5,483.5 487.5,481.5 486.5,478.5 485.5,475.5 483.5,473.5 482.5,470.5 480.5,467.5 479.5,464.5 478.5,461.5 476.5,458.5 475.5,455.5 474.5,452.5 472.5,449.5 471.5,446.5 470.5,443.5 468.5,440.5 467.5,436.5 466.5,433.5 465.5,430.5 463.5,426.5 462.5,423.5 461.5,419.5 460.5,416.5 459.5,412.5 457.5,408.5 456.5,405.5 455.5,401.5 454.5,397.5 453.5,393.5 452.5,389.5 451.5,385.5 450.5,381.5 449.5,377.5 448.5,372.5 447.5,368.5 446.5,363.5 445.5,359.5 444.5,354.5 444.5,349.5 443.5,345.5 442.5,340.5 442.5,334.5 441.5,329.5 441.5,324.5 440.5,318.5 440.5,313.5 440.5,307.5 439.5,301.5 439.5,295.5 439.5,289.5 439.5,283.5 439.5,276.5 439.5,270.5 439.5,263.5 440.5,256.5 440.5,249.5 440.5,242.5 441.5,234.5 442.5,226.5 442.5,218.5 443.5,210.5 444.5,202.5 445.5,193.5 447.5,184.5 448.5,175.5 450.5,166.5 452.5,156.5 454.5,146.5 456.5,135.5 458.5,124.5 461.5,113.5 464.5,101.5 467.5,89.5 470.5,77.5 474.5,64.5 478.5,50.5" fill="none" stroke="#800000" stroke-width="1" />
<polyline points="862.5,748.5 860.5,748.5 859.5,747.5 858.5,747.5 856.5,746.5 855.5,746.5 854.5,745.5 852.5,745.5 851.5,744.5 850.5,744.5 848.5,743.5 847.5,743.5 845.5,742.5 844.5,741.5 843.5,741.5 841.5,740.5 840.5,740.5 839.5,739.5 837.5,739.5 836.5,738.5 835.5,737.5 834.5,737.5 832.5,736.5 831.5,735.5 830.5,735.5 828.5,734.5 827.5,733.5 826.5,733.5 824.5,732.5 823.5,731.5 822.5,731.5 820.5,730.5 819.5,729.5 818.5,729.5 817.5,728.5 815.5,727.5 814.5,727.5 813.5,726.5 811.5,725.5 810.5,724.5 809.5,724.5 807.5,723.5 806.5,722.5 805.5,721.5 803.5,721.5 802.5,720.5 801.5,719.5 799.5,719.5 798.5,718.5 797.5,717.5 795.5,716.5 794.5,716.5 793.5,715.5 791.5,714.5 790.5,713.5 789.5,713.5 787.5,712.5 786.5,711.5 784.5,710.5 783.5,710.5 782.5,709.5 780.5,708.5 779.5,707.5 778.5,707.5 776.5,706.5 775.5,705.5 773.5,704.5 772.5,704.5 771.5,703.5 769.5,702.5 768.5,701.5 766.5,700.5 765.5,700.5 764.5,699.5 762.5,698.5 761.5,697.5 759.5,696.5 758.5,695.5 756.5,695.5 755.5,694.5 754.5,693.5 752.5,692.5 751.5,691.5 749.5,690.5 748.5,689.5 747.5,689.5 745.5,688.5 744.5,687.5 742.5,686.5 741.5,685.5 739.5,684.5 738.5,683.5 737.5,682.5 735.5,681.5 734.5,680.5 732.5,680.5 731.5,679.5 729.5,678.5 728.5,677.5 727.5,676.5 725.5,675.5 724.5,674.5 722.5,673.5 721.5,672.5 719.5,671.5 718.5,670.5 716.5,669.5 715.5,668.5 713.5,667.5 712.5,666.5 710.5,665.5 709.5,664.5 707.5,663.5 706.5,662.5 705.5,661.5 703.5,660.5 702.5,659.5 700.5,658.5 699.5,657.5 697.5,656.5 696.5,655.5 694.5,654.5 693.5,653.5 691.5,652.5 690.5,650.5 688.5,649.5 687.5,648.5 685.5,647.5 683.5,646.5 682.5,645.5 680.5,644.5 679.5,643.5 677.5,641.5 676.5,640.5 674.5,639.5 673.5,638.5 671.5,637.5 670.5,636.5 668.5,634.5 667.5,633.5 665.5,632.5 664.5,631.5 662.5,630.5 661.5,628.5 659.5,627.5 657.5,626.5 656.5,625.5 654.5,623.5 653.5,622.5 651.5,621.5 650.5,619.5 648.5,618.5 647.5,617.5 645.5,615.5 644.5,614.5 642.5,613.5 641.5,611.5 639.5,610.5 637.5,608.5 636.5,607.5 634.5,606.5 633.5,604.5 631.5,603.5 630.5,601.5 628.5,600.5 627.5,598.5 625.5,597.5 623.5,595.5 622.5,594.5 620.5,592.5 619.5,591.5 617.5,589.5 616.5,588.5 614.5,586.5 612.5,584.5 611.5,583.5 609.5,581.5 608.5,580.5 606.5,578.5 604.5,576.5 603.5,575.5 601.5,573.5 600.5,571.5 598.5,570.5 596.5,568.5 595.5,566.5 593.5,565.5 592.5,563.5 590.5,561.5 588.5,559.5 587.5,557.5 585.5,556.5 584.5,554.5 582.5,552.5 580.5,550.5 579.5,548.5 577.5,546.5 576.5,544.5 574.5,542.5 572.5,540.5 571.5,538.5 569.5,536.5 568.5,534.5 566.5,532.5 564.5,530.5 563.5,528.5 561.5,526.5 560.5,524.5 558.5,522.5 556.5,519.5 555.5,517.5 553.5,515.5 552.5,513.5 550.5,510.5 548.5,508.5 547.5,506.5 545.5,503.5 544.5,501.5 542.5,499.5 541.5,496.5 539.5,494.5 537.5,491.5 536.5,489.5 534.5,486.5 533.5,483.5 531.5,481.5 530.5,478.5 528.5,475.5 527.5,473.5 525.5,470.5 524.5,467.5 522.5,464.5 521.5,461.5 519.5,458.5 518.5,455.5 516.5,452.5 515.5,449.5 513.5,446.5 512.5,443.5 511.5,440.5 509.5,436.5 508.5,433.5 506.5,430.5 505.5,426.5 504.5,423.5 502.5,419.5 501.5,416.5 500.5,412.5 498.5,408.5 497.5,405.5 496.5,401.5 495.5,397.5 493.5,393.5 492.5,389.5 491.5,385.5 490.5,381.5 489.5,377.5 487.5,372.5 486.5,368.5 485.5,363.5 484.5,359.5 483.5,354.5 482.5,349.5 482.5,345.5 481.5,340.5 480.5,334.5 479.5,329.5 479.5,324.5 478.5,318.5 478.5,313.5 477.5,307.5 477.5,301.5 476.5,295.5 476.5,289.5 476.5,283.5 476.5,276.5 476.5,270.5 476.5,263.5 476.5,256.5 476.5,249.5 476.5,242.5 476.5,234.5 477.5,226.5 477.5,218.5 478.5,210.5 479.5,202.5 480.5,193.5 481.5,184.5 482.5,175.5 483.5,166.5 485.5,156.5 487.5,146.5 489.5,135.5 491.5,124.5 493.5,113.5 496.5,101.5 499.5,89.5 502.5,77.5 505.5,64.5 509.5,50.5" fill="none" stroke="#800000" stroke-width="1" />
<polyline points="923.5,748.5 921.5,748.5 920.5,747.5 918.5,747.5 917.5,746.5 916.5,746.5 914.5,745.5 913.5,745.5 911.5,744.5 910.5,744.5 909.5,743.5 907.5,743.5 906.5,742.5 904.5,741.5 903.5,741.5 902.5,740.5 900.5,740.5 899.5,739.5 897.5,739.5 896.5,738.5 895.5,737.5 893.5,737.5 892.5,736.5 891.5,735.5 889.5,735.5 888.5,734.5 886.5,733.5 885.5,733.5 884.5,732.5 882.5,731.5 881.5,731.5 880.5,730.5 878.5,729.5 877.5,729.5 876.5,728.5 874.5,727.5 873.5,727.5 871.5,726.5 870.5,725.5 869.5,724.5 867.5,724.5 866.5,723.5 865.5,722.5 863.5,721.5 862.5,721.5 860.5,720.5 859.5,719.5 858.5,719.5 856.5,718.5 855.5,717.5 853.5,716.5 852.5,716.5 851.5,715.5 849.5,714.5 848.5,713.5 846.5,713.5 845.5,712.5 843.5,711.5 842.5,710.5 841.5,710.5 839.5,709.5 838.5,708.5 836.5,707.5 835.5,707.5 833.5,706.5 832.5,705.5 830.5,704.5 829.5,704.5 828.5,703.5 826.5,702.5 825.5,701.5 823.5,700.5 822.5,700.5 820.5,699.5 819.5,698.5 817.5,697.5 816.5,696.5 814.5,695.5 813.5,695.5 811.5,694.5 810.5,693.5 808.5,692.5 807.5,691.5 805.5,690.5 804.5,689.5 802.5,689.5 801.5,688.5 799.5,687.5 798.5,686.5 797.5,685.5 795.5,684.5 794.5,683.5 792.5,682.5 791.5,681.5 789.5,680.5 788.5,680.5 786.5,679.5 784.5,678.5 783.5,677.5 781.5,676.5 780.5,675.5 778.5,674.5 777.5,673.5 775.5,672.5 774.5,671.5 772.5,670.5 771.5,669.5 769.5,668.5 768.5,667.5 766.5,666.5 765.5,665.5 763.5,664.5 762.5,663.5 760.5,662.5 758.5,661.5 757.5,660.5 755.5,659.5 754.5,658.5 752.5,657.5 751.5,656.5 749.5,655.5 747.5,654.5 746.5,653.5 744.5,652.5 743.5,650.5 741.5,649.5 740.5,648.5 738.5,647.5 736.5,646.5 735.5,645.5 733.5,644.5 732.5,643.5 730.5,641.5 728.5,640.5 727.5,639.5 725.5,638.5 724.5,637.5 722.5,636.5 720.5,634.5 719.5,633.5 717.5,632.5 716.5,631.5 714.5,630.5 712.5,628.5 711.5,627.5 709.5,626.5 707.5,625.5 706.5,623.5 704.5,622.5 703.5,621.5 701.5,619.5 699.5,618.5 698.5,617.5 696.5,615.5 694.5,614.5 693.5,613.5 691.5,611.5 690.5,610.5 688.5,608.5 686.5,607.5 685.5,606.5 683.5,604.5 681.5,603.5 680.5,601.5 678.5,600.5 676.5,598.5 675.5,597.5 673.5,595.5 672.5,594.5 670.5,592.5 668.5,591.5 667.5,589.5 665.5,588.5 663.5,586.5 662.5,584.5 660.5,583.5 658.5,581.5 657.5,580.5 655.5,578.5 653.5,576.5 651.5,575.5 650.5,573.5 648.5,571.5 646.5,570.5 645.5,568.5 643.5,566.5 641.5,565.5 640.5,563.5 638.5,561.5 636.5,559.5 634.5,557.5 633.5,556.5 631.5,554.5 629.5,552.5 628.5,550.5 626.5,548.5 624.5,546.5 623.5,544.5 621.5,542.5 619.5,540.5 617.5,538.5 616.5,536.5 614.5,534.5 612.5,532.5 611.5,530.5 609.5,528.5 607.5,526.5 606.5,524.5 604.5,522.5 602.5,519.5 600.5,517.5 599.5,515.5 597.5,513.5 595.5,510.5 594.5,508.5 592.5,506.5 590.5,503.5 589.5,501.5 587.5,499.5 585.5,496.5 584.5,494.5 582.5,491.5 580.5,489.5 578.5,486.5 577.5,483.5 575.5,481.5 574.5,478.5 572.5,475.5 570.5,473.5 569.5,470.5 567.5,467.5 565.5,464.5 564.5,461.5 562.5,458.5 561.5,455.5 559.5,452.5 557.5,449.5 556.5,446.5 554.5,443.5 553.5,440.5 551.5,436.5 550.5,433.5 548.5,430.5 547.5,426.5 545.5,423.5 544.5,419.5 542.5,416.5 541.5,412.5 539.5,408.5 538.5,405.5 536.5,401.5 535.5,397.5 534.5,393.5 532.5,389.5 531.5,385.5 530.5,381.5 528.5,377.5 527.5,372.5 526.5,368.5 525.5,363.5 523.5,359.5 522.5,354.5 521.5,349.5 520.5,345.5 519.5,340.5 518.5,334.5 517.5,329.5 517.5,324.5 516.5,318.5 515.5,313.5 515.5,307.5 514.5,301.5 513.5,295.5 513.5,289.5 513.5,283.5 512.5,276.5 512.5,270.5 512.5,263.5 512.5,256.5 512.5,249.5 512.5,242.5 512.5,234.5 512.5,226.5 512.5,218.5 513.5,210.5 513.5,202.5 514.5,193.5 515.5,184.5 516.5,175.5 517.5,166.5 518.5,156.5 520.5,146.5 522.5,135.5 523.5,124.5 526.5,113.5 528.5,101.5 530.5,89.5 533.5,77.5 537.5,64.5 540.5,50.5" fill="none" stroke="#800000" stroke-width="1" />
<polyline points="983.5,748.5 982.5,748.5 980.5,747.5 979.5,747.5 978.5,746.5 976.5,746.5 975.5,745.5 973.5,745.5 972.5,744.5 970.5,744.5 969.5,743.5 967.5,743.5 966.5,742.5 964.5,741.5 963.5,741.5 962.5,740.5 960.5,740.5 959.5,739.5 957.5,739.5 956.5,738.5 954.5,737.5 953.5,737.5 952.5,736.5 950.5,735.5 949.5,735.5 947.5,734.5 946.5,733.5 944.5,733.5 943.5,732.5 942.5,731.5 940.5,731.5 939.5,730.5 937.5,729.5 936.5,729.5 935.5,728.5 933.5,727.5 932.5,727.5 930.5,726.5 929.5,725.5 927.5,724.5 926.5,724.5 925.5,723.5 923.5,722.5 922.5,721.5 920.5,721.5 919.5,720.5 917.5,719.5 916.5,719.5 914.5,718.5 913.5,717.5 912.5,716.5 910.5,716.5 909.5,715.5 907.5,714.5 906.5,713.5 904.5,713.5 903.5,712.5 901.5,711.5 900.5,710.5 898.5,710.5 897.5,709.5 895.5,708.5 894.5,707.5 892.5,707.5 891.5,706.5 889.5,705.5 888.5,704.5 886.5,704.5 884.5,703.5 883.5,702.5 881.5,701.5 880.5,700.5 878.5,700.5 877.5,699.5 875.5,698.5 874.5,697.5 872.5,696.5 871.5,695.5 869.5,695.5 868.5,694.5 866.5,693.5 865.5,692.5 863.5,691.5 861.5,690.5 860.5,689.5 858.5,689.5 857.5,688.5 855.5,687.5 854.5,686.5 852.5,685.5 851.5,684.5 849.5,683.5 847.5,682.5 846.5,681.5 844.5,680.5 843.5,680.5 841.5,679.5 840.5,678.5 838.5,677.5 836.5,676.5 835.5,675.5 833.5,674.5 832.5,673.5 830.5,672.5 828.5,671.5 827.5,670.5 825.5,669.5 824.5,668.5 822.5,667.5 820.5,666.5 819.5,665.5 817.5,664.5 816.5,663.5 814.5,662.5 812.5,661.5 811.5,660.5 809.5,659.5 807.5,658.5 806.5,657.5 804.5,656.5 803.5,655.5 801.5,654.5 799.5,653.5 798.5,652.5 796.5,650.5 794.5,649.5 793.5,648.5 791.5,647.5 789.5,646.5 788.5,645.5 786.5,644.5 784.5,643.5 783.5,641.5 781.5,640.5 779.5,639.5 778.5,638.5 776.5,637.5 774.5,636.5 773.5,634.5 771.5,633.5 769.5,632.5 767.5,631.5 766.5,630.5 764.5,628.5 762.5,627.5 761.5,626.5 759.5,625.5 757.5,623.5 756.5,622.5 754.5,621.5 752.5,619.5 750.5,618.5 749.5,617.5 747.5,615.5 745.5,614.5 744.5,613.5 742.5,611.5 740.5,610.5 738.5,608.5 737.5,607.5 735.5,606.5 733.5,604.5 732.5,603.5 730.5,601.5 728.5,600.5 726.5,598.5 725.5,597.5 723.5,595.5 721.5,594.5 719.5,592.5 718.5,591.5 716.5,589.5 714.5,588.5 712.5,586.5 711.5,584.5 709.5,583.5 707.5,581.5 705.5,580.5 704.5,578.5 702.5,576.5 700.5,575.5 698.5,573.5 697.5,571.5 695.5,570.5 693.5,568.5 691.5,566.5 689.5,565.5 688.5,563.5 686.5,561.5 684.5,559.5 682.5,557.5 680.5,556.5 679.5,554.5 677.5,552.5 675.5,550.5 673.5,548.5 671.5,546.5 670.5,544.5 668.5,542.5 666.5,540.5 664.5,538.5 662.5,536.5 660.5,534.5 659.5,532.5 657.5,530.5 655.5,528.5 653.5,526.5 651.5,524.5 650.5,522.5 648.5,519.5 646.5,517.5 644.5,515.5 642.5,513.5 641.5,510.5 639.5,508.5 637.5,506.5 635.5,503.5 633.5,501.5 632.5,499.5 630.5,496.5 628.5,494.5 626.5,491.5 624.5,489.5 623.5,486.5 621.5,483.5 619.5,481.5 617.5,478.5 616.5,475.5 614.5,473.5 612.5,470.5 610.5,467.5 609.5,464.5 607.5,461.5 605.5,458.5 603.5,455.5 602.5,452.5 600.5,449.5 598.5,446.5 597.5,443.5 595.5,440.5 593.5,436.5 592.5,433.5 590.5,430.5 588.5,426.5 587.5,423.5 585.5,419.5 583.5,416.5 582.5,412.5 580.5,408.5 579.5,405.5 577.5,401.5 575.5,397.5 574.5,393.5 572.5,389.5 571.5,385.5 569.5,381.5 568.5,377.5 567.5,372.5 565.5,368.5 564.5,363.5 563.5,359.5 561.5,354.5 560.5,349.5 559.5,345.5 558.5,340.5 557.5,334.5 556.5,329.5 555.5,324.5 554.5,318.5 553.5,313.5 552.5,307.5 551.5,301.5 551.5,295.5 550.5,289.5 549.5,283.5 549.5,276.5 548.5,270.5 548.5,263.5 548.5,256.5 547.5,249.5 547.5,242.5 547.5,234.5 547.5,226.5 547.5,218.5 548.5,210.5 548.5,202.5 548.5,193.5 549.5,184.5 550.5,175.5 551.5,166.5 552.5,156.5 553.5,146.5 554.5,135.5 556.5,124.5 558.5,113.5 560.5,101.5 562.5,89.5 565.5,77.5 568.5,64.5 571.5,50.5" fill="none" stroke="#800000" stroke-width="1" />
<polyline points="131.5,748.5 130.5,748.5 130.5,747.5 129.5,747.5 128.5,746.5 127.5,746.5 127.5,745.5 126.5,745.5 125.5,744.5 125.5,743.5 124.5,743.5 123.5,742.5 122.5,741.5 121.5,740.5 120.5,740.5 120.5,739.5 119.5,739.5 118.5,738.5 118.5,737.5 117.5,737.5 117.5,736.5 116.5,736.5 116.5,735.5 115.5,734.5 114.5,734.5 114.5,733.5 113.5,732.5 112.5,731.5 111.5,730.5 110.5,729.5 109.5,728.5 109.5,727.5 108.5,727.5 108.5,726.5 107.5,725.5 106.5,724.5 105.5,723.5 104.5,722.5 104.5,721.5 103.5,720.5 102.5,719.5 101.5,718.5 100.5,717.5 100.5,716.5 99.5,716.5 98.5,715.5 98.5,714.5 97.5,714.5 97.5,713.5 96.5,712.5 95.5,711.5 94.5,710.5 94.5,709.5 93.5,709.5 92.5,708.5 92.5,707.5 91.5,706.5 90.5,705.5 89.5,704.5 89.5,703.5 88.5,703.5 88.5,702.5 87.5,701.5 86.5,700.5 85.5,699.5 85.5,698.5 84.5,697.5 83.5,697.5 83.5,696.5 82.5,695.5 82.5,694.5 81.5,693.5 80.5,693.5 80.5,692.5 79.5,691.5 79.5,690.5 78.5,689.5 77.5,689.5 77.5,688.5 76.5,687.5 76.5,686.5 75.5,685.5 74.5,684.5 73.5,683.5 73.5,682.5 72.5,681.5 71.5,680.5 71.5,679.5 70.5,678.5 70.5,677.5 69.5,677.5 69.5,676.5 68.5,675.5 67.5,674.5 67.5,673.5 66.5,672.5 66.5,671.5 65.5,670.5 64.5,669.5 64.5,668.5 63.5,667.5 63.5,666.5 62.5,666.5 61.5,665.5 61.5,664.5 60.5,663.5 60.5,662.5 59.5,661.5 58.5,660.5 58.5,659.5 57.5,658.5 57.5,657.5 56.5,656.5 56.5,655.5 55.5,654.5 54.5,653.5 54.5,652.5 53.5,651.5 53.5,650.5 52.5,649.5 51.5,648.5 51.5,647.5 50.5,646.5 50.5,644.5 49.5,643.5 48.5,642.5 48.5,641.5 47.5,640.5 47.5,639.5 46.5,638.5 46.5,637.5 45.5,636.5 44.5,635.5 44.5,633.5 43.5,632.5 43.5,631.5 42.5,630.5 42.5,629.5 41.5,628.5 41.5,626.5 40.5,625.5 39.5,624.5 39.5,623.5 38.5,622.5 38.5,620.5 37.5,619.5 37.5,618.5 36.5,617.5 36.5,615.5 35.5,614.5 35.5,613.5 34.5,611.5 34.5,610.5 33.5,609.5 33.5,608.5 32.5,606.5 32.5,605.5 31.5,603.5 31.5,602.5 30.5,601.5 30.5,599.5 29.5,598.5 29.5,597.5 28.5,595.5 28.5,594.5 27.5,592.5 27.5,591.5 26.5,589.5 26.5,588.5 25.5,586.5 25.5,585.5 24.5,583.5 24.5,582.5 23.5,580.5 23.5,579.5 22.5,577.5 22.5,576.5 21.5,574.5 21.5,573.5 20.5,571.5 20.5,569.5 20.5,568.5 19.5,566.5 19.5,564.5 18.5,563.5 18.5,561.5 17.5,559.5 17.5,558.5 17.5,556.5 16.5,554.5 16.5,553.5 15.5,551.5 15.5,549.5 14.5,547.5 14.5,545.5 14.5,544.5 13.5,542.5 13.5,540.5 13.5,538.5 12.5,536.5 12.5,534.5 12.5,532.5 11.5,530.5 11.5,528.5 11.5,526.5 10.5,524.5 10.5,522.5 10.5,520.5 9.5,518.5 9.5,516.5 9.5,514.5 9.5,512.5 8.5,509.5 8.5,507.5 8.5,505.5 8.5,503.5 7.5,501.5 7.5,498.5 7.5,496.5 7.5,494.5 7.5,491.5 7.5,489.5 6.5,486.5 6.5,484.5 6.5,481.5 6.5,479.5 6.5,476.5 6.5,474.5 6.5,471.5 6.5,469.5 6.5,466.5 6.5,463.5 6.5,460.5 6.5,458.5 6.5,455.5 6.5,452.5 6.5,449.5 6.5,446.5 6.5,443.5 6.5,440.5 7.5,437.5 7.5,434.5 7.5,431.5 7.5,427.5 7.5,424.5 8.5,421.5 8.5,417.5 8.5,414.5 9.5,411.5 9.5,407.5 9.5,404.5 10.5,400.5 10.5,396.5 11.5,393.5 11.5,389.5 12.5,385.5 13.5,381.5 13.5,377.5 14.5,373.5 15.5,369.5 15.5,365.5 16.5,360.5 17.5,356.5 18.5,352.5 19.5,347.5 20.5,342.5 21.5,338.5 22.5,333.5 24.5,328.5 25.5,323.5 26.5,318.5 28.5,312.5 29.5,307.5 31.5,301.5 33.5,296.5 34.5,290.5 36.5,284.5 38.5,278.5 40.5,272.5 42.5,265.5 45.5,259.5 47.5,252.5 49.5,245.5 52.5,238.5 53.5,236.5" fill="none" stroke="#000080" stroke-width="1" />
<polyline points="191.5,748.5 190.5,748.5 190.5,747.5 189.5,747.5 189.5,746.5 188.5,746.5 187.5,746.5 187.5,745.5 186.5,745.5 185.5,744.5 185.5,743.5 184.5,743.5 183.5,742.5 182.5,741.5 181.5,740.5 180.5,740.5 180.5,739.5 179.5,739.5 178.5,738.5 178.5,737.5 177.5,737.5 177.5,736.5 176.5,736.5 175.5,735.5 175.5,734.5 174.5,734.5 174.5,733.5 173.5,732.5 172.5,731.5 171.5,731.5 171.5,730.5 170.5,729.5 169.5,728.5 169.5,727.5 168.5,727.5 167.5,726.5 167.5,725.5 166.5,725.5 166.5,724.5 165.5,723.5 164.5,723.5 164.5,722.5 163.5,721.5 163.5,720.5 162.5,720.5 161.5,719.5 161.5,718.5 160.5,718.5 160.5,717.5 159.5,716.5 158.5,716.5 158.5,715.5 157.5,714.5 156.5,713.5 155.5,712.5 155.5,711.5 154.5,711.5 153.5,710.5 153.5,709.5 152.5,709.5 151.5,708.5 151.5,707.5 150.5,706.5 149.5,705.5 148.5,704.5 148.5,703.5 147.5,703.5 146.5,702.5 146.5,701.5 145.5,700.5 144.5,700.5 144.5,699.5 143.5,698.5 143.5,697.5 142.5,697.5 141.5,696.5 141.5,695.5 140.5,694.5 139.5,693.5 138.5,692.5 137.5,691.5 137.5,690.5 136.5,689.5 135.5,689.5 135.5,688.5 134.5,687.5 134.5,686.5 133.5,685.5 132.5,684.5 131.5,683.5 130.5,682.5 130.5,681.5 129.5,680.5 128.5,679.5 128.5,678.5 127.5,677.5 126.5,677.5 126.5,676.5 125.5,675.5 125.5,674.5 124.5,673.5 123.5,672.5 123.5,671.5 122.5,670.5 121.5,669.5 121.5,668.5 120.5,667.5 119.5,666.5 118.5,665.5 117.5,664.5 117.5,663.5 116.5,662.5 115.5,661.5 115.5,660.5 114.5,659.5 114.5,658.5 113.5,657.5 112.5,656.5 112.5,655.5 111.5,654.5 110.5,653.5 110.5,652.5 109.5,651.5 108.5,650.5 108.5,649.5 107.5,648.5 106.5,647.5 106.5,646.5 105.5,644.5 104.5,643.5 104.5,642.5 103.5,641.5 102.5,640.5 102.5,639.5 101.5,638.5 101.5,637.5 100.5,636.5 99.5,635.5 99.5,633.5 98.5,632.5 97.5,631.5 97.5,630.5 96.5,629.5 95.5,628.5 95.5,626.5 94.5,625.5 94.5,624.5 93.5,623.5 92.5,622.5 92.5,620.5 91.5,619.5 90.5,618.5 90.5,617.5 89.5,615.5 89.5,614.5 88.5,613.5 87.5,611.5 87.5,610.5 86.5,609.5 86.5,608.5 85.5,606.5 84.5,605.5 84.5,603.5 83.5,602.5 83.5,601.5 82.5,599.5 82.5,598.5 81.5,597.5 80.5,595.5 80.5,594.5 79.5,592.5 79.5,591.5 78.5,589.5 78.5,588.5 77.5,586.5 76.5,585.5 76.5,583.5 75.5,582.5 75.5,580.5 74.5,579.5 74.5,577.5 73.5,576.5 73.5,574.5 72.5,573.5 71.5,571.5 71.5,569.5 70.5,568.5 70.5,566.5 69.5,564.5 69.5,563.5 68.5,561.5 68.5,559.5 67.5,558.5 67.5,556.5 66.5,554.5 66.5,553.5 65.5,551.5 65.5,549.5 64.5,547.5 64.5,545.5 63.5,544.5 63.5,542.5 62.5,540.5 62.5,538.5 61.5,536.5 61.5,534.5 60.5,532.5 60.5,530.5 60.5,528.5 59.5,526.5 59.5,524.5 58.5,522.5 58.5,520.5 58.5,518.5 57.5,516.5 57.5,514.5 56.5,512.5 56.5,509.5 56.5,507.5 55.5,505.5 55.5,503.5 55.5,501.5 54.5,498.5 54.5,496.5 54.5,494.5 54.5,491.5 53.5,489.5 53.5,486.5 53.5,484.5 52.5,481.5 52.5,479.5 52.5,476.5 52.5,474.5 52.5,471.5 52.5,469.5 51.5,466.5 51.5,463.5 51.5,460.5 51.5,458.5 51.5,455.5 51.5,452.5 51.5,449.5 51.5,446.5 51.5,443.5 51.5,440.5 51.5,437.5 51.5,434.5 51.5,431.5 51.5,427.5 51.5,424.5 51.5,421.5 52.5,417.5 52.5,414.5 52.5,411.5 52.5,407.5 52.5,404.5 53.5,400.5 53.5,396.5 53.5,393.5 54.5,389.5 54.5,385.5 55.5,381.5 55.5,377.5 56.5,373.5 56.5,369.5 57.5,365.5 57.5,360.5 58.5,356.5 59.5,352.5 60.5,347.5 61.5,342.5 62.5,338.5 63.5,333.5 64.5,328.5 65.5,323.5 66.5,318.5 67.5,312.5 69.5,307.5 70.5,301.5 72.5,296.5 73.5,290.5 75.5,284.5 77.5,278.5 79.5,272.5 81.5,265.5 83.5,259.5 85.5,252.5 87.5,245.5 89.5,238.5 92.5,231.5 94.5,224.5 97.5,216.5 100.5,209.5 103.5,201.5 106.5,192.5 109.5,184.5 113.5,175.5" fill="none" stroke="#000080" stroke-width="1" />
<polyline points="250.5,748.5 249.5,747.5 248.5,746.5 247.5,746.5 246.5,745.5 245.5,744.5 244.5,743.5 243.5,742.5 242.5,741.5 241.5,741.5 241.5,740.5 240.5,740.5 240.5,739.5 239.5,739.5 239.5,738.5 238.5,737.5 237.5,737.5 237.5,736.5 236.5,736.5 236.5,735.5 235.5,734.5 234.5,733.5 234.5,732.5 233.5,732.5 232.5,731.5 231.5,730.5 231.5,729.5 230.5,729.5 230.5,728.5 229.5,727.5 228.5,726.5 227.5,725.5 226.5,724.5 226.5,723.5 225.5,723.5 225.5,722.5 224.5,721.5 223.5,720.5 222.5,719.5 222.5,718.5 221.5,718.5 220.5,717.5 220.5,716.5 219.5,716.5 219.5,715.5 218.5,714.5 217.5,714.5 217.5,713.5 216.5,712.5 215.5,711.5 214.5,710.5 214.5,709.5 213.5,709.5 212.5,708.5 212.5,707.5 211.5,706.5 210.5,706.5 210.5,705.5 209.5,704.5 208.5,703.5 207.5,702.5 206.5,701.5 206.5,700.5 205.5,700.5 205.5,699.5 204.5,698.5 203.5,697.5 202.5,696.5 201.5,695.5 201.5,694.5 200.5,693.5 199.5,693.5 199.5,692.5 198.5,691.5 197.5,690.5 197.5,689.5 196.5,689.5 195.5,688.5 195.5,687.5 194.5,686.5 193.5,685.5 193.5,684.5 192.5,684.5 191.5,683.5 191.5,682.5 190.5,681.5 189.5,680.5 189.5,679.5 188.5,678.5 187.5,677.5 186.5,676.5 185.5,675.5 185.5,674.5 184.5,673.5 183.5,672.5 183.5,671.5 182.5,670.5 181.5,669.5 180.5,668.5 180.5,667.5 179.5,666.5 178.5,666.5 178.5,665.5 177.5,664.5 176.5,663.5 176.5,662.5 175.5,661.5 174.5,660.5 174.5,659.5 173.5,658.5 172.5,657.5 171.5,656.5 171.5,655.5 170.5,654.5 169.5,653.5 169.5,652.5 168.5,651.5 167.5,650.5 167.5,649.5 166.5,648.5 165.5,647.5 164.5,646.5 164.5,644.5 163.5,643.5 162.5,642.5 162.5,641.5 161.5,640.5 160.5,639.5 159.5,638.5 159.5,637.5 158.5,636.5 157.5,635.5 157.5,633.5 156.5,632.5 155.5,631.5 155.5,630.5 154.5,629.5 153.5,628.5 152.5,626.5 152.5,625.5 151.5,624.5 150.5,623.5 150.5,622.5 149.5,620.5 148.5,619.5 148.5,618.5 147.5,617.5 146.5,615.5 146.5,614.5 145.5,613.5 144.5,611.5 144.5,610.5 143.5,609.5 142.5,608.5 142.5,606.5 141.5,605.5 140.5,603.5 140.5,602.5 139.5,601.5 138.5,599.5 138.5,598.5 137.5,597.5 136.5,595.5 136.5,594.5 135.5,592.5 134.5,591.5 134.5,589.5 133.5,588.5 132.5,586.5 132.5,585.5 131.5,583.5 130.5,582.5 130.5,580.5 129.5,579.5 128.5,577.5 128.5,576.5 127.5,574.5 126.5,573.5 126.5,571.5 125.5,569.5 125.5,568.5 124.5,566.5 123.5,564.5 123.5,563.5 122.5,561.5 121.5,559.5 121.5,558.5 120.5,556.5 120.5,554.5 119.5,553.5 118.5,551.5 118.5,549.5 117.5,547.5 117.5,545.5 116.5,544.5 115.5,542.5 115.5,540.5 114.5,538.5 114.5,536.5 113.5,534.5 113.5,532.5 112.5,530.5 112.5,528.5 111.5,526.5 110.5,524.5 110.5,522.5 109.5,520.5 109.5,518.5 108.5,516.5 108.5,514.5 107.5,512.5 107.5,509.5 107.5,507.5 106.5,505.5 106.5,503.5 105.5,501.5 105.5,498.5 104.5,496.5 104.5,494.5 103.5,491.5 103.5,489.5 103.5,486.5 102.5,484.5 102.5,481.5 102.5,479.5 101.5,476.5 101.5,474.5 101.5,471.5 100.5,469.5 100.5,466.5 100.5,463.5 100.5,460.5 99.5,458.5 99.5,455.5 99.5,452.5 99.5,449.5 99.5,446.5 99.5,443.5 98.5,440.5 98.5,437.5 98.5,434.5 98.5,431.5 98.5,427.5 98.5,424.5 98.5,421.5 98.5,417.5 98.5,414.5 98.5,411.5 98.5,407.5 98.5,404.5 98.5,400.5 99.5,396.5 99.5,393.5 99.5,389.5 99.5,385.5 100.5,381.5 100.5,377.5 100.5,373.5 101.5,369.5 101.5,365.5 102.5,360.5 102.5,356.5 103.5,352.5 103.5,347.5 104.5,342.5 105.5,338.5 106.5,333.5 107.5,328.5 108.5,323.5 109.5,318.5 110.5,312.5 111.5,307.5 112.5,301.5 114.5,296.5 115.5,290.5 116.5,284.5 118.5,278.5 120.5,272.5 121.5,265.5 123.5,259.5 125.5,252.5 127.5,245.5 129.5,238.5 132.5,231.5 134.5,224.5 136.5,216.5 139.5,209.5 142.5,201.5 145.5,192.5 148.5,184.5 151.5,175.5 155.5,166.5 158.5,157.5 162.5,148.5 166.5,138.5 170.5,128.5 175.5,117.5 178.5,110.5" fill="none" stroke="#000080" stroke-width="1" />
<polyline points="309.5,748.5 308.5,747.5 307.5,747.5 307.5,746.5 306.5,746.5 305.5,745.5 304.5,744.5 304.5,743.5 303.5,743.5 303.5,742.5 302.5,742.5 302.5,741.5 301.5,741.5 301.5,740.5 300.5,740.5 300.5,739.5 299.5,739.5 299.5,738.5 298.5,737.5 297.5,736.5 296.5,735.5 296.5,734.5 295.5,734.5 295.5,733.5 295.5,732.5 294.5,732.5 294.5,731.5 293.5,731.5 293.5,730.5 292.5,729.5 291.5,728.5 291.5,727.5 290.5,727.5 290.5,726.5 289.5,725.5 288.5,724.5 288.5,723.5 287.5,723.5 287.5,722.5 286.5,721.5 286.5,720.5 285.5,720.5 285.5,719.5 284.5,718.5 283.5,717.5 283.5,716.5 282.5,716.5 281.5,715.5 281.5,714.5 280.5,714.5 280.5,713.5 279.5,712.5 279.5,711.5 278.5,711.5 277.5,710.5 277.5,709.5 276.5,709.5 276.5,708.5 275.5,707.5 275.5,706.5 274.5,706.5 273.5,705.5 273.5,704.5 272.5,703.5 271.5,702.5 270.5,701.5 270.5,700.5 269.5,700.5 269.5,699.5 268.5,698.5 267.5,697.5 266.5,696.5 266.5,695.5 265.5,694.5 264.5,693.5 263.5,692.5 262.5,691.5 262.5,690.5 261.5,689.5 260.5,688.5 259.5,687.5 259.5,686.5 258.5,685.5 257.5,684.5 256.5,683.5 255.5,682.5 255.5,681.5 254.5,680.5 253.5,679.5 253.5,678.5 252.5,677.5 251.5,677.5 251.5,676.5 250.5,675.5 249.5,674.5 249.5,673.5 248.5,672.5 247.5,671.5 247.5,670.5 246.5,669.5 245.5,668.5 245.5,667.5 244.5,666.5 243.5,666.5 243.5,665.5 242.5,664.5 241.5,663.5 241.5,662.5 240.5,661.5 239.5,660.5 238.5,659.5 238.5,658.5 237.5,657.5 236.5,656.5 236.5,655.5 235.5,654.5 234.5,653.5 233.5,652.5 233.5,651.5 232.5,650.5 231.5,649.5 231.5,648.5 230.5,647.5 229.5,646.5 228.5,644.5 228.5,643.5 227.5,642.5 226.5,641.5 225.5,640.5 225.5,639.5 224.5,638.5 223.5,637.5 222.5,636.5 222.5,635.5 221.5,633.5 220.5,632.5 219.5,631.5 219.5,630.5 218.5,629.5 217.5,628.5 217.5,626.5 216.5,625.5 215.5,624.5 214.5,623.5 214.5,622.5 213.5,620.5 212.5,619.5 211.5,618.5 211.5,617.5 210.5,615.5 209.5,614.5 208.5,613.5 208.5,611.5 207.5,610.5 206.5,609.5 205.5,608.5 205.5,606.5 204.5,605.5 203.5,603.5 202.5,602.5 202.5,601.5 201.5,599.5 200.5,598.5 200.5,597.5 199.5,595.5 198.5,594.5 197.5,592.5 197.5,591.5 196.5,589.5 195.5,588.5 194.5,586.5 194.5,585.5 193.5,583.5 192.5,582.5 191.5,580.5 191.5,579.5 190.5,577.5 189.5,576.5 188.5,574.5 188.5,573.5 187.5,571.5 186.5,569.5 186.5,568.5 185.5,566.5 184.5,564.5 183.5,563.5 183.5,561.5 182.5,559.5 181.5,558.5 180.5,556.5 180.5,554.5 179.5,553.5 178.5,551.5 178.5,549.5 177.5,547.5 176.5,545.5 175.5,544.5 175.5,542.5 174.5,540.5 173.5,538.5 173.5,536.5 172.5,534.5 171.5,532.5 171.5,530.5 170.5,528.5 170.5,526.5 169.5,524.5 168.5,522.5 168.5,520.5 167.5,518.5 166.5,516.5 166.5,514.5 165.5,512.5 165.5,509.5 164.5,507.5 163.5,505.5 163.5,503.5 162.5,501.5 162.5,498.5 161.5,496.5 160.5,494.5 160.5,491.5 159.5,489.5 159.5,486.5 158.5,484.5 158.5,481.5 157.5,479.5 157.5,476.5 156.5,474.5 156.5,471.5 156.5,469.5 155.5,466.5 155.5,463.5 154.5,460.5 154.5,458.5 154.5,455.5 153.5,452.5 153.5,449.5 153.5,446.5 152.5,443.5 152.5,440.5 152.5,437.5 152.5,434.5 151.5,431.5 151.5,427.5 151.5,424.5 151.5,421.5 151.5,417.5 150.5,414.5 150.5,411.5 150.5,407.5 150.5,404.5 150.5,400.5 150.5,396.5 150.5,393.5 150.5,389.5 150.5,385.5 150.5,381.5 151.5,377.5 151.5,373.5 151.5,369.5 151.5,365.5 152.5,360.5 152.5,356.5 152.5,352.5 153.5,347.5 153.5,342.5 154.5,338.5 154.5,333.5 155.5,328.5 156.5,323.5 157.5,318.5 158.5,312.5 159.5,307.5 160.5,301.5 161.5,296.5 162.5,290.5 163.5,284.5 165.5,278.5 166.5,272.5 168.5,265.5 169.5,259.5 171.5,252.5 173.5,245.5 175.5,238.5 177.5,231.5 179.5,224.5 181.5,216.5 183.5,209.5 186.5,201.5 188.5,192.5 191.5,184.5 194.5,175.5 197.5,166.5 201.5,157.5 204.5,148.5 208.5,138.5 212.5,128.5 216.5,117.5 220.5,106.5 225.5,95.5 230.5,83.5 235.5,71.5 241.5,59.5 245.5,50.5" fill="none" stroke="#000080" stroke-width="1" />
<polyline points="367.5,748.5 366.5,747.5 365.5,746.5 364.5,745.5 363.5,744.5 363.5,743.5 362.5,742.5 362.5,741.5 361.5,741.5 361.5,740.5 360.5,740.5 360.5,739.5 359.5,738.5 359.5,737.5 358.5,736.5 357.5,735.5 357.5,734.5 356.5,733.5 356.5,732.5 355.5,731.5 355.5,730.5 354.5,729.5 354.5,728.5 353.5,727.5 353.5,726.5 352.5,725.5 352.5,724.5 351.5,723.5 350.5,722.5 350.5,721.5 350.5,720.5 349.5,720.5 349.5,719.5 348.5,718.5 348.5,717.5 347.5,716.5 346.5,715.5 346.5,714.5 345.5,713.5 345.5,712.5 344.5,711.5 343.5,710.5 343.5,709.5 342.5,708.5 342.5,707.5 341.5,706.5 340.5,705.5 340.5,704.5 339.5,703.5 338.5,702.5 338.5,701.5 337.5,700.5 336.5,699.5 336.5,698.5 335.5,697.5 335.5,696.5 334.5,695.5 334.5,694.5 333.5,693.5 332.5,692.5 332.5,691.5 331.5,690.5 331.5,689.5 330.5,689.5 330.5,688.5 329.5,687.5 328.5,686.5 328.5,685.5 327.5,684.5 326.5,683.5 326.5,682.5 325.5,681.5 325.5,680.5 324.5,679.5 324.5,678.5 323.5,677.5 322.5,676.5 321.5,675.5 321.5,674.5 320.5,673.5 320.5,672.5 319.5,671.5 319.5,670.5 318.5,669.5 317.5,668.5 317.5,667.5 316.5,666.5 315.5,665.5 314.5,664.5 314.5,663.5 313.5,662.5 313.5,661.5 312.5,660.5 311.5,659.5 311.5,658.5 310.5,657.5 309.5,656.5 309.5,655.5 308.5,654.5 308.5,653.5 307.5,652.5 306.5,651.5 306.5,650.5 305.5,649.5 304.5,648.5 304.5,647.5 303.5,646.5 302.5,644.5 302.5,643.5 301.5,642.5 300.5,641.5 299.5,640.5 299.5,639.5 298.5,638.5 297.5,637.5 297.5,636.5 296.5,635.5 295.5,633.5 295.5,632.5 294.5,631.5 293.5,630.5 292.5,629.5 292.5,628.5 291.5,626.5 290.5,625.5 290.5,624.5 289.5,623.5 288.5,622.5 287.5,620.5 287.5,619.5 286.5,618.5 285.5,617.5 284.5,615.5 284.5,614.5 283.5,613.5 282.5,611.5 282.5,610.5 281.5,609.5 280.5,608.5 279.5,606.5 279.5,605.5 278.5,603.5 277.5,602.5 276.5,601.5 275.5,599.5 275.5,598.5 274.5,597.5 273.5,595.5 272.5,594.5 272.5,592.5 271.5,591.5 270.5,589.5 269.5,588.5 269.5,586.5 268.5,585.5 267.5,583.5 266.5,582.5 265.5,580.5 265.5,579.5 264.5,577.5 263.5,576.5 262.5,574.5 261.5,573.5 261.5,571.5 260.5,569.5 259.5,568.5 258.5,566.5 257.5,564.5 257.5,563.5 256.5,561.5 255.5,559.5 254.5,558.5 253.5,556.5 252.5,554.5 252.5,553.5 251.5,551.5 250.5,549.5 249.5,547.5 248.5,545.5 248.5,544.5 247.5,542.5 246.5,540.5 245.5,538.5 244.5,536.5 244.5,534.5 243.5,532.5 242.5,530.5 241.5,528.5 241.5,526.5 240.5,524.5 239.5,522.5 238.5,520.5 238.5,518.5 237.5,516.5 236.5,514.5 235.5,512.5 235.5,509.5 234.5,507.5 233.5,505.5 232.5,503.5 232.5,501.5 231.5,498.5 230.5,496.5 230.5,494.5 229.5,491.5 228.5,489.5 227.5,486.5 227.5,484.5 226.5,481.5 225.5,479.5 225.5,476.5 224.5,474.5 224.5,471.5 223.5,469.5 222.5,466.5 222.5,463.5 221.5,460.5 221.5,458.5 220.5,455.5 220.5,452.5 219.5,449.5 219.5,446.5 218.5,443.5 218.5,440.5 217.5,437.5 217.5,434.5 216.5,431.5 216.5,427.5 216.5,424.5 215.5,421.5 215.5,417.5 215.5,414.5 214.5,411.5 214.5,407.5 214.5,404.5 213.5,400.5 213.5,396.5 213.5,393.5 213.5,389.5 213.5,385.5 213.5,381.5 212.5,377.5 212.5,373.5 212.5,369.5 212.5,365.5 213.5,360.5 213.5,356.5 213.5,352.5 213.5,347.5 213.5,342.5 214.5,338.5 214.5,333.5 215.5,328.5 215.5,323.5 216.5,318.5 216.5,312.5 217.5,307.5 218.5,301.5 219.5,296.5 220.5,290.5 221.5,284.5 222.5,278.5 223.5,272.5 224.5,265.5 225.5,259.5 227.5,252.5 228.5,245.5 230.5,238.5 232.5,231.5 233.5,224.5 235.5,216.5 237.5,209.5 240.5,201.5 242.5,192.5 244.5,184.5 247.5,175.5 250.5,166.5 253.5,157.5 256.5,148.5 259.5,138.5 263.5,128.5 267.5,117.5 271.5,106.5 275.5,95.5 280.5,83.5 285.5,71.5 290.5,59.5 293.5,50.5" fill="none" stroke="#000080" stroke-width="1" />
<polyline points="425.5,748.5 424.5,748.5 424.5,747.5 424.5,746.5 423.5,746.5 423.5,745.5 422.5,744.5 422.5,743.5 422.5,742.5 421.5,742.5 421.5,741.5 421.5,740.5 420.5,740.5 420.5,739.5 420.5,738.5 420.5,737.5 419.5,737.5 419.5,736.5 419.5,735.5 418.5,734.5 418.5,733.5 418.5,732.5 418.5,731.5 417.5,731.5 417.5,730.5 417.5,729.5 417.5,728.5 416.5,727.5 416.5,726.5 416.5,725.5 415.5,724.5 415.5,723.5 415.5,722.5 415.5,721.5 414.5,720.5 414.5,719.5 414.5,718.5 413.5,718.5 413.5,717.5 413.5,716.5 412.5,715.5 412.5,714.5 412.5,713.5 411.5,712.5 411.5,711.5 411.5,710.5 410.5,709.5 410.5,708.5 410.5,707.5 409.5,706.5 409.5,705.5 409.5,704.5 408.5,703.5 408.5,702.5 407.5,701.5 407.5,700.5 407.5,699.5 406.5,698.5 406.5,697.5 405.5,696.5 405.5,695.5 405.5,694.5 405.5,693.5 404.5,693.5 404.5,692.5 404.5,691.5 403.5,690.5 403.5,689.5 402.5,688.5 402.5,687.5 402.5,686.5 402.5,685.5 401.5,684.5 401.5,683.5 400.5,682.5 400.5,681.5 400.5,680.5 399.5,679.5 399.5,678.5 399.5,677.5 398.5,677.5 398.5,676.5 398.5,675.5 397.5,674.5 397.5,673.5 397.5,672.5 396.5,671.5 396.5,670.5 396.5,669.5 395.5,668.5 395.5,667.5 394.5,666.5 394.5,665.5 393.5,664.5 393.5,663.5 392.5,662.5 392.5,661.5 392.5,660.5 391.5,659.5 391.5,658.5 390.5,657.5 390.5,656.5 390.5,655.5 389.5,654.5 389.5,653.5 388.5,652.5 388.5,651.5 387.5,650.5 387.5,649.5 387.5,648.5 386.5,647.5 386.5,646.5 385.5,644.5 385.5,643.5 384.5,642.5 384.5,641.5 383.5,640.5 383.5,639.5 382.5,638.5 382.5,637.5 381.5,636.5 381.5,635.5 380.5,633.5 380.5,632.5 379.5,631.5 379.5,630.5 378.5,629.5 378.5,628.5 377.5,626.5 377.5,625.5 376.5,624.5 376.5,623.5 375.5,622.5 375.5,620.5 374.5,619.5 374.5,618.5 373.5,617.5 373.5,615.5 372.5,614.5 371.5,613.5 371.5,611.5 370.5,610.5 370.5,609.5 369.5,608.5 369.5,606.5 368.5,605.5 367.5,603.5 367.5,602.5 366.5,601.5 366.5,599.5 365.5,598.5 364.5,597.5 364.5,595.5 363.5,594.5 362.5,592.5 362.5,591.5 361.5,589.5 360.5,588.5 360.5,586.5 359.5,585.5 358.5,583.5 358.5,582.5 357.5,580.5 356.5,579.5 356.5,577.5 355.5,576.5 354.5,574.5 354.5,573.5 353.5,571.5 352.5,569.5 351.5,568.5 351.5,566.5 350.5,564.5 349.5,563.5 348.5,561.5 348.5,559.5 347.5,558.5 346.5,556.5 345.5,554.5 344.5,553.5 344.5,551.5 343.5,549.5 342.5,547.5 341.5,545.5 340.5,544.5 340.5,542.5 339.5,540.5 338.5,538.5 337.5,536.5 336.5,534.5 336.5,532.5 335.5,530.5 334.5,528.5 333.5,526.5 332.5,524.5 332.5,522.5 331.5,520.5 330.5,518.5 329.5,516.5 328.5,514.5 327.5,512.5 327.5,509.5 326.5,507.5 325.5,505.5 324.5,503.5 323.5,501.5 322.5,498.5 322.5,496.5 321.5,494.5 320.5,491.5 319.5,489.5 318.5,486.5 317.5,484.5 317.5,481.5 316.5,479.5 315.5,476.5 314.5,474.5 313.5,471.5 313.5,469.5 312.5,466.5 311.5,463.5 310.5,460.5 310.5,458.5 309.5,455.5 308.5,452.5 308.5,449.5 307.5,446.5 306.5,443.5 305.5,440.5 305.5,437.5 304.5,434.5 303.5,431.5 303.5,427.5 302.5,424.5 302.5,421.5 301.5,417.5 300.5,414.5 300.5,411.5 299.5,407.5 299.5,404.5 298.5,400.5 298.5,396.5 297.5,393.5 297.5,389.5 296.5,385.5 296.5,381.5 296.5,377.5 295.5,373.5 295.5,369.5 295.5,365.5 295.5,360.5 294.5,356.5 294.5,352.5 294.5,347.5 294.5,342.5 294.5,338.5 294.5,333.5 294.5,328.5 295.5,323.5 295.5,318.5 295.5,312.5 296.5,307.5 296.5,301.5 296.5,296.5 297.5,290.5 298.5,284.5 298.5,278.5 299.5,272.5 300.5,265.5 301.5,259.5 302.5,252.5 303.5,245.5 304.5,238.5 305.5,231.5 307.5,224.5 308.5,216.5 310.5,209.5 312.5,201.5 314.5,192.5 316.5,184.5 318.5,175.5 320.5,166.5 323.5,157.5 326.5,148.5 328.5,138.5 332.5,128.5 335.5,117.5 338.5,106.5 342.5,95.5 346.5,83.5 351.5,71.5 355.5,59.5 359.5,50.5" fill="none" stroke="#000080" stroke-width="1" />
<polyline points="483.5,748.5 482.5,747.5 482.5,746.5 482.5,745.5 481.5,744.5 481.5,743.5 481.5,742.5 481.5,741.5 481.5,740.5 480.5,740.5 480.5,739.5 480.5,738.5 480.5,737.5 480.5,736.5 480.5,735.5 480.5,734.5 480.5,733.5 480.5,732.5 479.5,732.5 479.5,731.5 479.5,730.5 479.5,729.5 479.5,728.5 479.5,727.5 479.5,726.5 479.5,725.5 479.5,724.5 479.5,723.5 479.5,722.5 479.5,721.5 479.5,720.5 478.5,720.5 478.5,719.5 478.5,718.5 478.5,717.5 478.5,716.5 478.5,715.5 478.5,714.5 478.5,713.5 478.5,712.5 478.5,711.5 477.5,711.5 477.5,710.5 477.5,709.5 477.5,708.5 477.5,707.5 477.5,706.5 477.5,705.5 477.5,704.5 477.5,703.5 476.5,702.5 476.5,701.5 476.5,700.5 476.5,699.5 476.5,698.5 476.5,697.5 476.5,696.5 476.5,695.5 476.5,694.5 475.5,693.5 475.5,692.5 475.5,691.5 475.5,690.5 475.5,689.5 475.5,688.5 475.5,687.5 475.5,686.5 475.5,685.5 475.5,684.5 474.5,684.5 474.5,683.5 474.5,682.5 474.5,681.5 474.5,680.5 474.5,679.5 474.5,678.5 474.5,677.5 474.5,676.5 474.5,675.5 473.5,674.5 473.5,673.5 473.5,672.5 473.5,671.5 473.5,670.5 473.5,669.5 473.5,668.5 473.5,667.5 473.5,666.5 472.5,665.5 472.5,664.5 472.5,663.5 472.5,662.5 472.5,661.5 472.5,660.5 472.5,659.5 472.5,658.5 472.5,657.5 471.5,656.5 471.5,655.5 471.5,654.5 471.5,653.5 471.5,652.5 471.5,651.5 471.5,650.5 471.5,649.5 470.5,648.5 470.5,647.5 470.5,646.5 470.5,644.5 470.5,643.5 470.5,642.5 470.5,641.5 470.5,640.5 469.5,639.5 469.5,638.5 469.5,637.5 469.5,636.5 469.5,635.5 469.5,633.5 469.5,632.5 468.5,631.5 468.5,630.5 468.5,629.5 468.5,628.5 468.5,626.5 468.5,625.5 467.5,624.5 467.5,623.5 467.5,622.5 467.5,620.5 467.5,619.5 467.5,618.5 467.5,617.5 466.5,615.5 466.5,614.5 466.5,613.5 466.5,611.5 466.5,610.5 465.5,609.5 465.5,608.5 465.5,606.5 465.5,605.5 465.5,603.5 465.5,602.5 464.5,601.5 464.5,599.5 464.5,598.5 464.5,597.5 464.5,595.5 463.5,594.5 463.5,592.5 463.5,591.5 463.5,589.5 462.5,588.5 462.5,586.5 462.5,585.5 462.5,583.5 461.5,582.5 461.5,580.5 461.5,579.5 461.5,577.5 460.5,576.5 460.5,574.5 460.5,573.5 460.5,571.5 459.5,569.5 459.5,568.5 459.5,566.5 458.5,564.5 458.5,563.5 458.5,561.5 457.5,559.5 457.5,558.5 457.5,556.5 456.5,554.5 456.5,553.5 456.5,551.5 455.5,549.5 455.5,547.5 454.5,545.5 454.5,544.5 454.5,542.5 453.5,540.5 453.5,538.5 452.5,536.5 452.5,534.5 451.5,532.5 451.5,530.5 451.5,528.5 450.5,526.5 450.5,524.5 449.5,522.5 449.5,520.5 448.5,518.5 448.5,516.5 447.5,514.5 447.5,512.5 446.5,509.5 446.5,507.5 445.5,505.5 445.5,503.5 444.5,501.5 443.5,498.5 443.5,496.5 442.5,494.5 442.5,491.5 441.5,489.5 440.5,486.5 440.5,484.5 439.5,481.5 439.5,479.5 438.5,476.5 437.5,474.5 437.5,471.5 436.5,469.5 435.5,466.5 435.5,463.5 434.5,460.5 433.5,458.5 433.5,455.5 432.5,452.5 431.5,449.5 431.5,446.5 430.5,443.5 429.5,440.5 429.5,437.5 428.5,434.5 427.5,431.5 426.5,427.5 426.5,424.5 425.5,421.5 424.5,417.5 424.5,414.5 423.5,411.5 422.5,407.5 421.5,404.5 421.5,400.5 420.5,396.5 419.5,393.5 419.5,389.5 418.5,385.5 417.5,381.5 417.5,377.5 416.5,373.5 416.5,369.5 415.5,365.5 414.5,360.5 414.5,356.5 413.5,352.5 413.5,347.5 413.5,342.5 412.5,338.5 412.5,333.5 412.5,328.5 411.5,323.5 411.5,318.5 411.5,312.5 411.5,307.5 411.5,301.5 411.5,296.5 411.5,290.5 411.5,284.5 411.5,278.5 412.5,272.5 412.5,265.5 412.5,259.5 413.5,252.5 413.5,245.5 414.5,238.5 415.5,231.5 416.5,224.5 417.5,216.5 418.5,209.5 419.5,201.5 420.5,192.5 421.5,184.5 423.5,175.5 425.5,166.5 426.5,157.5 428.5,148.5 431.5,138.5 433.5,128.5 436.5,117.5 438.5,106.5 441.5,95.5 445.5,83.5 448.5,71.5 452.5,59.5 455.5,50.5" fill="none" stroke="#000080" stroke-width="1" />
<polyline points="541.5,748.5 541.5,747.5 541.5,746.5 541.5,745.5 541.5,744.5 541.5,743.5 541.5,742.5 541.5,741.5 541.5,740.5 540.5,740.5 540.5,739.5 540.5,738.5 540.5,737.5 541.5,737.5 541.5,736.5 541.5,735.5 541.5,734.5 541.5,733.5 541.5,732.5 541.5,731.5 541.5,730.5 541.5,729.5 541.5,728.5 541.5,727.5 541.5,726.5 541.5,725.5 541.5,724.5 541.5,723.5 542.5,723.5 542.5,722.5 542.5,721.5 542.5,720.5 542.5,719.5 542.5,718.5 542.5,717.5 542.5,716.5 542.5,715.5 542.5,714.5 542.5,713.5 542.5,712.5 542.5,711.5 542.5,710.5 542.5,709.5 543.5,708.5 543.5,707.5 543.5,706.5 543.5,705.5 543.5,704.5 543.5,703.5 543.5,702.5 543.5,701.5 543.5,700.5 543.5,699.5 543.5,698.5 543.5,697.5 543.5,696.5 543.5,695.5 544.5,694.5 544.5,693.5 544.5,692.5 544.5,691.5 544.5,690.5 544.5,689.5 544.5,688.5 544.5,687.5 544.5,686.5 544.5,685.5 544.5,684.5 545.5,684.5 545.5,683.5 545.5,682.5 545.5,681.5 545.5,680.5 545.5,679.5 545.5,678.5 545.5,677.5 545.5,676.5 545.5,675.5 546.5,674.5 546.5,673.5 546.5,672.5 546.5,671.5 546.5,670.5 546.5,669.5 546.5,668.5 546.5,667.5 546.5,666.5 547.5,665.5 547.5,664.5 547.5,663.5 547.5,662.5 547.5,661.5 547.5,660.5 547.5,659.5 547.5,658.5 547.5,657.5 548.5,656.5 548.5,655.5 548.5,654.5 548.5,653.5 548.5,652.5 548.5,651.5 548.5,650.5 548.5,649.5 548.5,648.5 549.5,647.5 549.5,646.5 549.5,644.5 549.5,643.5 549.5,642.5 549.5,641.5 549.5,640.5 549.5,639.5 550.5,638.5 550.5,637.5 550.5,636.5 550.5,635.5 550.5,633.5 550.5,632.5 550.5,631.5 551.5,630.5 551.5,629.5 551.5,628.5 551.5,626.5 551.5,625.5 551.5,624.5 552.5,623.5 552.5,622.5 552.5,620.5 552.5,619.5 552.5,618.5 553.5,617.5 553.5,615.5 553.5,614.5 553.5,613.5 553.5,611.5 553.5,610.5 554.5,609.5 554.5,608.5 554.5,606.5 554.5,605.5 554.5,603.5 555.5,602.5 555.5,601.5 555.5,599.5 555.5,598.5 555.5,597.5 556.5,595.5 556.5,594.5 556.5,592.5 556.5,591.5 557.5,589.5 557.5,588.5 557.5,586.5 557.5,585.5 557.5,583.5 558.5,582.5 558.5,580.5 558.5,579.5 558.5,577.5 559.5,576.5 559.5,574.5 559.5,573.5 559.5,571.5 559.5,569.5 560.5,568.5 560.5,566.5 560.5,564.5 560.5,563.5 561.5,561.5 561.5,559.5 561.5,558.5 561.5,556.5 562.5,554.5 562.5,553.5 562.5,551.5 562.5,549.5 563.5,547.5 563.5,545.5 563.5,544.5 563.5,542.5 564.5,540.5 564.5,538.5 564.5,536.5 564.5,534.5 565.5,532.5 565.5,530.5 565.5,528.5 566.5,526.5 566.5,524.5 566.5,522.5 566.5,520.5 567.5,518.5 567.5,516.5 567.5,514.5 568.5,512.5 568.5,509.5 568.5,507.5 568.5,505.5 569.5,503.5 569.5,501.5 569.5,498.5 570.5,496.5 570.5,494.5 570.5,491.5 570.5,489.5 571.5,486.5 571.5,484.5 571.5,481.5 572.5,479.5 572.5,476.5 572.5,474.5 573.5,471.5 573.5,469.5 573.5,466.5 573.5,463.5 574.5,460.5 574.5,458.5 574.5,455.5 575.5,452.5 575.5,449.5 575.5,446.5 576.5,443.5 576.5,440.5 576.5,437.5 577.5,434.5 577.5,431.5 577.5,427.5 578.5,424.5 578.5,421.5 578.5,417.5 578.5,414.5 579.5,411.5 579.5,407.5 579.5,404.5 579.5,400.5 580.5,396.5 580.5,393.5 580.5,389.5 580.5,385.5 580.5,381.5 581.5,377.5 581.5,373.5 581.5,369.5 581.5,365.5 581.5,360.5 582.5,356.5 582.5,352.5 582.5,347.5 582.5,342.5 582.5,338.5 583.5,333.5 583.5,328.5 583.5,323.5 583.5,318.5 584.5,312.5 584.5,307.5 584.5,301.5 584.5,296.5 584.5,290.5 585.5,284.5 585.5,278.5 585.5,272.5 585.5,265.5 586.5,259.5 586.5,252.5 586.5,245.5 587.5,238.5 587.5,231.5 588.5,224.5 588.5,216.5 589.5,209.5 589.5,201.5 590.5,192.5 590.5,184.5 591.5,175.5 592.5,166.5 593.5,157.5 594.5,148.5 596.5,138.5 597.5,128.5 599.5,117.5 600.5,106.5 602.5,95.5 604.5,83.5 607.5,71.5 609.5,59.5 611.5,50.5" fill="none" stroke="#000080" stroke-width="1" />
<polyline points="600.5,748.5 600.5,747.5 600.5,746.5 600.5,745.5 600.5,744.5 600.5,743.5 600.5,742.5 600.5,741.5 600.5,740.5 601.5,740.5 601.5,739.5 601.5,738.5 601.5,737.5 601.5,736.5 601.5,735.5 601.5,734.5 601.5,733.5 601.5,732.5 602.5,732.5 602.5,731.5 602.5,730.5 602.5,729.5 602.5,728.5 602.5,727.5 603.5,727.5 603.5,726.5 603.5,725.5 603.5,724.5 603.5,723.5 603.5,722.5 604.5,721.5 604.5,720.5 604.5,719.5 604.5,718.5 604.5,717.5 604.5,716.5 605.5,716.5 605.5,715.5 605.5,714.5 605.5,713.5 605.5,712.5 605.5,711.5 606.5,710.5 606.5,709.5 606.5,708.5 606.5,707.5 606.5,706.5 606.5,705.5 607.5,704.5 607.5,703.5 607.5,702.5 607.5,701.5 607.5,700.5 608.5,699.5 608.5,698.5 608.5,697.5 608.5,696.5 608.5,695.5 608.5,694.5 609.5,693.5 609.5,692.5 609.5,691.5 609.5,690.5 610.5,689.5 610.5,688.5 610.5,687.5 610.5,686.5 610.5,685.5 611.5,684.5 611.5,683.5 611.5,682.5 611.5,681.5 612.5,680.5 612.5,679.5 612.5,678.5 612.5,677.5 613.5,676.5 613.5,675.5 613.5,674.5 613.5,673.5 613.5,672.5 614.5,671.5 614.5,670.5 614.5,669.5 614.5,668.5 615.5,667.5 615.5,666.5 615.5,665.5 615.5,664.5 616.5,663.5 616.5,662.5 616.5,661.5 616.5,660.5 617.5,659.5 617.5,658.5 617.5,657.5 617.5,656.5 618.5,655.5 618.5,654.5 618.5,653.5 618.5,652.5 619.5,651.5 619.5,650.5 619.5,649.5 619.5,648.5 620.5,647.5 620.5,646.5 620.5,644.5 621.5,643.5 621.5,642.5 621.5,641.5 621.5,640.5 622.5,639.5 622.5,638.5 622.5,637.5 623.5,636.5 623.5,635.5 623.5,633.5 624.5,632.5 624.5,631.5 624.5,630.5 625.5,629.5 625.5,628.5 625.5,626.5 626.5,625.5 626.5,624.5 626.5,623.5 627.5,622.5 627.5,620.5 627.5,619.5 628.5,618.5 628.5,617.5 628.5,615.5 629.5,614.5 629.5,613.5 630.5,611.5 630.5,610.5 630.5,609.5 631.5,608.5 631.5,606.5 632.5,605.5 632.5,603.5 633.5,602.5 633.5,601.5 633.5,599.5 634.5,598.5 634.5,597.5 635.5,595.5 635.5,594.5 636.5,592.5 636.5,591.5 637.5,589.5 637.5,588.5 638.5,586.5 638.5,585.5 639.5,583.5 639.5,582.5 640.5,580.5 640.5,579.5 641.5,577.5 641.5,576.5 642.5,574.5 642.5,573.5 643.5,571.5 643.5,569.5 644.5,568.5 644.5,566.5 645.5,564.5 645.5,563.5 646.5,561.5 646.5,559.5 647.5,558.5 648.5,556.5 648.5,554.5 649.5,553.5 649.5,551.5 650.5,549.5 651.5,547.5 651.5,545.5 652.5,544.5 653.5,542.5 653.5,540.5 654.5,538.5 655.5,536.5 655.5,534.5 656.5,532.5 657.5,530.5 657.5,528.5 658.5,526.5 659.5,524.5 660.5,522.5 660.5,520.5 661.5,518.5 662.5,516.5 663.5,514.5 663.5,512.5 664.5,509.5 665.5,507.5 666.5,505.5 667.5,503.5 667.5,501.5 668.5,498.5 669.5,496.5 670.5,494.5 671.5,491.5 672.5,489.5 673.5,486.5 674.5,484.5 675.5,481.5 676.5,479.5 677.5,476.5 678.5,474.5 679.5,471.5 680.5,469.5 681.5,466.5 682.5,463.5 683.5,460.5 684.5,458.5 685.5,455.5 686.5,452.5 688.5,449.5 689.5,446.5 690.5,443.5 691.5,440.5 692.5,437.5 694.5,434.5 695.5,431.5 696.5,427.5 698.5,424.5 699.5,421.5 700.5,417.5 702.5,414.5 703.5,411.5 705.5,407.5 706.5,404.5 708.5,400.5 709.5,396.5 711.5,393.5 712.5,389.5 714.5,385.5 715.5,381.5 717.5,377.5 719.5,373.5 721.5,369.5 722.5,365.5 724.5,360.5 726.5,356.5 728.5,352.5 730.5,347.5 732.5,342.5 734.5,338.5 736.5,333.5 738.5,328.5 741.5,323.5 743.5,318.5 745.5,312.5 748.5,307.5 750.5,301.5 753.5,296.5 755.5,290.5 758.5,284.5 761.5,278.5 763.5,272.5 766.5,265.5 769.5,259.5 772.5,252.5 775.5,245.5 778.5,238.5 781.5,231.5 784.5,224.5 788.5,216.5 791.5,209.5 794.5,201.5 798.5,192.5 801.5,184.5 805.5,175.5 809.5,166.5 813.5,157.5 817.5,148.5 821.5,138.5 825.5,128.5 829.5,117.5 833.5,106.5 838.5,95.5 842.5,83.5 847.5,71.5 851.5,59.5 854.5,50.5" fill="none" stroke="#000080" stroke-width="1" />
<line x1="-778" y1="800" x2="22" y2="0" stroke="#fff" stroke-width="1" />
<line x1="-718" y1="800" x2="82" y2="0" stroke="#fff" stroke-width="1" />
<line x1="-658" y1="800" x2="142" y2="0" stroke="#fff" stroke-width="1" />
<line x1="-598" y1="800" x2="202" y2="0" stroke="#fff" stroke-width="1" />
<line x1="-538" y1="800" x2="262" y2="0" stroke="#fff" stroke-width="1" />
<line x1="-478" y1="800" x2="322" y2="0" stroke="#fff" stroke-width="1" />
<line x1="-418" y1="800" x2="382" y2="0" stroke="#fff" stroke-width="1" />
<line x1="-358" y1="800" x2="442" y2="0" stroke="#fff" stroke-width="1" />
<line x1="-298" y1="800" x2="502" y2="0" stroke="#fff" stroke-width="1" />
<line x1="-238" y1="800" x2="562" y2="0" stroke="#fff" stroke-width="1" />
<line x1="-178" y1="800" x2="622" y2="0" stroke="#fff" stroke-width="1" />
<line x1="-118" y1="800" x2="682" y2="0" stroke="#fff" stroke-width="1" />
<line x1="-58" y1="800" x2="742" y2="0" stroke="#fff" stroke-width="1" />
<line x1="2" y1="800" x2="802" y2="0" stroke="#fff" stroke-width="1" />
<line x1="62" y1="800" x2="862" y2="0" stroke="#fff" stroke-width="1" />
<line x1="122" y1="800" x2="922" y2="0" stroke="#fff" stroke-width="1" />
<line x1="182" y1="800" x2="982" y2="0" stroke="#fff" stroke-width="1" />
<line x1="242" y1="800" x2="1042" y2="0" stroke="#fff" stroke-width="1" />
<line x1="302" y1="800" x2="1102" y2="0" stroke="#fff" stroke-width="1" />
<line x1="362" y1="800" x2="1162" y2="0" stroke="#fff" stroke-width="1" />
<line x1="422" y1="800" x2="1222" y2="0" stroke="#fff" stroke-width="1" />
<line x1="482" y1="800" x2="1282" y2="0" stroke="#fff" stroke-width="1" />
<line x1="542" y1="800" x2="1342" y2="0" stroke="#fff" stroke-width="1" />
<line x1="602" y1="800" x2="1402" y2="0" stroke="#fff" stroke-width="1" />
<line x1="662" y1="800" x2="1462" y2="0" stroke="#fff" stroke-width="1" />
<line x1="722" y1="800" x2="1522" y2="0" stroke="#fff" stroke-width="1" />
<line x1="782" y1="800" x2="1582" y2="0" stroke="#fff" stroke-width="1" />
</g>
<g shape-rendering="crispEdges">
<line x1="56" y1="50.5" x2="667" y2="50.5" stroke="#fff" stroke-width="1" />
<line x1="56" y1="321.5" x2="667" y2="321.5" stroke="#fff" stroke-width="1" />
<line x1="56" y1="449.5" x2="667" y2="449.5" stroke="#fff" stroke-width="1" />
<line x1="56" y1="529.5" x2="667" y2="529.5" stroke="#fff" stroke-width="1" />
<line x1="56" y1="586.5" x2="667" y2="586.5" stroke="#fff" stroke-width="1" />
<line x1="56" y1="630.5" x2="667" y2="630.5" stroke="#fff" stroke-width="1" />
<line x1="56" y1="665.5" x2="667" y2="665.5" stroke="#fff" stroke-width="1" />
<line x1="56" y1="694.5" x2="667" y2="694.5" stroke="#fff" stroke-width="1" />
<line x1="56" y1="718.5" x2="667" y2="718.5" stroke="#fff" stroke-width="1" />
<line x1="56" y1="740.5" x2="667" y2="740.5" stroke="#fff" stroke-width="1" />
<line x1="61.5" y1="50" x2="61.5" y2="753" stroke="#fff" stroke-width="1" />
<line x1="661.5" y1="50" x2="661.5" y2="750" stroke="#fff" stroke-width="1" />
<line x1="61" y1="749.5" x2="662" y2="749.5" stroke="#fff" stroke-width="1" />
</g>
<g clip-path="url(#pc)" shape-rendering="crispEdges">
<rect x="61" y="715" width="565" height="1" fill="#ff00ff"/>
<g shape-rendering="crispEdges">
<path d="M114 701.5 h5 M116.5 699 v5" stroke="#fff" stroke-width="1" fill="none"/>
<path d="M175 708.5 h5 M177.5 706 v5" stroke="#fff" stroke-width="1" fill="none"/>
<path d="M245 725.5 h5 M247.5 723 v5" stroke="#fff" stroke-width="1" fill="none"/>
<path d="M138 737.5 h5 M140.5 735 v5" stroke="#fff" stroke-width="1" fill="none"/>
<path d="M135 707.5 h5 M137.5 705 v5" stroke="#fff" stroke-width="1" fill="none"/>
<path d="M86 725.5 h5 M88.5 723 v5" stroke="#fff" stroke-width="1" fill="none"/>
<path d="M315 740.5 h5 M317.5 738 v5" stroke="#fff" stroke-width="1" fill="none"/>
<path d="M213 701.5 h5 M215.5 699 v5" stroke="#fff" stroke-width="1" fill="none"/>
<path d="M209 738.5 h5 M211.5 736 v5" stroke="#fff" stroke-width="1" fill="none"/>
<path d="M234 725.5 h5 M236.5 723 v5" stroke="#fff" stroke-width="1" fill="none"/>
<path d="M245 725.5 h5 M247.5 723 v5" stroke="#fff" stroke-width="1" fill="none"/>
<path d="M226 710.5 h5 M228.5 708 v5" stroke="#fff" stroke-width="1" fill="none"/>
<path d="M231 702.5 h5 M233.5 700 v5" stroke="#fff" stroke-width="1" fill="none"/>
<path d="M234 697.5 h5 M236.5 695 v5" stroke="#fff" stroke-width="1" fill="none"/>
<path d="M237 687.5 h5 M239.5 685 v5" stroke="#fff" stroke-width="1" fill="none"/>
<path d="M237 682.5 h5 M239.5 680 v5" stroke="#fff" stroke-width="1" fill="none"/>
<path d="M240 673.5 h5 M242.5 671 v5" stroke="#fff" stroke-width="1" fill="none"/>
<path d="M255 80.5 h5 M257.5 78 v5" stroke="#fff" stroke-width="1" fill="none"/>
<path d="M294 104.5 h5 M296.5 102 v5" stroke="#fff" stroke-width="1" fill="none"/>
<path d="M342 155.5 h5 M344.5 153 v5" stroke="#fff" stroke-width="1" fill="none"/>
<path d="M387 191.5 h5 M389.5 189 v5" stroke="#fff" stroke-width="1" fill="none"/>
<path d="M425 218.5 h5 M427.5 216 v5" stroke="#fff" stroke-width="1" fill="none"/>
<path d="M409 243.5 h5 M411.5 241 v5" stroke="#fff" stroke-width="1" fill="none"/>
<path d="M399 253.5 h5 M401.5 251 v5" stroke="#fff" stroke-width="1" fill="none"/>
<path d="M380 270.5 h5 M382.5 268 v5" stroke="#fff" stroke-width="1" fill="none"/>
<path d="M381 274.5 h5 M383.5 272 v5" stroke="#fff" stroke-width="1" fill="none"/>
<path d="M398 313.5 h5 M400.5 311 v5" stroke="#fff" stroke-width="1" fill="none"/>
<path d="M388 321.5 h5 M390.5 319 v5" stroke="#fff" stroke-width="1" fill="none"/>
<path d="M397 348.5 h5 M399.5 346 v5" stroke="#fff" stroke-width="1" fill="none"/>
<path d="M403 367.5 h5 M405.5 365 v5" stroke="#fff" stroke-width="1" fill="none"/>
<path d="M405 379.5 h5 M407.5 377 v5" stroke="#fff" stroke-width="1" fill="none"/>
<path d="M391 389.5 h5 M393.5 387 v5" stroke="#fff" stroke-width="1" fill="none"/>
<path d="M384 394.5 h5 M386.5 392 v5" stroke="#fff" stroke-width="1" fill="none"/>
<path d="M371 406.5 h5 M373.5 404 v5" stroke="#fff" stroke-width="1" fill="none"/>
<path d="M359 415.5 h5 M361.5 413 v5" stroke="#fff" stroke-width="1" fill="none"/>
<path d="M346 426.5 h5 M348.5 424 v5" stroke="#fff" stroke-width="1" fill="none"/>
<path d="M346 428.5 h5 M348.5 426 v5" stroke="#fff" stroke-width="1" fill="none"/>
<path d="M339 432.5 h5 M341.5 430 v5" stroke="#fff" stroke-width="1" fill="none"/>
<path d="M339 435.5 h5 M341.5 433 v5" stroke="#fff" stroke-width="1" fill="none"/>
<path d="M320 449.5 h5 M322.5 447 v5" stroke="#fff" stroke-width="1" fill="none"/>
<path d="M319 459.5 h5 M321.5 457 v5" stroke="#fff" stroke-width="1" fill="none"/>
<path d="M313 465.5 h5 M315.5 463 v5" stroke="#fff" stroke-width="1" fill="none"/>
<path d="M306 469.5 h5 M308.5 467 v5" stroke="#fff" stroke-width="1" fill="none"/>
<path d="M301 471.5 h5 M303.5 469 v5" stroke="#fff" stroke-width="1" fill="none"/>
<path d="M295 475.5 h5 M297.5 473 v5" stroke="#fff" stroke-width="1" fill="none"/>
<path d="M272 483.5 h5 M274.5 481 v5" stroke="#fff" stroke-width="1" fill="none"/>
<path d="M249 493.5 h5 M251.5 491 v5" stroke="#fff" stroke-width="1" fill="none"/>
<path d="M214 506.5 h5 M216.5 504 v5" stroke="#fff" stroke-width="1" fill="none"/>
<path d="M201 524.5 h5 M203.5 522 v5" stroke="#fff" stroke-width="1" fill="none"/>
<path d="M158 586.5 h5 M160.5 584 v5" stroke="#fff" stroke-width="1" fill="none"/>
<path d="M119 619.5 h5 M121.5 617 v5" stroke="#fff" stroke-width="1" fill="none"/>
<path d="M94 628.5 h5 M96.5 626 v5" stroke="#fff" stroke-width="1" fill="none"/>
<path d="M100 631.5 h5 M102.5 629 v5" stroke="#fff" stroke-width="1" fill="none"/>
<path d="M98 659.5 h5 M100.5 657 v5" stroke="#fff" stroke-width="1" fill="none"/>
<path d="M101 665.5 h5 M103.5 663 v5" stroke="#fff" stroke-width="1" fill="none"/>
<path d="M84 670.5 h5 M86.5 668 v5" stroke="#fff" stroke-width="1" fill="none"/>
<path d="M75 672.5 h5 M77.5 670 v5" stroke="#fff" stroke-width="1" fill="none"/>
<path d="M72 682.5 h5 M74.5 680 v5" stroke="#fff" stroke-width="1" fill="none"/>
<path d="M77 687.5 h5 M79.5 685 v5" stroke="#fff" stroke-width="1" fill="none"/>
<path d="M82 691.5 h5 M84.5 689 v5" stroke="#fff" stroke-width="1" fill="none"/>
<path d="M85 696.5 h5 M87.5 694 v5" stroke="#fff" stroke-width="1" fill="none"/>
<path d="M92 701.5 h5 M94.5 699 v5" stroke="#fff" stroke-width="1" fill="none"/>
<path d="M99 707.5 h5 M101.5 705 v5" stroke="#fff" stroke-width="1" fill="none"/>
<path d="M103 710.5 h5 M105.5 708 v5" stroke="#fff" stroke-width="1" fill="none"/>
<path d="M136 725.5 h5 M138.5 723 v5" stroke="#fff" stroke-width="1" fill="none"/>
<path d="M116 740.5 h5 M118.5 738 v5" stroke="#fff" stroke-width="1" fill="none"/>
<path d="M287 80.5 h5 M289.5 78 v5" stroke="#fff" stroke-width="1" fill="none"/>
<path d="M335 104.5 h5 M337.5 102 v5" stroke="#fff" stroke-width="1" fill="none"/>
<path d="M377 155.5 h5 M379.5 153 v5" stroke="#fff" stroke-width="1" fill="none"/>
<path d="M425 190.5 h5 M427.5 188 v5" stroke="#fff" stroke-width="1" fill="none"/>
<path d="M437 197.5 h5 M439.5 195 v5" stroke="#fff" stroke-width="1" fill="none"/>
<path d="M467 218.5 h5 M469.5 216 v5" stroke="#fff" stroke-width="1" fill="none"/>
<path d="M443 243.5 h5 M445.5 241 v5" stroke="#fff" stroke-width="1" fill="none"/>
<path d="M431 253.5 h5 M433.5 251 v5" stroke="#fff" stroke-width="1" fill="none"/>
<path d="M419 269.5 h5 M421.5 267 v5" stroke="#fff" stroke-width="1" fill="none"/>
<path d="M437 314.5 h5 M439.5 312 v5" stroke="#fff" stroke-width="1" fill="none"/>
<path d="M426 321.5 h5 M428.5 319 v5" stroke="#fff" stroke-width="1" fill="none"/>
<path d="M430 348.5 h5 M432.5 346 v5" stroke="#fff" stroke-width="1" fill="none"/>
<path d="M437 367.5 h5 M439.5 365 v5" stroke="#fff" stroke-width="1" fill="none"/>
<path d="M437 379.5 h5 M439.5 377 v5" stroke="#fff" stroke-width="1" fill="none"/>
<path d="M426 390.5 h5 M428.5 388 v5" stroke="#fff" stroke-width="1" fill="none"/>
<path d="M419 394.5 h5 M421.5 392 v5" stroke="#fff" stroke-width="1" fill="none"/>
<path d="M407 406.5 h5 M409.5 404 v5" stroke="#fff" stroke-width="1" fill="none"/>
<path d="M396 415.5 h5 M398.5 413 v5" stroke="#fff" stroke-width="1" fill="none"/>
<path d="M383 426.5 h5 M385.5 424 v5" stroke="#fff" stroke-width="1" fill="none"/>
<path d="M383 428.5 h5 M385.5 426 v5" stroke="#fff" stroke-width="1" fill="none"/>
<path d="M377 432.5 h5 M379.5 430 v5" stroke="#fff" stroke-width="1" fill="none"/>
<path d="M377 435.5 h5 M379.5 433 v5" stroke="#fff" stroke-width="1" fill="none"/>
<path d="M359 449.5 h5 M361.5 447 v5" stroke="#fff" stroke-width="1" fill="none"/>
<path d="M359 459.5 h5 M361.5 457 v5" stroke="#fff" stroke-width="1" fill="none"/>
<path d="M353 462.5 h5 M355.5 460 v5" stroke="#fff" stroke-width="1" fill="none"/>
<path d="M347 469.5 h5 M349.5 467 v5" stroke="#fff" stroke-width="1" fill="none"/>
<path d="M341 471.5 h5 M343.5 469 v5" stroke="#fff" stroke-width="1" fill="none"/>
<path d="M335 475.5 h5 M337.5 473 v5" stroke="#fff" stroke-width="1" fill="none"/>
<path d="M311 483.5 h5 M313.5 481 v5" stroke="#fff" stroke-width="1" fill="none"/>
<path d="M287 493.5 h5 M289.5 491 v5" stroke="#fff" stroke-width="1" fill="none"/>
<path d="M250 506.5 h5 M252.5 504 v5" stroke="#fff" stroke-width="1" fill="none"/>
<path d="M239 524.5 h5 M241.5 522 v5" stroke="#fff" stroke-width="1" fill="none"/>
<path d="M196 587.5 h5 M198.5 585 v5" stroke="#fff" stroke-width="1" fill="none"/>
<path d="M155 620.5 h5 M157.5 618 v5" stroke="#fff" stroke-width="1" fill="none"/>
<path d="M138 628.5 h5 M140.5 626 v5" stroke="#fff" stroke-width="1" fill="none"/>
<path d="M143 632.5 h5 M145.5 630 v5" stroke="#fff" stroke-width="1" fill="none"/>
<path d="M143 637.5 h5 M145.5 635 v5" stroke="#fff" stroke-width="1" fill="none"/>
<path d="M149 642.5 h5 M151.5 640 v5" stroke="#fff" stroke-width="1" fill="none"/>
<path d="M119 659.5 h5 M121.5 657 v5" stroke="#fff" stroke-width="1" fill="none"/>
<path d="M136 665.5 h5 M138.5 663 v5" stroke="#fff" stroke-width="1" fill="none"/>
<path d="M126 671.5 h5 M128.5 669 v5" stroke="#fff" stroke-width="1" fill="none"/>
<path d="M119 673.5 h5 M121.5 671 v5" stroke="#fff" stroke-width="1" fill="none"/>
<path d="M108 682.5 h5 M110.5 680 v5" stroke="#fff" stroke-width="1" fill="none"/>
<path d="M94 687.5 h5 M96.5 685 v5" stroke="#fff" stroke-width="1" fill="none"/>
<path d="M89 691.5 h5 M91.5 689 v5" stroke="#fff" stroke-width="1" fill="none"/>
<path d="M86 695.5 h5 M88.5 693 v5" stroke="#fff" stroke-width="1" fill="none"/>
<path d="M78 701.5 h5 M80.5 699 v5" stroke="#fff" stroke-width="1" fill="none"/>
<path d="M65 707.5 h5 M67.5 705 v5" stroke="#fff" stroke-width="1" fill="none"/>
<path d="M94 725.5 h5 M96.5 723 v5" stroke="#fff" stroke-width="1" fill="none"/>
<path d="M83 737.5 h5 M85.5 735 v5" stroke="#fff" stroke-width="1" fill="none"/>
<path d="M77 740.5 h5 M79.5 738 v5" stroke="#fff" stroke-width="1" fill="none"/>
<path d="M507 80.5 h5 M509.5 78 v5" stroke="#fff" stroke-width="1" fill="none"/>
<path d="M487 104.5 h5 M489.5 102 v5" stroke="#fff" stroke-width="1" fill="none"/>
<path d="M444 155.5 h5 M446.5 153 v5" stroke="#fff" stroke-width="1" fill="none"/>
<path d="M414 190.5 h5 M416.5 188 v5" stroke="#fff" stroke-width="1" fill="none"/>
<path d="M399 197.5 h5 M401.5 195 v5" stroke="#fff" stroke-width="1" fill="none"/>
<path d="M395 218.5 h5 M397.5 216 v5" stroke="#fff" stroke-width="1" fill="none"/>
<path d="M412 243.5 h5 M414.5 241 v5" stroke="#fff" stroke-width="1" fill="none"/>
<path d="M409 253.5 h5 M411.5 251 v5" stroke="#fff" stroke-width="1" fill="none"/>
<path d="M402 270.5 h5 M404.5 268 v5" stroke="#fff" stroke-width="1" fill="none"/>
<path d="M407 273.5 h5 M409.5 271 v5" stroke="#fff" stroke-width="1" fill="none"/>
<path d="M396 313.5 h5 M398.5 311 v5" stroke="#fff" stroke-width="1" fill="none"/>
<path d="M363 348.5 h5 M365.5 346 v5" stroke="#fff" stroke-width="1" fill="none"/>
<path d="M383 367.5 h5 M385.5 365 v5" stroke="#fff" stroke-width="1" fill="none"/>
<path d="M372 379.5 h5 M374.5 377 v5" stroke="#fff" stroke-width="1" fill="none"/>
<path d="M363 389.5 h5 M365.5 387 v5" stroke="#fff" stroke-width="1" fill="none"/>
<path d="M367 394.5 h5 M369.5 392 v5" stroke="#fff" stroke-width="1" fill="none"/>
<path d="M356 406.5 h5 M358.5 404 v5" stroke="#fff" stroke-width="1" fill="none"/>
<path d="M403 416.5 h5 M405.5 414 v5" stroke="#fff" stroke-width="1" fill="none"/>
<path d="M398 426.5 h5 M400.5 424 v5" stroke="#fff" stroke-width="1" fill="none"/>
<path d="M414 429.5 h5 M416.5 427 v5" stroke="#fff" stroke-width="1" fill="none"/>
<path d="M366 431.5 h5 M368.5 429 v5" stroke="#fff" stroke-width="1" fill="none"/>
<path d="M349 435.5 h5 M351.5 433 v5" stroke="#fff" stroke-width="1" fill="none"/>
<path d="M340 449.5 h5 M342.5 447 v5" stroke="#fff" stroke-width="1" fill="none"/>
<path d="M374 449.5 h5 M376.5 447 v5" stroke="#fff" stroke-width="1" fill="none"/>
<path d="M343 459.5 h5 M345.5 457 v5" stroke="#fff" stroke-width="1" fill="none"/>
<path d="M376 462.5 h5 M378.5 460 v5" stroke="#fff" stroke-width="1" fill="none"/>
<path d="M333 465.5 h5 M335.5 463 v5" stroke="#fff" stroke-width="1" fill="none"/>
<path d="M383 469.5 h5 M385.5 467 v5" stroke="#fff" stroke-width="1" fill="none"/>
<path d="M334 470.5 h5 M336.5 468 v5" stroke="#fff" stroke-width="1" fill="none"/>
<path d="M375 471.5 h5 M377.5 469 v5" stroke="#fff" stroke-width="1" fill="none"/>
<path d="M363 475.5 h5 M365.5 473 v5" stroke="#fff" stroke-width="1" fill="none"/>
<path d="M408 483.5 h5 M410.5 481 v5" stroke="#fff" stroke-width="1" fill="none"/>
<path d="M250 492.5 h5 M252.5 490 v5" stroke="#fff" stroke-width="1" fill="none"/>
<path d="M247 506.5 h5 M249.5 504 v5" stroke="#fff" stroke-width="1" fill="none"/>
<path d="M249 508.5 h5 M251.5 506 v5" stroke="#fff" stroke-width="1" fill="none"/>
<path d="M260 524.5 h5 M262.5 522 v5" stroke="#fff" stroke-width="1" fill="none"/>
<path d="M239 528.5 h5 M241.5 526 v5" stroke="#fff" stroke-width="1" fill="none"/>
<path d="M204 620.5 h5 M206.5 618 v5" stroke="#fff" stroke-width="1" fill="none"/>
<path d="M198 628.5 h5 M200.5 626 v5" stroke="#fff" stroke-width="1" fill="none"/>
<path d="M388 638.5 h5 M390.5 636 v5" stroke="#fff" stroke-width="1" fill="none"/>
<path d="M405 641.5 h5 M407.5 639 v5" stroke="#fff" stroke-width="1" fill="none"/>
<path d="M409 645.5 h5 M411.5 643 v5" stroke="#fff" stroke-width="1" fill="none"/>
<path d="M414 651.5 h5 M416.5 649 v5" stroke="#fff" stroke-width="1" fill="none"/>
<path d="M423 659.5 h5 M425.5 657 v5" stroke="#fff" stroke-width="1" fill="none"/>
<path d="M428 665.5 h5 M430.5 663 v5" stroke="#fff" stroke-width="1" fill="none"/>
<path d="M440 670.5 h5 M442.5 668 v5" stroke="#fff" stroke-width="1" fill="none"/>
<path d="M435 673.5 h5 M437.5 671 v5" stroke="#fff" stroke-width="1" fill="none"/>
<path d="M415 682.5 h5 M417.5 680 v5" stroke="#fff" stroke-width="1" fill="none"/>
<path d="M447 687.5 h5 M449.5 685 v5" stroke="#fff" stroke-width="1" fill="none"/>
<path d="M407 691.5 h5 M409.5 689 v5" stroke="#fff" stroke-width="1" fill="none"/>
<path d="M451 697.5 h5 M453.5 695 v5" stroke="#fff" stroke-width="1" fill="none"/>
<path d="M474 701.5 h5 M476.5 699 v5" stroke="#fff" stroke-width="1" fill="none"/>
<path d="M478 725.5 h5 M480.5 723 v5" stroke="#fff" stroke-width="1" fill="none"/>
<path d="M470 738.5 h5 M472.5 736 v5" stroke="#fff" stroke-width="1" fill="none"/>
<path d="M655 80.5 h5 M657.5 78 v5" stroke="#fff" stroke-width="1" fill="none"/>
<path d="M633 104.5 h5 M635.5 102 v5" stroke="#fff" stroke-width="1" fill="none"/>
<path d="M586 155.5 h5 M588.5 153 v5" stroke="#fff" stroke-width="1" fill="none"/>
<path d="M552 191.5 h5 M554.5 189 v5" stroke="#fff" stroke-width="1" fill="none"/>
<path d="M544 197.5 h5 M546.5 195 v5" stroke="#fff" stroke-width="1" fill="none"/>
<path d="M520 218.5 h5 M522.5 216 v5" stroke="#fff" stroke-width="1" fill="none"/>
<path d="M473 243.5 h5 M475.5 241 v5" stroke="#fff" stroke-width="1" fill="none"/>
<path d="M466 253.5 h5 M468.5 251 v5" stroke="#fff" stroke-width="1" fill="none"/>
<path d="M450 270.5 h5 M452.5 268 v5" stroke="#fff" stroke-width="1" fill="none"/>
<path d="M437 313.5 h5 M439.5 311 v5" stroke="#fff" stroke-width="1" fill="none"/>
<path d="M430 348.5 h5 M432.5 346 v5" stroke="#fff" stroke-width="1" fill="none"/>
<path d="M425 367.5 h5 M427.5 365 v5" stroke="#fff" stroke-width="1" fill="none"/>
<path d="M428 379.5 h5 M430.5 377 v5" stroke="#fff" stroke-width="1" fill="none"/>
<path d="M426 390.5 h5 M428.5 388 v5" stroke="#fff" stroke-width="1" fill="none"/>
<path d="M428 406.5 h5 M430.5 404 v5" stroke="#fff" stroke-width="1" fill="none"/>
<path d="M427 416.5 h5 M429.5 414 v5" stroke="#fff" stroke-width="1" fill="none"/>
<path d="M427 425.5 h5 M429.5 423 v5" stroke="#fff" stroke-width="1" fill="none"/>
<path d="M427 430.5 h5 M429.5 428 v5" stroke="#fff" stroke-width="1" fill="none"/>
<path d="M426 457.5 h5 M428.5 455 v5" stroke="#fff" stroke-width="1" fill="none"/>
<path d="M428 464.5 h5 M430.5 462 v5" stroke="#fff" stroke-width="1" fill="none"/>
<path d="M428 469.5 h5 M430.5 467 v5" stroke="#fff" stroke-width="1" fill="none"/>
<path d="M428 475.5 h5 M430.5 473 v5" stroke="#fff" stroke-width="1" fill="none"/>
<path d="M429 483.5 h5 M431.5 481 v5" stroke="#fff" stroke-width="1" fill="none"/>
<path d="M430 493.5 h5 M432.5 491 v5" stroke="#fff" stroke-width="1" fill="none"/>
<path d="M431 506.5 h5 M433.5 504 v5" stroke="#fff" stroke-width="1" fill="none"/>
<path d="M433 524.5 h5 M435.5 522 v5" stroke="#fff" stroke-width="1" fill="none"/>
<path d="M478 620.5 h5 M480.5 618 v5" stroke="#fff" stroke-width="1" fill="none"/>
<path d="M481 628.5 h5 M483.5 626 v5" stroke="#fff" stroke-width="1" fill="none"/>
<path d="M485 632.5 h5 M487.5 630 v5" stroke="#fff" stroke-width="1" fill="none"/>
<path d="M460 637.5 h5 M462.5 635 v5" stroke="#fff" stroke-width="1" fill="none"/>
<path d="M461 642.5 h5 M463.5 640 v5" stroke="#fff" stroke-width="1" fill="none"/>
<path d="M465 651.5 h5 M467.5 649 v5" stroke="#fff" stroke-width="1" fill="none"/>
<path d="M471 659.5 h5 M473.5 657 v5" stroke="#fff" stroke-width="1" fill="none"/>
<path d="M476 672.5 h5 M478.5 670 v5" stroke="#fff" stroke-width="1" fill="none"/>
<path d="M487 682.5 h5 M489.5 680 v5" stroke="#fff" stroke-width="1" fill="none"/>
<path d="M489 687.5 h5 M491.5 685 v5" stroke="#fff" stroke-width="1" fill="none"/>
<path d="M492 691.5 h5 M494.5 689 v5" stroke="#fff" stroke-width="1" fill="none"/>
<path d="M479 697.5 h5 M481.5 695 v5" stroke="#fff" stroke-width="1" fill="none"/>
<path d="M483 709.5 h5 M485.5 707 v5" stroke="#fff" stroke-width="1" fill="none"/>
<path d="M516 737.5 h5 M518.5 735 v5" stroke="#fff" stroke-width="1" fill="none"/>
<path d="M507 740.5 h5 M509.5 738 v5" stroke="#fff" stroke-width="1" fill="none"/>
</g>
<polyline points="82.5,698.5 117.5,698.5 158.5,700.5 196.5,701.5 215.5,701.5" fill="none" stroke="#e07000" stroke-width="1" />
<polyline points="215.5,701.5 196.5,702.5 158.5,705.5 137.5,707.5 111.5,718.5 100.5,721.5 88.5,725.5 100.5,726.5 146.5,731.5 193.5,735.5 217.5,737.5 260.5,738.5 268.5,739.5 317.5,740.5" fill="none" stroke="#e07000" stroke-width="1" />
<polyline points="61.5,697.5 100.5,700.5 116.5,701.5 151.5,705.5 177.5,708.5 199.5,714.5 234.5,722.5 247.5,725.5 228.5,727.5 182.5,733.5 140.5,737.5 128.5,739.5" fill="none" stroke="#ffff00" stroke-width="1" />
<polyline points="211.5,738.5 236.5,725.5 247.5,725.5 235.5,722.5 232.5,716.5 228.5,710.5 229.5,708.5 233.5,702.5 236.5,697.5 237.5,692.5 239.5,687.5 239.5,682.5 242.5,673.5 241.5,670.5 238.5,666.5" fill="none" stroke="#c8c800" stroke-width="1" />
<polyline points="471.5,50.5 462.5,82.5 451.5,125.5 443.5,162.5 436.5,202.5 433.5,242.5 430.5,271.5 431.5,282.5 431.5,321.5 433.5,341.5 436.5,368.5 440.5,391.5 442.5,400.5 445.5,415.5 451.5,441.5 455.5,465.5 459.5,480.5 461.5,493.5 464.5,508.5 467.5,517.5 471.5,542.5 474.5,568.5 478.5,590.5 480.5,617.5 482.5,632.5 483.5,658.5 485.5,688.5 486.5,705.5 501.5,719.5 535.5,740.5" fill="none" stroke="#ffb4ff" stroke-width="1" />
<polyline points="463.5,50.5 453.5,87.5 443.5,116.5 432.5,160.5 426.5,202.5 422.5,228.5 421.5,260.5 421.5,294.5 422.5,321.5 424.5,345.5 427.5,368.5 430.5,391.5 431.5,402.5 436.5,425.5 442.5,449.5 448.5,474.5 453.5,496.5 457.5,515.5 459.5,526.5 463.5,542.5 467.5,565.5 470.5,585.5 473.5,606.5 475.5,630.5 476.5,649.5 478.5,665.5 480.5,682.5 481.5,701.5 482.5,715.5 520.5,740.5" fill="none" stroke="#ff00ff" stroke-width="1" />
<line x1="469.8" y1="740.6" x2="482.5" y2="715.1" stroke="#ff00ff" stroke-width="1" />
<polyline points="252.5,50.5 257.5,80.5 296.5,104.5 344.5,155.5 389.5,191.5 401.5,197.5 427.5,218.5 411.5,243.5 401.5,253.5 382.5,270.5 383.5,274.5 400.5,313.5 390.5,321.5 399.5,348.5 405.5,367.5 407.5,379.5 393.5,389.5 386.5,394.5 373.5,406.5 361.5,415.5 348.5,426.5 348.5,428.5 341.5,432.5 341.5,435.5 322.5,449.5 321.5,459.5 315.5,465.5 308.5,469.5 303.5,471.5 297.5,475.5 274.5,483.5 251.5,493.5 216.5,506.5 203.5,524.5 197.5,529.5 160.5,586.5 121.5,619.5 96.5,628.5 102.5,631.5 105.5,650.5 100.5,659.5 103.5,665.5 86.5,670.5 77.5,672.5 74.5,682.5 79.5,687.5 84.5,691.5 87.5,696.5 94.5,701.5 101.5,707.5 105.5,710.5 115.5,715.5 138.5,725.5 126.5,737.5 118.5,740.5" fill="none" stroke="#ff0080" stroke-width="1" />
<polyline points="283.5,50.5 289.5,80.5 337.5,104.5 379.5,155.5 427.5,190.5 439.5,197.5 469.5,218.5 445.5,243.5 433.5,253.5 421.5,269.5 430.5,296.5 437.5,311.5 439.5,314.5 428.5,321.5 432.5,348.5 439.5,367.5 439.5,379.5 428.5,390.5 421.5,394.5 409.5,406.5 398.5,415.5 385.5,426.5 385.5,428.5 379.5,432.5 379.5,435.5 361.5,449.5 361.5,459.5 355.5,462.5 354.5,468.5 349.5,469.5 343.5,471.5 337.5,475.5 313.5,483.5 289.5,493.5 252.5,506.5 241.5,524.5 198.5,587.5 157.5,620.5 140.5,628.5 145.5,632.5 145.5,637.5 151.5,642.5 151.5,646.5 122.5,650.5 121.5,659.5 138.5,665.5 128.5,671.5 121.5,673.5 110.5,682.5 96.5,687.5 91.5,691.5 88.5,695.5 80.5,701.5 67.5,707.5 62.5,710.5 83.5,719.5 96.5,725.5 85.5,737.5 79.5,740.5" fill="none" stroke="#00ff00" stroke-width="1" />
<polyline points="534.5,50.5 509.5,80.5 489.5,104.5 446.5,155.5 421.5,186.5 416.5,190.5 401.5,197.5 397.5,218.5 414.5,243.5 411.5,253.5 404.5,270.5 409.5,273.5 398.5,313.5 396.5,314.5 390.5,321.5 365.5,348.5 385.5,367.5 374.5,379.5 365.5,389.5 369.5,394.5 358.5,406.5 405.5,416.5 400.5,426.5 416.5,429.5 368.5,431.5 351.5,435.5 342.5,449.5 376.5,449.5 345.5,459.5 378.5,462.5 335.5,465.5 385.5,469.5 336.5,470.5 377.5,471.5 365.5,475.5 410.5,483.5 252.5,492.5 249.5,506.5 251.5,508.5 262.5,524.5 241.5,528.5 224.5,587.5 206.5,620.5 200.5,628.5 200.5,631.5 240.5,633.5 310.5,636.5 375.5,637.5 390.5,638.5 407.5,641.5 411.5,645.5 416.5,651.5 425.5,659.5 430.5,665.5 442.5,670.5 437.5,673.5 417.5,682.5 449.5,687.5 409.5,691.5 453.5,697.5 476.5,701.5 480.5,703.5 483.5,709.5 480.5,725.5 472.5,738.5 473.5,740.5" fill="none" stroke="#00ffff" stroke-width="1" />
<polyline points="668.5,69.5 661.5,76.5 657.5,80.5 635.5,104.5 588.5,155.5 554.5,191.5 546.5,197.5 522.5,218.5 475.5,243.5 468.5,253.5 452.5,270.5 439.5,313.5 434.5,321.5 432.5,348.5 427.5,367.5 430.5,379.5 428.5,390.5 430.5,406.5 429.5,416.5 429.5,425.5 429.5,430.5 430.5,449.5 428.5,457.5 430.5,464.5 430.5,469.5 430.5,475.5 431.5,483.5 432.5,493.5 433.5,506.5 435.5,524.5 439.5,530.5 461.5,580.5 471.5,600.5 480.5,620.5 483.5,628.5 487.5,632.5 475.5,635.5 462.5,637.5 463.5,642.5 467.5,651.5 473.5,659.5 478.5,665.5 478.5,672.5 489.5,682.5 491.5,687.5 494.5,691.5 486.5,694.5 481.5,697.5 482.5,704.5 485.5,709.5 501.5,719.5 518.5,737.5 509.5,740.5" fill="none" stroke="#ff0000" stroke-width="1" />
<rect x="235" y="663" width="7" height="7" fill="#c8c800"/>
<text x="238.5" y="670" fill="#1a1a00" font-size="9" text-anchor="middle" font-weight="normal" >3</text>
<rect x="234" y="689" width="7" height="7" fill="#c8c800"/>
<text x="237.5" y="696" fill="#1a1a00" font-size="9" text-anchor="middle" font-weight="normal" >2</text>
<rect x="229" y="713" width="7" height="7" fill="#c8c800"/>
<text x="232.5" y="720" fill="#1a1a00" font-size="9" text-anchor="middle" font-weight="normal" >1</text>
</g>
<rect x="67.5" y="607.5" width="43" height="17" fill="#000" stroke="#ffff00" stroke-width="1"/>
<text x="71" y="621" fill="#ffff00" font-size="13" text-anchor="start" font-weight="normal" >CAPE</text>
<rect x="67.5" y="636.5" width="57" height="17" fill="#000" stroke="#d86c00" stroke-width="1"/>
<text x="71" y="650" fill="#d86c00" font-size="13" text-anchor="start" font-weight="normal" >CINH * 5</text>
<rect x="625.5" y="706.5" width="30" height="17" fill="#000" stroke="#ff00ff" stroke-width="1.2"/>
<text x="629" y="720" fill="#ff00ff" font-size="13" text-anchor="start" font-weight="normal" >LCL</text>
<g stroke="#fff" stroke-width="1" fill="none" shape-rendering="crispEdges">
<line x1="761" y1="80.2" x2="733.8" y2="90.3" stroke="#fff" stroke-width="1" />
<line x1="826" y1="80.2" x2="801.1" y2="93.7" stroke="#fff" stroke-width="1" />
<line x1="761" y1="104.4" x2="732" y2="104.4" stroke="#fff" stroke-width="1" />
<line x1="826" y1="104.4" x2="797" y2="106.7" stroke="#fff" stroke-width="1" />
<line x1="761" y1="155.3" x2="733.2" y2="163.5" stroke="#fff" stroke-width="1" />
<line x1="826" y1="155.3" x2="799.1" y2="165.4" stroke="#fff" stroke-width="1" />
<line x1="761" y1="191.4" x2="732" y2="195.5" stroke="#fff" stroke-width="1" />
<line x1="826" y1="191.4" x2="797" y2="196.4" stroke="#fff" stroke-width="1" />
<line x1="761" y1="197.3" x2="732" y2="200.5" stroke="#fff" stroke-width="1" />
<line x1="826" y1="197.3" x2="797" y2="201.5" stroke="#fff" stroke-width="1" />
<line x1="761" y1="218.3" x2="732" y2="218.3" stroke="#fff" stroke-width="1" />
<line x1="826" y1="218.3" x2="797" y2="219.5" stroke="#fff" stroke-width="1" />
<line x1="761" y1="244.4" x2="733.2" y2="252.2" stroke="#fff" stroke-width="1" />
<line x1="826" y1="244.4" x2="799.2" y2="254.5" stroke="#fff" stroke-width="1" />
<line x1="761" y1="253.2" x2="734.1" y2="263.3" stroke="#fff" stroke-width="1" />
<line x1="826" y1="253.2" x2="800.1" y2="266.7" stroke="#fff" stroke-width="1" />
<line x1="761" y1="270.3" x2="732" y2="273.4" stroke="#fff" stroke-width="1" />
<line x1="826" y1="270.3" x2="797" y2="274.4" stroke="#fff" stroke-width="1" />
<line x1="761" y1="274.3" x2="732" y2="277.5" stroke="#fff" stroke-width="1" />
<line x1="826" y1="274.3" x2="797" y2="278.5" stroke="#fff" stroke-width="1" />
<line x1="761" y1="314.5" x2="732" y2="317.7" stroke="#fff" stroke-width="1" />
<line x1="826" y1="314.5" x2="797" y2="318.7" stroke="#fff" stroke-width="1" />
<line x1="761" y1="321.5" x2="732" y2="324.6" stroke="#fff" stroke-width="1" />
<line x1="826" y1="321.5" x2="797" y2="325.6" stroke="#fff" stroke-width="1" />
<line x1="761" y1="348.4" x2="733.2" y2="354.5" stroke="#fff" stroke-width="1" />
<line x1="826" y1="348.4" x2="798.2" y2="356.6" stroke="#fff" stroke-width="1" />
<line x1="761" y1="367.5" x2="733.2" y2="376.4" stroke="#fff" stroke-width="1" />
<line x1="826" y1="367.5" x2="799.2" y2="378.5" stroke="#fff" stroke-width="1" />
<line x1="761" y1="379.3" x2="734.1" y2="389.6" stroke="#fff" stroke-width="1" />
<line x1="826" y1="379.3" x2="800.1" y2="392.8" stroke="#fff" stroke-width="1" />
<line x1="761" y1="390.5" x2="733.2" y2="398.2" stroke="#fff" stroke-width="1" />
<line x1="826" y1="390.5" x2="799.2" y2="400.6" stroke="#fff" stroke-width="1" />
<line x1="761" y1="394.4" x2="733.2" y2="402.3" stroke="#fff" stroke-width="1" />
<line x1="826" y1="394.4" x2="799.2" y2="404.5" stroke="#fff" stroke-width="1" />
<line x1="761" y1="406.4" x2="733.2" y2="413.6" stroke="#fff" stroke-width="1" />
<line x1="826" y1="406.4" x2="798.2" y2="415.5" stroke="#fff" stroke-width="1" />
<line x1="761" y1="416.3" x2="733.2" y2="422.6" stroke="#fff" stroke-width="1" />
<line x1="826" y1="416.3" x2="798.2" y2="424.5" stroke="#fff" stroke-width="1" />
<line x1="761" y1="426.2" x2="732" y2="431.5" stroke="#fff" stroke-width="1" />
<line x1="826" y1="426.2" x2="798" y2="433" stroke="#fff" stroke-width="1" />
<line x1="761" y1="429" x2="732" y2="434.4" stroke="#fff" stroke-width="1" />
<line x1="826" y1="429" x2="798" y2="436" stroke="#fff" stroke-width="1" />
<line x1="761" y1="432.1" x2="732" y2="436.9" stroke="#fff" stroke-width="1" />
<line x1="826" y1="432.1" x2="798" y2="438.5" stroke="#fff" stroke-width="1" />
<line x1="761" y1="435" x2="732" y2="439.7" stroke="#fff" stroke-width="1" />
<line x1="826" y1="435" x2="798" y2="441.5" stroke="#fff" stroke-width="1" />
<line x1="761" y1="449.5" x2="732" y2="452.9" stroke="#fff" stroke-width="1" />
<line x1="826" y1="449.5" x2="797" y2="454.5" stroke="#fff" stroke-width="1" />
<line x1="761" y1="450.5" x2="732" y2="453.9" stroke="#fff" stroke-width="1" />
<line x1="826" y1="450.5" x2="797" y2="455.5" stroke="#fff" stroke-width="1" />
<line x1="761" y1="458.4" x2="732" y2="460.3" stroke="#fff" stroke-width="1" />
<line x1="826" y1="458.4" x2="797" y2="461.5" stroke="#fff" stroke-width="1" />
<line x1="761" y1="461.8" x2="732" y2="463.3" stroke="#fff" stroke-width="1" />
<line x1="826" y1="461.8" x2="797" y2="464.5" stroke="#fff" stroke-width="1" />
<line x1="761" y1="465.2" x2="732" y2="466.4" stroke="#fff" stroke-width="1" />
<line x1="826" y1="465.2" x2="797" y2="467.5" stroke="#fff" stroke-width="1" />
<line x1="761" y1="468" x2="732" y2="469" stroke="#fff" stroke-width="1" />
<line x1="826" y1="468" x2="797" y2="470" stroke="#fff" stroke-width="1" />
<line x1="761" y1="469.5" x2="732" y2="470.5" stroke="#fff" stroke-width="1" />
<line x1="826" y1="469.5" x2="797" y2="471.5" stroke="#fff" stroke-width="1" />
<line x1="761" y1="471" x2="732" y2="472" stroke="#fff" stroke-width="1" />
<line x1="826" y1="471" x2="797" y2="473" stroke="#fff" stroke-width="1" />
<line x1="761" y1="472.3" x2="732" y2="472.5" stroke="#fff" stroke-width="1" />
<line x1="826" y1="472.3" x2="797" y2="473.5" stroke="#fff" stroke-width="1" />
<line x1="761" y1="475.4" x2="732" y2="476.3" stroke="#fff" stroke-width="1" />
<line x1="826" y1="475.4" x2="797" y2="478" stroke="#fff" stroke-width="1" />
<line x1="761" y1="483.2" x2="732" y2="485.5" stroke="#fff" stroke-width="1" />
<line x1="826" y1="483.2" x2="797" y2="488" stroke="#fff" stroke-width="1" />
<line x1="761" y1="493.3" x2="732" y2="497.4" stroke="#fff" stroke-width="1" />
<line x1="826" y1="493.3" x2="797" y2="499.5" stroke="#fff" stroke-width="1" />
<line x1="761" y1="505.3" x2="732" y2="510.4" stroke="#fff" stroke-width="1" />
<line x1="826" y1="505.3" x2="797" y2="514" stroke="#fff" stroke-width="1" />
<line x1="761" y1="508.2" x2="732" y2="513.5" stroke="#fff" stroke-width="1" />
<line x1="826" y1="508.2" x2="797" y2="517" stroke="#fff" stroke-width="1" />
<line x1="761" y1="524.3" x2="732" y2="527.5" stroke="#fff" stroke-width="1" />
<line x1="826" y1="524.3" x2="798.2" y2="531.6" stroke="#fff" stroke-width="1" />
<line x1="761" y1="529.5" x2="732" y2="532.6" stroke="#fff" stroke-width="1" />
<line x1="826" y1="529.5" x2="798.2" y2="536.4" stroke="#fff" stroke-width="1" />
<line x1="761" y1="586.3" x2="732" y2="586.3" stroke="#fff" stroke-width="1" />
<line x1="826" y1="586.3" x2="797" y2="591.6" stroke="#fff" stroke-width="1" />
<line x1="761" y1="620.3" x2="732.4" y2="623.3" stroke="#fff" stroke-width="1" />
<line x1="761" y1="628.4" x2="732.4" y2="620.3" stroke="#fff" stroke-width="1" />
<line x1="761" y1="632.8" x2="732.4" y2="626.2" stroke="#fff" stroke-width="1" />
<line x1="761" y1="638" x2="732.4" y2="635" stroke="#fff" stroke-width="1" />
<line x1="761" y1="641.7" x2="732.4" y2="639.5" stroke="#fff" stroke-width="1" />
<line x1="761" y1="645.4" x2="732.4" y2="645.4" stroke="#fff" stroke-width="1" />
<line x1="761" y1="652" x2="732.4" y2="666.7" stroke="#fff" stroke-width="1" />
<line x1="761" y1="659.4" x2="732.4" y2="667.5" stroke="#fff" stroke-width="1" />
<line x1="761" y1="666" x2="732.4" y2="666.7" stroke="#fff" stroke-width="1" />
<line x1="761" y1="673.4" x2="732.4" y2="666" stroke="#fff" stroke-width="1" />
<line x1="761" y1="682.2" x2="732.4" y2="680.4" stroke="#fff" stroke-width="1" />
<line x1="761" y1="687.4" x2="732.4" y2="689.6" stroke="#fff" stroke-width="1" />
<line x1="761" y1="691.8" x2="732.4" y2="696.2" stroke="#fff" stroke-width="1" />
<line x1="761" y1="698.4" x2="733" y2="705" stroke="#fff" stroke-width="1" />
<line x1="761" y1="702.1" x2="734" y2="712.4" stroke="#fff" stroke-width="1" />
<line x1="761" y1="708.7" x2="736" y2="721.3" stroke="#fff" stroke-width="1" />
<line x1="761" y1="725.7" x2="779.5" y2="747.8" stroke="#fff" stroke-width="1" />
<line x1="761" y1="739.7" x2="785.4" y2="724.2" stroke="#fff" stroke-width="1" />
<line x1="761" y1="736.7" x2="788.7" y2="727.4" stroke="#fff" stroke-width="1" />
<line x1="826" y1="620.3" x2="798" y2="632.1" stroke="#fff" stroke-width="1" />
<line x1="826" y1="627.7" x2="798" y2="623.3" stroke="#fff" stroke-width="1" />
<line x1="826" y1="632.8" x2="798" y2="631.4" stroke="#fff" stroke-width="1" />
<line x1="826" y1="638.7" x2="798" y2="642.4" stroke="#fff" stroke-width="1" />
<line x1="826" y1="641.2" x2="797" y2="642.3" stroke="#fff" stroke-width="1" />
<line x1="826" y1="645.2" x2="797" y2="646.4" stroke="#fff" stroke-width="1" />
<line x1="826" y1="645.8" x2="798.1" y2="654.5" stroke="#fff" stroke-width="1" />
<line x1="826" y1="651" x2="821.3" y2="667.8" stroke="#fff" stroke-width="1" />
<line x1="826" y1="657.4" x2="814.3" y2="686.3" stroke="#fff" stroke-width="1" />
<line x1="826" y1="666.6" x2="801.6" y2="679.4" stroke="#fff" stroke-width="1" />
<line x1="826" y1="672.4" x2="797" y2="672.4" stroke="#fff" stroke-width="1" />
<line x1="826" y1="673.6" x2="798.1" y2="677.6" stroke="#fff" stroke-width="1" />
<line x1="826" y1="682.3" x2="812" y2="707.7" stroke="#fff" stroke-width="1" />
<line x1="826" y1="688.6" x2="853.7" y2="720.5" stroke="#fff" stroke-width="1" />
<line x1="826" y1="697.9" x2="847.9" y2="719.9" stroke="#fff" stroke-width="1" />
<line x1="826" y1="701.4" x2="844.4" y2="717.6" stroke="#fff" stroke-width="1" />
<line x1="826" y1="707.2" x2="838.6" y2="715.3" stroke="#fff" stroke-width="1" />
<line x1="826" y1="710.6" x2="836.3" y2="714.1" stroke="#fff" stroke-width="1" />
<line x1="826" y1="725.7" x2="856" y2="740.7" stroke="#fff" stroke-width="1" />
<line x1="826" y1="737.3" x2="856" y2="740.2" stroke="#fff" stroke-width="1" />
<line x1="826" y1="740.2" x2="856" y2="742.5" stroke="#fff" stroke-width="1" />
</g>
<text x="62.5" y="29" fill="#fff" font-size="16" text-anchor="start" font-weight="bold" textLength="271.5" lengthAdjust="spacingAndGlyphs" >Station: 16080 Milano Linate (LIML)</text>
<text x="360.5" y="29" fill="#fff" font-size="16" text-anchor="start" font-weight="bold" textLength="128" lengthAdjust="spacingAndGlyphs" >Date: 27.08.2020</text>
<text x="511" y="29" fill="#fff" font-size="16" text-anchor="start" font-weight="bold" textLength="91" lengthAdjust="spacingAndGlyphs" >Time: 2300Z</text>
<text x="53" y="55" fill="#fff" font-size="13" text-anchor="end" font-weight="normal" >100</text>
<text x="53" y="326" fill="#fff" font-size="13" text-anchor="end" font-weight="normal" >200</text>
<text x="53" y="454" fill="#fff" font-size="13" text-anchor="end" font-weight="normal" >300</text>
<text x="53" y="534" fill="#fff" font-size="13" text-anchor="end" font-weight="normal" >400</text>
<text x="53" y="591" fill="#fff" font-size="13" text-anchor="end" font-weight="normal" >500</text>
<text x="53" y="635" fill="#fff" font-size="13" text-anchor="end" font-weight="normal" >600</text>
<text x="53" y="670" fill="#fff" font-size="13" text-anchor="end" font-weight="normal" >700</text>
<text x="53" y="699" fill="#fff" font-size="13" text-anchor="end" font-weight="normal" >800</text>
<text x="53" y="723" fill="#fff" font-size="13" text-anchor="end" font-weight="normal" >900</text>
<text x="53" y="745" fill="#fff" font-size="13" text-anchor="end" font-weight="normal" >1000</text>
<text x="670" y="55" fill="#fff" font-size="13" text-anchor="start" font-weight="normal" >16530m</text>
<text x="670" y="326" fill="#fff" font-size="13" text-anchor="start" font-weight="normal" >12230m</text>
<text x="670" y="454" fill="#fff" font-size="13" text-anchor="start" font-weight="normal" >9550m</text>
<text x="670" y="534" fill="#fff" font-size="13" text-anchor="start" font-weight="normal" >7500m</text>
<text x="670" y="591" fill="#fff" font-size="13" text-anchor="start" font-weight="normal" >5820m</text>
<text x="670" y="635" fill="#fff" font-size="13" text-anchor="start" font-weight="normal" >4362m</text>
<text x="670" y="670" fill="#fff" font-size="13" text-anchor="start" font-weight="normal" >3128m</text>
<text x="670" y="699" fill="#fff" font-size="13" text-anchor="start" font-weight="normal" >2010m</text>
<text x="670" y="723" fill="#fff" font-size="13" text-anchor="start" font-weight="normal" >1010m</text>
<g shape-rendering="crispEdges">
<line x1="61.5" y1="749" x2="61.5" y2="754" stroke="#fff" stroke-width="1" />
<line x1="61.5" y1="788" x2="61.5" y2="793" stroke="#fff" stroke-width="1" />
<line x1="61.5" y1="826" x2="61.5" y2="831" stroke="#fff" stroke-width="1" />
<line x1="121.5" y1="749" x2="121.5" y2="754" stroke="#fff" stroke-width="1" />
<line x1="121.5" y1="788" x2="121.5" y2="793" stroke="#fff" stroke-width="1" />
<line x1="121.5" y1="826" x2="121.5" y2="831" stroke="#fff" stroke-width="1" />
<line x1="181.5" y1="749" x2="181.5" y2="754" stroke="#fff" stroke-width="1" />
<line x1="181.5" y1="788" x2="181.5" y2="793" stroke="#fff" stroke-width="1" />
<line x1="181.5" y1="826" x2="181.5" y2="831" stroke="#fff" stroke-width="1" />
<line x1="241.5" y1="749" x2="241.5" y2="754" stroke="#fff" stroke-width="1" />
<line x1="241.5" y1="788" x2="241.5" y2="793" stroke="#fff" stroke-width="1" />
<line x1="241.5" y1="826" x2="241.5" y2="831" stroke="#fff" stroke-width="1" />
<line x1="301.5" y1="749" x2="301.5" y2="754" stroke="#fff" stroke-width="1" />
<line x1="301.5" y1="788" x2="301.5" y2="793" stroke="#fff" stroke-width="1" />
<line x1="301.5" y1="826" x2="301.5" y2="831" stroke="#fff" stroke-width="1" />
<line x1="361.5" y1="749" x2="361.5" y2="754" stroke="#fff" stroke-width="1" />
<line x1="361.5" y1="788" x2="361.5" y2="793" stroke="#fff" stroke-width="1" />
<line x1="361.5" y1="826" x2="361.5" y2="831" stroke="#fff" stroke-width="1" />
<line x1="421.5" y1="749" x2="421.5" y2="754" stroke="#fff" stroke-width="1" />
<line x1="421.5" y1="788" x2="421.5" y2="793" stroke="#fff" stroke-width="1" />
<line x1="421.5" y1="826" x2="421.5" y2="831" stroke="#fff" stroke-width="1" />
<line x1="481.5" y1="749" x2="481.5" y2="754" stroke="#fff" stroke-width="1" />
<line x1="481.5" y1="788" x2="481.5" y2="793" stroke="#fff" stroke-width="1" />
<line x1="481.5" y1="826" x2="481.5" y2="831" stroke="#fff" stroke-width="1" />
<line x1="541.5" y1="749" x2="541.5" y2="754" stroke="#fff" stroke-width="1" />
<line x1="541.5" y1="788" x2="541.5" y2="793" stroke="#fff" stroke-width="1" />
<line x1="541.5" y1="826" x2="541.5" y2="831" stroke="#fff" stroke-width="1" />
<line x1="601.5" y1="749" x2="601.5" y2="754" stroke="#fff" stroke-width="1" />
<line x1="601.5" y1="788" x2="601.5" y2="793" stroke="#fff" stroke-width="1" />
<line x1="601.5" y1="826" x2="601.5" y2="831" stroke="#fff" stroke-width="1" />
<line x1="661.5" y1="749" x2="661.5" y2="754" stroke="#fff" stroke-width="1" />
<line x1="661.5" y1="788" x2="661.5" y2="793" stroke="#fff" stroke-width="1" />
<line x1="661.5" y1="826" x2="661.5" y2="831" stroke="#fff" stroke-width="1" />
<line x1="61.5" y1="863" x2="61.5" y2="868" stroke="#fff" stroke-width="1" />
<line x1="136.5" y1="863" x2="136.5" y2="868" stroke="#fff" stroke-width="1" />
<line x1="211.5" y1="863" x2="211.5" y2="868" stroke="#fff" stroke-width="1" />
<line x1="286.5" y1="863" x2="286.5" y2="868" stroke="#fff" stroke-width="1" />
<line x1="361.5" y1="863" x2="361.5" y2="868" stroke="#fff" stroke-width="1" />
<line x1="436.5" y1="863" x2="436.5" y2="868" stroke="#fff" stroke-width="1" />
<line x1="511.5" y1="863" x2="511.5" y2="868" stroke="#fff" stroke-width="1" />
<line x1="586.5" y1="863" x2="586.5" y2="868" stroke="#fff" stroke-width="1" />
<line x1="661.5" y1="863" x2="661.5" y2="868" stroke="#fff" stroke-width="1" />
</g>
<text x="61" y="768" fill="#fff" font-size="13" text-anchor="middle" font-weight="normal" >-50</text>
<text x="61" y="806" fill="#fff" font-size="13" text-anchor="middle" font-weight="normal" >0</text>
<text x="61" y="843" fill="#fff" font-size="13" text-anchor="middle" font-weight="normal" >0</text>
<text x="121" y="768" fill="#fff" font-size="13" text-anchor="middle" font-weight="normal" >-40</text>
<text x="121" y="806" fill="#fff" font-size="13" text-anchor="middle" font-weight="normal" >10</text>
<text x="121" y="843" fill="#fff" font-size="13" text-anchor="middle" font-weight="normal" >300</text>
<text x="181" y="768" fill="#fff" font-size="13" text-anchor="middle" font-weight="normal" >-30</text>
<text x="181" y="806" fill="#fff" font-size="13" text-anchor="middle" font-weight="normal" >20</text>
<text x="181" y="843" fill="#fff" font-size="13" text-anchor="middle" font-weight="normal" >600</text>
<text x="241" y="768" fill="#fff" font-size="13" text-anchor="middle" font-weight="normal" >-20</text>
<text x="241" y="806" fill="#fff" font-size="13" text-anchor="middle" font-weight="normal" >30</text>
<text x="241" y="843" fill="#fff" font-size="13" text-anchor="middle" font-weight="normal" >900</text>
<text x="301" y="768" fill="#fff" font-size="13" text-anchor="middle" font-weight="normal" >-10</text>
<text x="301" y="806" fill="#fff" font-size="13" text-anchor="middle" font-weight="normal" >40</text>
<text x="301" y="843" fill="#fff" font-size="13" text-anchor="middle" font-weight="normal" >1200</text>
<text x="361" y="768" fill="#fff" font-size="13" text-anchor="middle" font-weight="normal" >0</text>
<text x="361" y="806" fill="#fff" font-size="13" text-anchor="middle" font-weight="normal" >50</text>
<text x="361" y="843" fill="#fff" font-size="13" text-anchor="middle" font-weight="normal" >1500</text>
<text x="421" y="768" fill="#fff" font-size="13" text-anchor="middle" font-weight="normal" >10</text>
<text x="421" y="806" fill="#fff" font-size="13" text-anchor="middle" font-weight="normal" >60</text>
<text x="421" y="843" fill="#fff" font-size="13" text-anchor="middle" font-weight="normal" >1800</text>
<text x="481" y="768" fill="#fff" font-size="13" text-anchor="middle" font-weight="normal" >20</text>
<text x="481" y="806" fill="#fff" font-size="13" text-anchor="middle" font-weight="normal" >70</text>
<text x="481" y="843" fill="#fff" font-size="13" text-anchor="middle" font-weight="normal" >2100</text>
<text x="541" y="768" fill="#fff" font-size="13" text-anchor="middle" font-weight="normal" >30</text>
<text x="541" y="806" fill="#fff" font-size="13" text-anchor="middle" font-weight="normal" >80</text>
<text x="541" y="843" fill="#fff" font-size="13" text-anchor="middle" font-weight="normal" >2400</text>
<text x="601" y="768" fill="#fff" font-size="13" text-anchor="middle" font-weight="normal" >40</text>
<text x="601" y="806" fill="#fff" font-size="13" text-anchor="middle" font-weight="normal" >90</text>
<text x="601" y="843" fill="#fff" font-size="13" text-anchor="middle" font-weight="normal" >2700</text>
<text x="661" y="768" fill="#fff" font-size="13" text-anchor="middle" font-weight="normal" >50</text>
<text x="661" y="806" fill="#fff" font-size="13" text-anchor="middle" font-weight="normal" >100</text>
<text x="661" y="843" fill="#fff" font-size="13" text-anchor="middle" font-weight="normal" >3000</text>
<text x="61" y="880" fill="#fff" font-size="13" text-anchor="middle" font-weight="normal" >-100</text>
<text x="136" y="880" fill="#fff" font-size="13" text-anchor="middle" font-weight="normal" >-50</text>
<text x="211" y="880" fill="#fff" font-size="13" text-anchor="middle" font-weight="normal" >0</text>
<text x="286" y="880" fill="#fff" font-size="13" text-anchor="middle" font-weight="normal" >50</text>
<text x="361" y="880" fill="#fff" font-size="13" text-anchor="middle" font-weight="normal" >100</text>
<text x="436" y="880" fill="#fff" font-size="13" text-anchor="middle" font-weight="normal" >150</text>
<text x="511" y="880" fill="#fff" font-size="13" text-anchor="middle" font-weight="normal" >200</text>
<text x="586" y="880" fill="#fff" font-size="13" text-anchor="middle" font-weight="normal" >250</text>
<text x="661" y="880" fill="#fff" font-size="13" text-anchor="middle" font-weight="normal" >300</text>
<text x="276" y="781" fill="#fff" font-size="13" text-anchor="start" font-weight="normal" textLength="172" lengthAdjust="spacingAndGlyphs" >Temperature, Dewpoint [ °C ]</text>
<text x="308" y="818.5" fill="#fff" font-size="13" text-anchor="start" font-weight="normal" textLength="105.3" lengthAdjust="spacingAndGlyphs" >Windspeed  [ knt ]</text>
<text x="293" y="856.5" fill="#fff" font-size="13" text-anchor="start" font-weight="normal" textLength="136.4" lengthAdjust="spacingAndGlyphs" >CAPE, CINH * 5  [ J/kg ]</text>
<text x="260" y="892.6" fill="#fff" font-size="13" text-anchor="start" font-weight="normal" textLength="203" lengthAdjust="spacingAndGlyphs" >Storm Relative Helicity  [ m^2/s^2 ]</text>
<text x="894" y="39.5" fill="#fff" font-size="13" text-anchor="start" font-weight="normal" >Parameter</text>
<rect x="894" y="41" width="60" height="1" fill="#fff"/>
<text x="1064" y="39.5" fill="#fff" font-size="13" text-anchor="start" font-weight="normal" >Value LCL</text>
<rect x="1064" y="41" width="60" height="1" fill="#fff"/>
<text x="1152" y="39.5" fill="#fff" font-size="13" text-anchor="start" font-weight="normal" >Value CCL</text>
<rect x="1152" y="41" width="62" height="1" fill="#fff"/>
<text x="1230" y="39.5" fill="#fff" font-size="13" text-anchor="start" font-weight="normal" >Unit</text>
<rect x="1230" y="41" width="23" height="1" fill="#fff"/>
<text x="894" y="62" fill="#fff" font-size="13" text-anchor="start" font-weight="normal" >Convective Temperature:</text>
<text x="1124" y="62" fill="#ff0000" font-size="13" text-anchor="end" font-weight="normal" >28.92</text>
<text x="1230" y="62" fill="#fff" font-size="13" text-anchor="start" font-weight="normal" >[°C]</text>
<text x="894" y="79" fill="#fff" font-size="13" text-anchor="start" font-weight="normal" >Snowfall Height:</text>
<text x="1124" y="79" fill="#fff" font-size="13" text-anchor="end" font-weight="normal" >3495.98</text>
<text x="1230" y="79" fill="#fff" font-size="13" text-anchor="start" font-weight="normal" >[m]</text>
<text x="894" y="104" fill="#fff" font-size="13" text-anchor="start" font-weight="normal" >Parcels: Using 50mB mean layer LCL + CCL</text>
<rect x="894" y="105" width="259" height="1" fill="#fff"/>
<text x="894" y="124" fill="#fff" font-size="13" text-anchor="start" font-weight="normal" >Lifted Index:</text>
<text x="1124" y="124" fill="#ff0000" font-size="13" text-anchor="end" font-weight="normal" >-1.01</text>
<text x="1213" y="124" fill="#ffff00" font-size="13" text-anchor="end" font-weight="normal" >-2.18</text>
<text x="1230" y="124" fill="#fff" font-size="13" text-anchor="start" font-weight="normal" >[°C]</text>
<text x="894" y="141" fill="#fff" font-size="13" text-anchor="start" font-weight="normal" >CAPE ML:</text>
<text x="1124" y="141" fill="#ff0000" font-size="13" text-anchor="end" font-weight="normal" >437.57</text>
<text x="1213" y="141" fill="#ffff00" font-size="13" text-anchor="end" font-weight="normal" >852.38</text>
<text x="1230" y="141" fill="#fff" font-size="13" text-anchor="start" font-weight="normal" >[J/kg]</text>
<text x="894" y="158" fill="#fff" font-size="13" text-anchor="start" font-weight="normal" >CINH | LSI (LCL: 882mB):</text>
<text x="1124" y="158" fill="#ffff00" font-size="13" text-anchor="end" font-weight="normal" >152.73</text>
<text x="1124" y="158" fill="#ffff00" font-size="13" text-anchor="start" font-weight="normal" >,</text>
<text x="1137" y="158" fill="#ffff00" font-size="13" text-anchor="start" font-weight="normal" >2.10</text>
<text x="1230" y="158" fill="#fff" font-size="13" text-anchor="start" font-weight="normal" >[J/kg], [°C]</text>
<text x="894" y="175" fill="#fff" font-size="13" text-anchor="start" font-weight="normal" >CAPE SFC:</text>
<text x="1124" y="175" fill="#ff0000" font-size="13" text-anchor="end" font-weight="normal" >337.03</text>
<text x="1213" y="175" fill="#ffff00" font-size="13" text-anchor="end" font-weight="normal" >1071.10</text>
<text x="1230" y="175" fill="#fff" font-size="13" text-anchor="start" font-weight="normal" >[J/kg]</text>
<text x="894" y="192" fill="#fff" font-size="13" text-anchor="start" font-weight="normal" >CAPE MU | CINH MU:</text>
<text x="1124" y="192" fill="#ff0000" font-size="13" text-anchor="end" font-weight="normal" >930.90</text>
<text x="1124" y="192" fill="#ff0000" font-size="13" text-anchor="start" font-weight="normal" >,</text>
<text x="1137" y="192" fill="#ff0000" font-size="13" text-anchor="start" font-weight="normal" >27.04</text>
<text x="1230" y="192" fill="#fff" font-size="13" text-anchor="start" font-weight="normal" >[J/kg]</text>
<text x="894" y="209" fill="#fff" font-size="13" text-anchor="start" font-weight="normal" >3km SFC CAPE | IL CAPE:</text>
<text x="1124" y="209" fill="#00ff00" font-size="13" text-anchor="end" font-weight="normal" >0.17</text>
<text x="1124" y="209" fill="#00ff00" font-size="13" text-anchor="start" font-weight="normal" >,</text>
<text x="1137" y="209" fill="#ff0000" font-size="13" text-anchor="start" font-weight="normal" >1013.71</text>
<text x="1230" y="209" fill="#fff" font-size="13" text-anchor="start" font-weight="normal" >[J/kg]</text>
<text x="894" y="226" fill="#fff" font-size="13" text-anchor="start" font-weight="normal" >DCAPE (LFS = 628mB):</text>
<text x="1124" y="226" fill="#ffff00" font-size="13" text-anchor="end" font-weight="normal" >451.82</text>
<text x="1230" y="226" fill="#fff" font-size="13" text-anchor="start" font-weight="normal" >[J/kg]</text>
<text x="894" y="243" fill="#fff" font-size="13" text-anchor="start" font-weight="normal" >850-600 Lapse Rate:</text>
<text x="1124" y="243" fill="#00ff00" font-size="13" text-anchor="end" font-weight="normal" >13.00</text>
<text x="1230" y="243" fill="#fff" font-size="13" text-anchor="start" font-weight="normal" >[°C]</text>
<text x="894" y="260" fill="#fff" font-size="13" text-anchor="start" font-weight="normal" >FM Hail Size | SHIP | LHP:</text>
<text x="1124" y="260" fill="#ffff00" font-size="13" text-anchor="end" font-weight="normal" >1.3 - 1.9</text>
<text x="1124" y="260" fill="#ffff00" font-size="13" text-anchor="start" font-weight="normal" >,</text>
<text x="1137" y="260" fill="#00ff00" font-size="13" text-anchor="start" font-weight="normal" >0.37</text>

<text x="1173" y="260" fill="#00ff00" font-size="13" text-anchor="start" font-weight="normal" >0.00</text>
<text x="1163" y="260" fill="#00ff00" font-size="13" text-anchor="start" font-weight="normal" >,</text>
<text x="1230" y="260" fill="#fff" font-size="13" text-anchor="start" font-weight="normal" >[cm], [1], [1]</text>
<text x="894" y="277" fill="#fff" font-size="13" text-anchor="start" font-weight="normal" >Estofex Exp. Hail Param:</text>
<text x="1124" y="277" fill="#ffff00" font-size="13" text-anchor="end" font-weight="normal" >1.57</text>
<text x="1230" y="277" fill="#fff" font-size="13" text-anchor="start" font-weight="normal" >[cm]</text>
<text x="894" y="294" fill="#fff" font-size="13" text-anchor="start" font-weight="normal" >Max. Hail Size (OLD, MU, IL):</text>
<text x="1124" y="294" fill="#00ff00" font-size="13" text-anchor="end" font-weight="normal" >0.80</text>
<text x="1124" y="294" fill="#00ff00" font-size="13" text-anchor="start" font-weight="normal" >,</text>
<text x="1137" y="294" fill="#ffff00" font-size="13" text-anchor="start" font-weight="normal" >2.70</text>

<text x="1173" y="294" fill="#ff0000" font-size="13" text-anchor="start" font-weight="normal" >3.09</text>
<text x="1163" y="294" fill="#ffff00" font-size="13" text-anchor="start" font-weight="normal" >,</text>
<text x="1230" y="294" fill="#fff" font-size="13" text-anchor="start" font-weight="normal" >[cm]</text>
<text x="894" y="314" fill="#fff" font-size="13" text-anchor="start" font-weight="normal" >LCL / CCL (AGL):</text>
<text x="1124" y="314" fill="#ffff00" font-size="13" text-anchor="end" font-weight="normal" >1077.71</text>
<text x="1213" y="314" fill="#ffff00" font-size="13" text-anchor="end" font-weight="normal" >1375.58</text>
<text x="1230" y="314" fill="#fff" font-size="13" text-anchor="start" font-weight="normal" >[m]</text>
<text x="894" y="331" fill="#fff" font-size="13" text-anchor="start" font-weight="normal" >Convective Height:</text>
<text x="1124" y="331" fill="#ff0000" font-size="13" text-anchor="end" font-weight="normal" >9.63</text>
<text x="1213" y="331" fill="#ff0000" font-size="13" text-anchor="end" font-weight="normal" >10.55</text>
<text x="1230" y="331" fill="#fff" font-size="13" text-anchor="start" font-weight="normal" >[km]</text>
<text x="894" y="356" fill="#fff" font-size="13" text-anchor="start" font-weight="normal" >Convective Indices</text>
<rect x="894" y="357" width="105" height="1" fill="#fff"/>
<text x="894" y="376" fill="#fff" font-size="13" text-anchor="start" font-weight="normal" >Showalter Index:</text>
<text x="1124" y="376" fill="#ff0000" font-size="13" text-anchor="end" font-weight="normal" >-1.48</text>
<text x="1230" y="376" fill="#fff" font-size="13" text-anchor="start" font-weight="normal" >[°C]</text>
<text x="894" y="393" fill="#fff" font-size="13" text-anchor="start" font-weight="normal" >Modified Thompson Index:</text>
<text x="1124" y="393" fill="#ff0000" font-size="13" text-anchor="end" font-weight="normal" >40.50</text>
<text x="1230" y="393" fill="#fff" font-size="13" text-anchor="start" font-weight="normal" >[°C]</text>
<text x="894" y="410" fill="#fff" font-size="13" text-anchor="start" font-weight="normal" >Total Totals Index:</text>
<text x="1124" y="410" fill="#ffff00" font-size="13" text-anchor="end" font-weight="normal" >47.20</text>
<text x="1230" y="410" fill="#fff" font-size="13" text-anchor="start" font-weight="normal" >[°C]</text>
<text x="894" y="427" fill="#fff" font-size="13" text-anchor="start" font-weight="normal" >KO Index:</text>
<text x="1124" y="427" fill="#ff0000" font-size="13" text-anchor="end" font-weight="normal" >-16.44</text>
<text x="1230" y="427" fill="#fff" font-size="13" text-anchor="start" font-weight="normal" >[1]</text>
<text x="894" y="444" fill="#fff" font-size="13" text-anchor="start" font-weight="normal" >Craven SigSvr / 1000:</text>
<text x="1124" y="444" fill="#ff0000" font-size="13" text-anchor="end" font-weight="normal" >5.97</text>
<text x="1230" y="444" fill="#fff" font-size="13" text-anchor="start" font-weight="normal" >[m^3/s^3]</text>
<text x="894" y="461" fill="#fff" font-size="13" text-anchor="start" font-weight="normal" >SCP RM (new, old):</text>
<text x="1124" y="461" fill="#ffff00" font-size="13" text-anchor="end" font-weight="normal" >0.30</text>
<text x="1124" y="461" fill="#ffff00" font-size="13" text-anchor="start" font-weight="normal" >,</text>
<text x="1137" y="461" fill="#00ff00" font-size="13" text-anchor="start" font-weight="normal" >0.07</text>
<text x="1230" y="461" fill="#fff" font-size="13" text-anchor="start" font-weight="normal" >[1]</text>
<text x="894" y="478" fill="#fff" font-size="13" text-anchor="start" font-weight="normal" >STP (new, old):</text>
<text x="1124" y="478" fill="#00ff00" font-size="13" text-anchor="end" font-weight="normal" >0.02</text>
<text x="1124" y="478" fill="#00ff00" font-size="13" text-anchor="start" font-weight="normal" >,</text>
<text x="1137" y="478" fill="#00ff00" font-size="13" text-anchor="start" font-weight="normal" >0.03</text>
<text x="1230" y="478" fill="#fff" font-size="13" text-anchor="start" font-weight="normal" >[1]</text>
<text x="894" y="495" fill="#fff" font-size="13" text-anchor="start" font-weight="normal" >SB STP (fix) | CWASP:</text>
<text x="1124" y="495" fill="#00ff00" font-size="13" text-anchor="end" font-weight="normal" >0.04</text>
<text x="1124" y="495" fill="#00ff00" font-size="13" text-anchor="start" font-weight="normal" >,</text>
<text x="1137" y="495" fill="#00ff00" font-size="13" text-anchor="start" font-weight="normal" >47.47</text>
<text x="1230" y="495" fill="#fff" font-size="13" text-anchor="start" font-weight="normal" >[1], [%]</text>
<text x="894" y="512" fill="#fff" font-size="13" text-anchor="start" font-weight="normal" >DCP | MMP | MSP:</text>
<text x="1124" y="512" fill="#00ff00" font-size="13" text-anchor="end" font-weight="normal" >0.13</text>
<text x="1124" y="512" fill="#00ff00" font-size="13" text-anchor="start" font-weight="normal" >,</text>
<text x="1137" y="512" fill="#ffff00" font-size="13" text-anchor="start" font-weight="normal" >67.69</text>

<text x="1179.5" y="512" fill="#00ff00" font-size="13" text-anchor="start" font-weight="normal" >32.19</text>
<text x="1169.5" y="512" fill="#ffff00" font-size="13" text-anchor="start" font-weight="normal" >,</text>
<text x="1230" y="512" fill="#fff" font-size="13" text-anchor="start" font-weight="normal" >[1], [%], [%]</text>
<text x="894" y="529" fill="#fff" font-size="13" text-anchor="start" font-weight="normal" >MB Comp | SHERBE:</text>
<text x="1124" y="529" fill="#00ff00" font-size="13" text-anchor="end" font-weight="normal" >0.00</text>
<text x="1124" y="529" fill="#00ff00" font-size="13" text-anchor="start" font-weight="normal" >,</text>
<text x="1137" y="529" fill="#ffff00" font-size="13" text-anchor="start" font-weight="normal" >0.59</text>
<text x="1230" y="529" fill="#fff" font-size="13" text-anchor="start" font-weight="normal" >[1], [1]</text>
<text x="894" y="546" fill="#fff" font-size="13" text-anchor="start" font-weight="normal" >Exp. Supercell Index CH:</text>
<text x="1124" y="546" fill="#00ff00" font-size="13" text-anchor="end" font-weight="normal" >0.77</text>
<text x="1230" y="546" fill="#fff" font-size="13" text-anchor="start" font-weight="normal" >[1]</text>
<text x="894" y="563" fill="#fff" font-size="13" text-anchor="start" font-weight="normal" >SWISS 12 Index:</text>
<text x="1124" y="563" fill="#ff0000" font-size="13" text-anchor="end" font-weight="normal" >-2.70</text>
<text x="1230" y="563" fill="#fff" font-size="13" text-anchor="start" font-weight="normal" >[1]</text>
<text x="894" y="580" fill="#fff" font-size="13" text-anchor="start" font-weight="normal" >Precipitable Water:</text>
<text x="1124" y="580" fill="#ff0000" font-size="13" text-anchor="end" font-weight="normal" >34.82</text>
<text x="1230" y="580" fill="#fff" font-size="13" text-anchor="start" font-weight="normal" >[mm]</text>
<text x="894" y="605" fill="#fff" font-size="13" text-anchor="start" font-weight="normal" >Wind Parameters</text>
<rect x="894" y="606" width="100" height="1" fill="#fff"/>
<text x="894" y="625" fill="#fff" font-size="13" text-anchor="start" font-weight="normal" >Storm Direction | Motion:</text>
<text x="1124" y="625" fill="#fff" font-size="13" text-anchor="end" font-weight="normal" >289.88</text>
<text x="1124" y="625" fill="#fff" font-size="13" text-anchor="start" font-weight="normal" >,</text>
<text x="1137" y="625" fill="#00ff00" font-size="13" text-anchor="start" font-weight="normal" >7.28</text>
<text x="1230" y="625" fill="#fff" font-size="13" text-anchor="start" font-weight="normal" >[°], [knt]</text>
<text x="894" y="642" fill="#fff" font-size="13" text-anchor="start" font-weight="normal" >500m Critical Angle:</text>
<text x="1124" y="642" fill="#ffff00" font-size="13" text-anchor="end" font-weight="normal" >111.64</text>
<text x="1230" y="642" fill="#fff" font-size="13" text-anchor="start" font-weight="normal" >[°]</text>
<text x="894" y="662" fill="#fff" font-size="13" text-anchor="start" font-weight="normal" >SR Wind Sfc-2km:</text>
<text x="1124" y="662" fill="#00ff00" font-size="13" text-anchor="end" font-weight="normal" >8.79</text>
<text x="1230" y="662" fill="#fff" font-size="13" text-anchor="start" font-weight="normal" >[knt]</text>
<text x="894" y="679" fill="#fff" font-size="13" text-anchor="start" font-weight="normal" >SR Wind 4km-6km:</text>
<text x="1124" y="679" fill="#00ff00" font-size="13" text-anchor="end" font-weight="normal" >11.14</text>
<text x="1230" y="679" fill="#fff" font-size="13" text-anchor="start" font-weight="normal" >[knt]</text>
<text x="894" y="696" fill="#fff" font-size="13" text-anchor="start" font-weight="normal" >SR Wind 9km-11km:</text>
<text x="1124" y="696" fill="#ff0000" font-size="13" text-anchor="end" font-weight="normal" >48.19</text>
<text x="1230" y="696" fill="#fff" font-size="13" text-anchor="start" font-weight="normal" >[knt] CL</text>
<text x="894" y="716" fill="#fff" font-size="13" text-anchor="start" font-weight="normal" >Effective Shear 6000:</text>
<text x="1124" y="716" fill="#ffff00" font-size="13" text-anchor="end" font-weight="normal" >26.54</text>
<text x="1230" y="716" fill="#fff" font-size="13" text-anchor="start" font-weight="normal" >[knt]</text>
<text x="894" y="736" fill="#fff" font-size="13" text-anchor="start" font-weight="normal" >Bulk Richardson Number:</text>
<text x="1124" y="736" fill="#ffff00" font-size="13" text-anchor="end" font-weight="normal" >26.60</text>
<text x="1213" y="736" fill="#ffff00" font-size="13" text-anchor="end" font-weight="normal" >51.82</text>
<text x="1230" y="736" fill="#fff" font-size="13" text-anchor="start" font-weight="normal" >[1]</text>
<text x="894" y="756" fill="#fff" font-size="13" text-anchor="start" font-weight="normal" >3km Effective SRH:</text>
<text x="1124" y="756" fill="#00ff00" font-size="13" text-anchor="end" font-weight="normal" >17.76</text>
<text x="1230" y="756" fill="#fff" font-size="13" text-anchor="start" font-weight="normal" >[m^2/s^2]</text>
<text x="894" y="773" fill="#fff" font-size="13" text-anchor="start" font-weight="normal" >Max 3km SRH (0-2km) | AGL:</text>
<text x="1124" y="773" fill="#00ff00" font-size="13" text-anchor="end" font-weight="normal" >22.15</text>
<text x="1124" y="773" fill="#00ff00" font-size="13" text-anchor="start" font-weight="normal" >,</text>
<text x="1137" y="773" fill="#00ff00" font-size="13" text-anchor="start" font-weight="normal" >1288.00</text>
<text x="1230" y="773" fill="#fff" font-size="13" text-anchor="start" font-weight="normal" >[m^2/s^2], [m]</text>
<text x="894" y="793" fill="#fff" font-size="13" text-anchor="start" font-weight="normal" >3km Energy Helicity Index:</text>
<text x="1124" y="793" fill="#00ff00" font-size="13" text-anchor="end" font-weight="normal" >0.05</text>
<text x="1213" y="793" fill="#00ff00" font-size="13" text-anchor="end" font-weight="normal" >0.09</text>
<text x="1230" y="793" fill="#fff" font-size="13" text-anchor="start" font-weight="normal" >[1]</text>
<text x="894" y="810" fill="#fff" font-size="13" text-anchor="start" font-weight="normal" >3km Vorticity Gen. Pot.:</text>
<text x="1124" y="810" fill="#00ff00" font-size="13" text-anchor="end" font-weight="normal" >0.06</text>
<text x="1213" y="810" fill="#00ff00" font-size="13" text-anchor="end" font-weight="normal" >0.08</text>
<text x="1230" y="810" fill="#fff" font-size="13" text-anchor="start" font-weight="normal" >[m/s^2]</text>
<rect x="729" y="827.4" width="15" height="8" fill="#ff0000"/>
<text x="753.5" y="836.4" fill="#ff0000" font-size="13" text-anchor="start" font-weight="normal" >Temperature Profile</text>
<rect x="729" y="847.4" width="15" height="8" fill="#00ffff"/>
<text x="753.5" y="856.4" fill="#00ffff" font-size="13" text-anchor="start" font-weight="normal" >Dewpoint Profile</text>
<rect x="729" y="867.4" width="15" height="8" fill="#00ff00"/>
<text x="753.5" y="876.4" fill="#00ff00" font-size="13" text-anchor="start" font-weight="normal" >OBS Windspeed Profile</text>
<rect x="729" y="887.4" width="15" height="8" fill="#ff0080"/>
<text x="753.5" y="896.4" fill="#ff0080" font-size="13" text-anchor="start" font-weight="normal" >SR Windspeed Profile</text>
<rect x="729" y="907.4" width="15" height="8" fill="#c8c800"/>
<text x="753.5" y="916.4" fill="#c8c800" font-size="13" text-anchor="start" font-weight="normal" >Sfc-3km Storm Relative Helicity Profile</text>
<rect x="729" y="927.4" width="15" height="8" fill="#3c3a00"/>
<text x="753.5" y="936.4" fill="#3c3a00" font-size="13" text-anchor="start" font-weight="normal" >Effective Layer (CAPE &gt;= 100 J/kg)</text>
<rect x="1079" y="827.4" width="15" height="8" fill="#00ff00"/>
<text x="1103" y="836.4" fill="#00ff00" font-size="13" text-anchor="start" font-weight="normal" >No / Non Severe Thunderstorms</text>
<rect x="1079" y="847.4" width="15" height="8" fill="#ffff00"/>
<text x="1103" y="856.4" fill="#ffff00" font-size="13" text-anchor="start" font-weight="normal" >Scattered / Moderate Thunderstorms</text>
<rect x="1079" y="867.4" width="15" height="8" fill="#ff0000"/>
<text x="1103" y="876.4" fill="#ff0000" font-size="13" text-anchor="start" font-weight="normal" >Widespread / Severe Thunderstorms</text>
<text x="761" y="32" fill="#00ff00" font-size="13" text-anchor="middle" font-weight="bold" >OBS</text>
<text x="826.5" y="32" fill="#ff0080" font-size="13" text-anchor="middle" font-weight="bold" >SR</text>
<g shape-rendering="crispEdges">
<line x1="761.5" y1="40" x2="761.5" y2="770" stroke="#00ff00" stroke-width="1" />
<line x1="826.5" y1="40" x2="826.5" y2="770" stroke="#ff0080" stroke-width="1" />
</g>
</svg>
</body></html>
